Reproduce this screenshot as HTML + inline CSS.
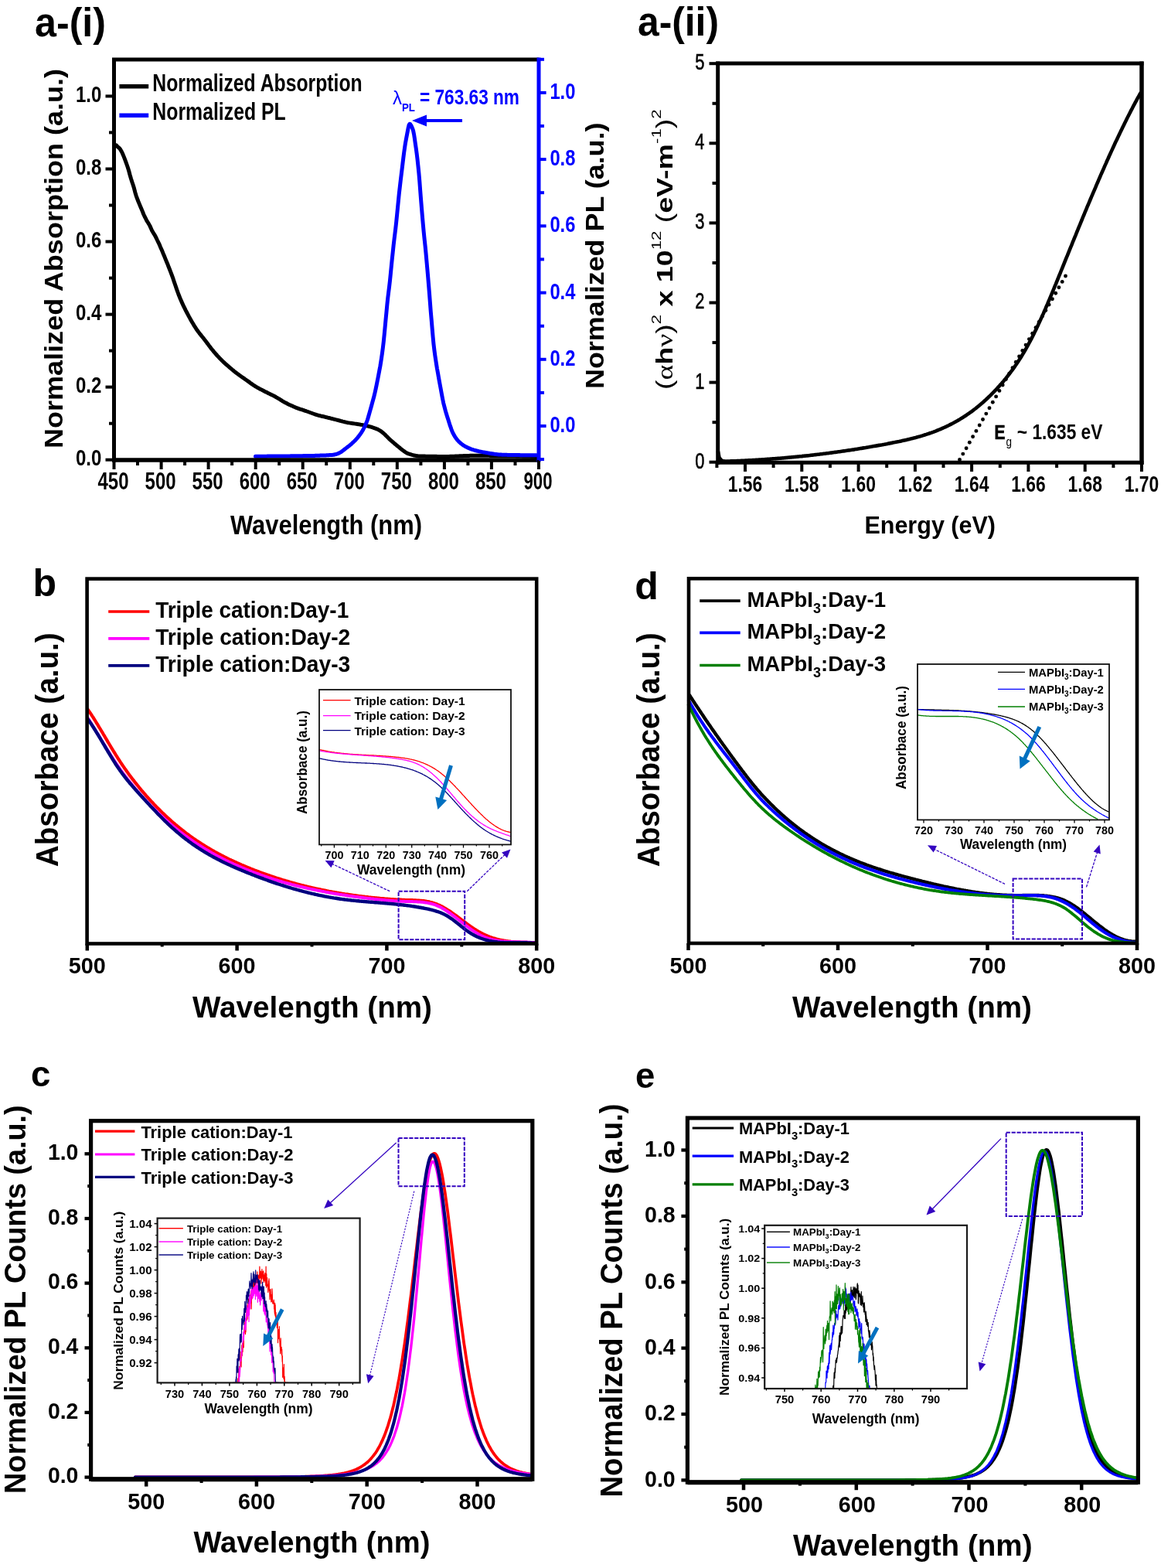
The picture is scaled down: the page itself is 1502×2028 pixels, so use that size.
<!DOCTYPE html>
<html><head><meta charset="utf-8"><title>Figure</title>
<style>
html,body{margin:0;padding:0;background:#fff;}
svg{display:block;}
</style></head><body>
<svg width="1502" height="2028" viewBox="0 0 1502 2028" font-family="'Liberation Sans', Arial, sans-serif" font-weight="bold">
<rect width="1502" height="2028" fill="#fff"/>
<text x="45" y="47.4" font-size="51" textLength="92" lengthAdjust="spacingAndGlyphs">a-(i)</text>
<path d="M150.3,187.8 L151.7,189.3 L153,190.5 L154.4,191.7 L155.8,193.4 L157.1,195.7 L158.5,198.5 L159.8,201.6 L161.2,205.1 L162.6,208.8 L163.9,212.5 L165.3,216.5 L166.7,221 L168,226 L169.4,230.8 L170.7,234.9 L172.1,239 L173.5,243.6 L174.8,248.7 L176.2,253.3 L177.6,257.1 L178.9,260.5 L180.3,263.9 L181.6,267 L183,270.2 L184.4,273.6 L185.7,277 L187.1,280 L188.5,282.7 L189.8,285.3 L191.2,287.5 L192.5,289.6 L193.9,292.1 L195.3,295.2 L196.6,298.2 L198,300.6 L199.4,302.8 L200.7,305.1 L202.1,307.7 L203.4,310.5 L204.8,313.3 L206.2,316.2 L207.5,319.4 L208.9,322.6 L210.3,325.8 L211.6,329.1 L213,332.3 L214.3,335.6 L215.7,339 L217.1,342.3 L218.4,345.8 L219.8,349.2 L221.2,352.8 L222.5,356.4 L223.9,360.2 L225.2,364.2 L226.6,368.3 L228,372.3 L229.3,376.2 L230.7,380 L232.1,383.5 L233.4,386.8 L234.8,389.9 L236.1,392.9 L237.5,395.8 L238.9,398.6 L240.2,401.3 L241.6,404 L243,406.6 L244.3,409.1 L245.7,411.6 L247,414.1 L248.4,416.5 L249.8,418.8 L251.1,421.1 L252.5,423.2 L253.9,425.3 L255.2,427.3 L256.6,429.1 L257.9,430.9 L259.3,432.7 L260.7,434.4 L262,436 L263.4,437.7 L264.8,439.5 L266.1,441.2 L267.5,443.1 L268.9,444.9 L270.2,446.7 L271.6,448.5 L272.9,450.3 L274.3,452 L275.7,453.7 L277,455.3 L278.4,456.9 L279.8,458.5 L281.1,460 L282.5,461.4 L283.8,462.9 L285.2,464.3 L286.6,465.7 L287.9,467 L289.3,468.3 L290.7,469.6 L292,470.8 L293.4,472 L294.7,473.2 L296.1,474.4 L297.5,475.6 L298.8,476.7 L300.2,477.9 L301.6,479 L302.9,480.1 L304.3,481.2 L305.6,482.2 L307,483.3 L308.4,484.3 L309.7,485.3 L311.1,486.3 L312.5,487.3 L313.8,488.2 L315.2,489.1 L316.5,490.1 L317.9,491 L319.3,492 L320.6,492.9 L322,493.9 L323.4,494.9 L324.7,495.9 L326.1,496.9 L327.4,497.8 L328.8,498.7 L330.2,499.6 L331.5,500.4 L332.9,501.2 L334.3,501.9 L335.6,502.7 L337,503.4 L338.3,504.1 L339.7,504.8 L341.1,505.5 L342.4,506.2 L343.8,506.9 L345.2,507.5 L346.5,508.2 L347.9,508.9 L349.2,509.6 L350.6,510.2 L352,510.9 L353.3,511.6 L354.7,512.3 L356.1,513 L357.4,513.8 L358.8,514.6 L360.1,515.4 L361.5,516.2 L362.9,517.1 L364.2,517.9 L365.6,518.8 L367,519.6 L368.3,520.4 L369.7,521.1 L371.1,521.8 L372.4,522.5 L373.8,523.2 L375.1,523.8 L376.5,524.4 L377.9,525 L379.2,525.6 L380.6,526.2 L382,526.8 L383.3,527.3 L384.7,527.8 L386,528.3 L387.4,528.8 L388.8,529.3 L390.1,529.7 L391.5,530.2 L392.9,530.6 L394.2,531.1 L395.6,531.5 L396.9,532 L398.3,532.5 L399.7,533 L401,533.5 L402.4,534 L403.8,534.5 L405.1,535 L406.5,535.5 L407.8,536 L409.2,536.4 L410.6,536.8 L411.9,537.2 L413.3,537.5 L414.7,537.9 L416,538.2 L417.4,538.5 L418.7,538.8 L420.1,539.1 L421.5,539.5 L422.8,539.8 L424.2,540.2 L425.6,540.5 L426.9,540.8 L428.3,541.2 L429.6,541.5 L431,541.9 L432.4,542.2 L433.7,542.6 L435.1,542.9 L436.5,543.3 L437.8,543.6 L439.2,544 L440.5,544.4 L441.9,544.7 L443.3,545.1 L444.6,545.4 L446,545.8 L447.4,546.1 L448.7,546.4 L450.1,546.7 L451.4,546.9 L452.8,547.1 L454.2,547.3 L455.5,547.5 L456.9,547.7 L458.3,547.9 L459.6,548.1 L461,548.3 L462.3,548.5 L463.7,548.7 L465.1,548.9 L466.4,549.2 L467.8,549.4 L469.2,549.6 L470.5,549.9 L471.9,550.2 L473.2,550.5 L474.6,550.8 L476,551.1 L477.3,551.5 L478.7,551.8 L480.1,552.2 L481.4,552.7 L482.8,553.1 L484.2,553.6 L485.5,554 L486.9,554.6 L488.2,555.1 L489.6,555.8 L491,556.6 L492.3,557.4 L493.7,558.4 L495.1,559.5 L496.4,560.6 L497.8,561.8 L499.1,563.2 L500.5,564.6 L501.9,566 L503.2,567.3 L504.6,568.6 L506,569.8 L507.3,571 L508.7,572.2 L510,573.3 L511.4,574.5 L512.8,575.6 L514.1,576.8 L515.5,577.9 L516.9,579 L518.2,580.1 L519.6,581.2 L520.9,582.2 L522.3,583.2 L523.7,584.3 L525,585.2 L526.4,586 L527.8,586.6 L529.1,587 L530.5,587.5 L531.8,587.9 L533.2,588.3 L534.6,588.7 L535.9,589 L537.3,589.3 L538.7,589.5 L540,589.7 L541.4,589.9 L542.7,590 L544.1,590 L545.5,590 L546.8,590.1 L548.2,590.1 L549.6,590.1 L550.9,590.2 L552.3,590.2 L553.6,590.2 L555,590.2 L556.4,590.3 L557.7,590.3 L559.1,590.3 L560.5,590.3 L561.8,590.3 L563.2,590.3 L564.5,590.3 L565.9,590.4 L567.3,590.4 L568.6,590.4 L570,590.4 L571.4,590.4 L572.7,590.4 L574.1,590.4 L575.4,590.4 L576.8,590.4 L578.2,590.4 L579.5,590.4 L580.9,590.4 L582.3,590.3 L583.6,590.3 L585,590.3 L586.4,590.2 L587.7,590.2 L589.1,590.1 L590.4,590 L591.8,590 L593.2,589.9 L594.5,589.8 L595.9,589.8 L597.3,589.7 L598.6,589.7 L600,589.6 L601.3,589.5 L602.7,589.5 L604.1,589.4 L605.4,589.4 L606.8,589.4 L608.2,589.3 L609.5,589.3 L610.9,589.3 L612.2,589.3 L613.6,589.3 L615,589.3 L616.3,589.3 L617.7,589.3 L619.1,589.3 L620.4,589.3 L621.8,589.3 L623.1,589.3 L624.5,589.3 L625.9,589.3 L627.2,589.3 L628.6,589.3 L630,589.3 L631.3,589.3 L632.7,589.3 L634,589.4 L635.4,589.4 L636.8,589.4 L638.1,589.4 L639.5,589.4 L640.9,589.4 L642.2,589.4 L643.6,589.4 L644.9,589.4 L646.3,589.4 L647.7,589.4 L649,589.4 L650.4,589.5 L651.8,589.5 L653.1,589.5 L654.5,589.5 L655.8,589.5 L657.2,589.5 L658.6,589.5 L659.9,589.5 L661.3,589.5 L662.7,589.6 L664,589.6 L665.4,589.6 L666.7,589.6 L668.1,589.7 L669.5,589.7 L670.8,589.7 L672.2,589.8 L673.6,589.8 L674.9,589.8 L676.3,589.9 L677.6,589.9 L679,589.9 L680.4,590 L681.7,590 L683.1,590 L684.5,590.1 L685.8,590.1 L687.2,590.2 L688.5,590.2 L689.9,590.3 L691.3,590.3 L692.6,590.4 L694,590.4" fill="none" stroke="#000" stroke-width="5" stroke-linejoin="round" stroke-linecap="round" />
<path d="M330.5,590.2 L331.4,590.2 L332.3,590.2 L333.2,590.2 L334.1,590.2 L335.1,590.2 L336,590.2 L336.9,590.2 L337.8,590.2 L338.7,590.2 L339.6,590.2 L340.5,590.2 L341.4,590.2 L342.3,590.2 L343.3,590.2 L344.2,590.2 L345.1,590.2 L346,590.1 L346.9,590.1 L347.8,590.1 L348.7,590.1 L349.6,590.1 L350.5,590.1 L351.5,590.1 L352.4,590.1 L353.3,590.1 L354.2,590.1 L355.1,590.1 L356,590.1 L356.9,590.1 L357.8,590.1 L358.7,590 L359.7,590 L360.6,590 L361.5,590 L362.4,590 L363.3,590 L364.2,590 L365.1,590 L366,590 L366.9,590 L367.9,589.9 L368.8,589.9 L369.7,589.9 L370.6,589.9 L371.5,589.9 L372.4,589.9 L373.3,589.9 L374.2,589.9 L375.1,589.9 L376.1,589.8 L377,589.8 L377.9,589.8 L378.8,589.8 L379.7,589.8 L380.6,589.8 L381.5,589.8 L382.4,589.8 L383.3,589.8 L384.3,589.7 L385.2,589.7 L386.1,589.7 L387,589.7 L387.9,589.7 L388.8,589.7 L389.7,589.7 L390.6,589.7 L391.5,589.7 L392.4,589.6 L393.4,589.6 L394.3,589.6 L395.2,589.6 L396.1,589.6 L397,589.6 L397.9,589.6 L398.8,589.5 L399.7,589.5 L400.6,589.5 L401.6,589.5 L402.5,589.5 L403.4,589.5 L404.3,589.4 L405.2,589.4 L406.1,589.4 L407,589.4 L407.9,589.3 L408.8,589.3 L409.8,589.3 L410.7,589.3 L411.6,589.2 L412.5,589.2 L413.4,589.2 L414.3,589.1 L415.2,589.1 L416.1,589.1 L417,589 L418,589 L418.9,589 L419.8,588.9 L420.7,588.9 L421.6,588.9 L422.5,588.8 L423.4,588.8 L424.3,588.7 L425.2,588.7 L426.2,588.6 L427.1,588.6 L428,588.5 L428.9,588.5 L429.8,588.4 L430.7,588.3 L431.6,588.2 L432.5,588 L433.4,587.8 L434.4,587.6 L435.3,587.3 L436.2,587 L437.1,586.6 L438,586.3 L438.9,585.9 L439.8,585.4 L440.7,584.9 L441.6,584.3 L442.6,583.6 L443.5,582.9 L444.4,582.2 L445.3,581.5 L446.2,580.8 L447.1,580.1 L448,579.4 L448.9,578.7 L449.8,578 L450.8,577.3 L451.7,576.6 L452.6,575.8 L453.5,575.1 L454.4,574.3 L455.3,573.5 L456.2,572.7 L457.1,571.8 L458,571 L459,570.1 L459.9,569.1 L460.8,568.1 L461.7,567.1 L462.6,566.1 L463.5,564.9 L464.4,563.8 L465.3,562.6 L466.2,561.3 L467.2,559.9 L468.1,558.5 L469,557 L469.9,555.4 L470.8,553.7 L471.7,551.9 L472.6,550 L473.5,547.9 L474.4,545.7 L475.4,543 L476.3,540 L477.2,536.8 L478.1,533.6 L479,530.4 L479.9,527.2 L480.8,524 L481.7,520.7 L482.6,517.3 L483.6,513.8 L484.5,510.2 L485.4,506.2 L486.3,502.1 L487.2,497.7 L488.1,493.2 L489,488.7 L489.9,484.1 L490.8,479.2 L491.8,474 L492.7,468.5 L493.6,462.7 L494.5,456.4 L495.4,449.5 L496.3,441.7 L497.2,432.7 L498.1,423.2 L499,413.6 L500,403.3 L500.9,393.4 L501.8,385 L502.7,377.8 L503.6,370.6 L504.5,362.7 L505.4,353.8 L506.3,344.6 L507.2,335.5 L508.2,326.3 L509.1,317.6 L510,309.7 L510.9,302.5 L511.8,295.1 L512.7,286.9 L513.6,277.9 L514.5,268.7 L515.4,259.6 L516.3,250.5 L517.3,241.9 L518.2,234 L519.1,226.6 L520,219.4 L520.9,211.9 L521.8,204.4 L522.7,197.2 L523.6,190.8 L524.5,184.9 L525.5,179.5 L526.4,174.7 L527.3,170 L528.2,165.3 L529.1,161.7 L530,160.3 L530.9,160.8 L531.8,162.1 L532.7,164 L533.7,166.4 L534.6,169 L535.5,173.4 L536.4,179.2 L537.3,185.6 L538.2,191.7 L539.1,198.3 L540,205.7 L540.9,214.3 L541.9,223.9 L542.8,234.5 L543.7,246.6 L544.6,258.3 L545.5,269.3 L546.4,280 L547.3,290.3 L548.2,299.9 L549.1,309.1 L550.1,318.1 L551,327.5 L551.9,337.4 L552.8,347.6 L553.7,358 L554.6,368.8 L555.5,379.7 L556.4,391.5 L557.3,403.4 L558.3,414.7 L559.2,425.5 L560.1,435.9 L561,445.2 L561.9,452.9 L562.8,459.6 L563.7,465.7 L564.6,471.5 L565.5,477.1 L566.5,482.5 L567.4,487.7 L568.3,492.7 L569.2,497.6 L570.1,502.4 L571,507.4 L571.9,512.2 L572.8,516.9 L573.7,521.3 L574.7,525.2 L575.6,528.7 L576.5,532 L577.4,535 L578.3,537.9 L579.2,540.8 L580.1,543.6 L581,546.4 L581.9,549.3 L582.9,552.1 L583.8,554.8 L584.7,557.2 L585.6,559.3 L586.5,561.1 L587.4,562.7 L588.3,564.3 L589.2,565.7 L590.1,567 L591.1,568.3 L592,569.4 L592.9,570.4 L593.8,571.3 L594.7,572.1 L595.6,573 L596.5,573.7 L597.4,574.4 L598.3,575.1 L599.3,575.8 L600.2,576.4 L601.1,576.9 L602,577.5 L602.9,577.9 L603.8,578.4 L604.7,578.8 L605.6,579.3 L606.5,579.7 L607.5,580 L608.4,580.4 L609.3,580.8 L610.2,581.1 L611.1,581.4 L612,581.7 L612.9,582 L613.8,582.3 L614.7,582.5 L615.7,582.8 L616.6,583 L617.5,583.2 L618.4,583.4 L619.3,583.7 L620.2,583.9 L621.1,584.1 L622,584.2 L622.9,584.4 L623.9,584.6 L624.8,584.8 L625.7,584.9 L626.6,585.1 L627.5,585.2 L628.4,585.4 L629.3,585.6 L630.2,585.7 L631.1,585.9 L632.1,586.1 L633,586.2 L633.9,586.4 L634.8,586.5 L635.7,586.7 L636.6,586.8 L637.5,587 L638.4,587.1 L639.3,587.2 L640.2,587.4 L641.2,587.5 L642.1,587.6 L643,587.7 L643.9,587.8 L644.8,587.9 L645.7,588 L646.6,588 L647.5,588.1 L648.4,588.1 L649.4,588.2 L650.3,588.2 L651.2,588.2 L652.1,588.3 L653,588.3 L653.9,588.3 L654.8,588.3 L655.7,588.3 L656.6,588.4 L657.6,588.4 L658.5,588.4 L659.4,588.4 L660.3,588.4 L661.2,588.5 L662.1,588.5 L663,588.5 L663.9,588.5 L664.8,588.5 L665.8,588.5 L666.7,588.6 L667.6,588.6 L668.5,588.6 L669.4,588.6 L670.3,588.6 L671.2,588.6 L672.1,588.6 L673,588.7 L674,588.7 L674.9,588.7 L675.8,588.7 L676.7,588.7 L677.6,588.7 L678.5,588.7 L679.4,588.7 L680.3,588.7 L681.2,588.7 L682.2,588.8 L683.1,588.8 L684,588.8 L684.9,588.8 L685.8,588.8 L686.7,588.8 L687.6,588.8 L688.5,588.8 L689.4,588.8 L690.4,588.8 L691.3,588.8 L692.2,588.8 L693.1,588.8 L694,588.8" fill="none" stroke="#0000ff" stroke-width="5" stroke-linejoin="round" stroke-linecap="round" />
<line x1="147.5" y1="77" x2="147.5" y2="597.5" stroke="#000" stroke-width="5" />
<line x1="145" y1="595" x2="697" y2="595" stroke="#000" stroke-width="5.5" />
<line x1="145" y1="77" x2="697" y2="77" stroke="#000" stroke-width="5" />
<line x1="697" y1="74.5" x2="697" y2="597.5" stroke="#0000ff" stroke-width="5" />
<line x1="136.5" y1="594.7" x2="147.5" y2="594.7" stroke="#000" stroke-width="4" />
<text x="131.4" y="602.3" font-size="30" text-anchor="end" textLength="33.4" lengthAdjust="spacingAndGlyphs">0.0</text>
<line x1="141" y1="547.7" x2="147.5" y2="547.7" stroke="#000" stroke-width="4" />
<line x1="136.5" y1="500.6" x2="147.5" y2="500.6" stroke="#000" stroke-width="4" />
<text x="131.4" y="508.2" font-size="30" text-anchor="end" textLength="33.4" lengthAdjust="spacingAndGlyphs">0.2</text>
<line x1="141" y1="453.6" x2="147.5" y2="453.6" stroke="#000" stroke-width="4" />
<line x1="136.5" y1="406.6" x2="147.5" y2="406.6" stroke="#000" stroke-width="4" />
<text x="131.4" y="414.2" font-size="30" text-anchor="end" textLength="33.4" lengthAdjust="spacingAndGlyphs">0.4</text>
<line x1="141" y1="359.6" x2="147.5" y2="359.6" stroke="#000" stroke-width="4" />
<line x1="136.5" y1="312.5" x2="147.5" y2="312.5" stroke="#000" stroke-width="4" />
<text x="131.4" y="320.1" font-size="30" text-anchor="end" textLength="33.4" lengthAdjust="spacingAndGlyphs">0.6</text>
<line x1="141" y1="265.5" x2="147.5" y2="265.5" stroke="#000" stroke-width="4" />
<line x1="136.5" y1="218.5" x2="147.5" y2="218.5" stroke="#000" stroke-width="4" />
<text x="131.4" y="226.1" font-size="30" text-anchor="end" textLength="33.4" lengthAdjust="spacingAndGlyphs">0.8</text>
<line x1="141" y1="171.4" x2="147.5" y2="171.4" stroke="#000" stroke-width="4" />
<line x1="136.5" y1="124.4" x2="147.5" y2="124.4" stroke="#000" stroke-width="4" />
<text x="131.4" y="132" font-size="30" text-anchor="end" textLength="33.4" lengthAdjust="spacingAndGlyphs">1.0</text>
<line x1="147.5" y1="595" x2="147.5" y2="607" stroke="#000" stroke-width="4" />
<text x="146.5" y="633" font-size="31" text-anchor="middle" textLength="40" lengthAdjust="spacingAndGlyphs">450</text>
<line x1="178" y1="595" x2="178" y2="602" stroke="#000" stroke-width="4" />
<line x1="208.6" y1="595" x2="208.6" y2="607" stroke="#000" stroke-width="4" />
<text x="207.6" y="633" font-size="31" text-anchor="middle" textLength="40" lengthAdjust="spacingAndGlyphs">500</text>
<line x1="239.1" y1="595" x2="239.1" y2="602" stroke="#000" stroke-width="4" />
<line x1="269.6" y1="595" x2="269.6" y2="607" stroke="#000" stroke-width="4" />
<text x="268.6" y="633" font-size="31" text-anchor="middle" textLength="40" lengthAdjust="spacingAndGlyphs">550</text>
<line x1="300.1" y1="595" x2="300.1" y2="602" stroke="#000" stroke-width="4" />
<line x1="330.7" y1="595" x2="330.7" y2="607" stroke="#000" stroke-width="4" />
<text x="329.7" y="633" font-size="31" text-anchor="middle" textLength="40" lengthAdjust="spacingAndGlyphs">600</text>
<line x1="361.2" y1="595" x2="361.2" y2="602" stroke="#000" stroke-width="4" />
<line x1="391.7" y1="595" x2="391.7" y2="607" stroke="#000" stroke-width="4" />
<text x="390.7" y="633" font-size="31" text-anchor="middle" textLength="40" lengthAdjust="spacingAndGlyphs">650</text>
<line x1="422.2" y1="595" x2="422.2" y2="602" stroke="#000" stroke-width="4" />
<line x1="452.8" y1="595" x2="452.8" y2="607" stroke="#000" stroke-width="4" />
<text x="451.8" y="633" font-size="31" text-anchor="middle" textLength="40" lengthAdjust="spacingAndGlyphs">700</text>
<line x1="483.3" y1="595" x2="483.3" y2="602" stroke="#000" stroke-width="4" />
<line x1="513.8" y1="595" x2="513.8" y2="607" stroke="#000" stroke-width="4" />
<text x="512.8" y="633" font-size="31" text-anchor="middle" textLength="40" lengthAdjust="spacingAndGlyphs">750</text>
<line x1="544.4" y1="595" x2="544.4" y2="602" stroke="#000" stroke-width="4" />
<line x1="574.9" y1="595" x2="574.9" y2="607" stroke="#000" stroke-width="4" />
<text x="573.9" y="633" font-size="31" text-anchor="middle" textLength="40" lengthAdjust="spacingAndGlyphs">800</text>
<line x1="605.4" y1="595" x2="605.4" y2="602" stroke="#000" stroke-width="4" />
<line x1="635.9" y1="595" x2="635.9" y2="607" stroke="#000" stroke-width="4" />
<text x="634.9" y="633" font-size="31" text-anchor="middle" textLength="40" lengthAdjust="spacingAndGlyphs">850</text>
<line x1="666.5" y1="595" x2="666.5" y2="602" stroke="#000" stroke-width="4" />
<line x1="697" y1="595" x2="697" y2="607" stroke="#000" stroke-width="4" />
<text x="696" y="633" font-size="31" text-anchor="middle" textLength="37" lengthAdjust="spacingAndGlyphs">900</text>
<line x1="697" y1="594.1" x2="704" y2="594.1" stroke="#0000ff" stroke-width="4" />
<line x1="697" y1="551" x2="706.6" y2="551" stroke="#0000ff" stroke-width="4" />
<text x="711.4" y="559" font-size="30" fill="#0000ff" textLength="33" lengthAdjust="spacingAndGlyphs">0.0</text>
<line x1="697" y1="507.9" x2="704" y2="507.9" stroke="#0000ff" stroke-width="4" />
<line x1="697" y1="464.8" x2="706.6" y2="464.8" stroke="#0000ff" stroke-width="4" />
<text x="711.4" y="472.8" font-size="30" fill="#0000ff" textLength="33" lengthAdjust="spacingAndGlyphs">0.2</text>
<line x1="697" y1="421.7" x2="704" y2="421.7" stroke="#0000ff" stroke-width="4" />
<line x1="697" y1="378.6" x2="706.6" y2="378.6" stroke="#0000ff" stroke-width="4" />
<text x="711.4" y="386.6" font-size="30" fill="#0000ff" textLength="33" lengthAdjust="spacingAndGlyphs">0.4</text>
<line x1="697" y1="335.4" x2="704" y2="335.4" stroke="#0000ff" stroke-width="4" />
<line x1="697" y1="292.3" x2="706.6" y2="292.3" stroke="#0000ff" stroke-width="4" />
<text x="711.4" y="300.3" font-size="30" fill="#0000ff" textLength="33" lengthAdjust="spacingAndGlyphs">0.6</text>
<line x1="697" y1="249.2" x2="704" y2="249.2" stroke="#0000ff" stroke-width="4" />
<line x1="697" y1="206.1" x2="706.6" y2="206.1" stroke="#0000ff" stroke-width="4" />
<text x="711.4" y="214.1" font-size="30" fill="#0000ff" textLength="33" lengthAdjust="spacingAndGlyphs">0.8</text>
<line x1="697" y1="163" x2="704" y2="163" stroke="#0000ff" stroke-width="4" />
<line x1="697" y1="119.9" x2="706.6" y2="119.9" stroke="#0000ff" stroke-width="4" />
<text x="711.4" y="127.9" font-size="30" fill="#0000ff" textLength="33" lengthAdjust="spacingAndGlyphs">1.0</text>
<line x1="697" y1="76.8" x2="704" y2="76.8" stroke="#0000ff" stroke-width="4" />
<text x="0" y="0" transform="translate(81.4,580) rotate(-90)" font-size="34" textLength="491" lengthAdjust="spacingAndGlyphs">Normalized Absorption (a.u.)</text>
<text x="0" y="0" transform="translate(780.6,503) rotate(-90)" font-size="34" textLength="344.5" lengthAdjust="spacingAndGlyphs">Normalized PL (a.u.)</text>
<text x="298" y="691.4" font-size="34.5" textLength="248" lengthAdjust="spacingAndGlyphs">Wavelength (nm)</text>
<line x1="154.4" y1="111.8" x2="192.2" y2="111.8" stroke="#000" stroke-width="5.5" />
<line x1="154.4" y1="149.2" x2="192.2" y2="149.2" stroke="#0000ff" stroke-width="5.5" />
<text x="197.3" y="118" font-size="31.5" textLength="271.4" lengthAdjust="spacingAndGlyphs">Normalized Absorption</text>
<text x="197.3" y="154.9" font-size="31.5" textLength="172.5" lengthAdjust="spacingAndGlyphs">Normalized PL</text>
<text x="508" y="135" font-size="24" fill="#0000ff" font-weight="normal" textLength="12" lengthAdjust="spacingAndGlyphs">λ</text>
<text x="520" y="144" font-size="15" fill="#0000ff" textLength="17" lengthAdjust="spacingAndGlyphs">PL</text>
<text x="543" y="135" font-size="27" fill="#0000ff" textLength="129" lengthAdjust="spacingAndGlyphs">= 763.63 nm</text>
<line x1="598" y1="156" x2="545" y2="156" stroke="#0000ff" stroke-width="4" />
<path d="M533,156 L552,148.5 L552,163.5Z" fill="#0000ff"/>
<text x="825" y="45.5" font-size="51" textLength="105" lengthAdjust="spacingAndGlyphs">a-(ii)</text>
<path d="M929,584 L930.5,592 L934,596 L938,596.8" fill="none" stroke="#000" stroke-width="4.6" stroke-linejoin="round" stroke-linecap="round" />
<path d="M936,596.8 L937.4,596.7 L938.7,596.7 L940.1,596.6 L941.4,596.6 L942.8,596.5 L944.1,596.5 L945.5,596.4 L946.8,596.4 L948.2,596.3 L949.5,596.3 L950.9,596.2 L952.2,596.2 L953.6,596.1 L954.9,596.1 L956.3,596 L957.6,596 L959,595.9 L960.3,595.8 L961.7,595.8 L963,595.7 L964.4,595.6 L965.7,595.6 L967.1,595.5 L968.5,595.4 L969.8,595.4 L971.2,595.3 L972.5,595.2 L973.9,595.1 L975.2,595.1 L976.6,595 L977.9,594.9 L979.3,594.8 L980.6,594.7 L982,594.6 L983.3,594.6 L984.7,594.5 L986,594.4 L987.4,594.3 L988.7,594.2 L990.1,594.1 L991.4,594 L992.8,593.9 L994.1,593.8 L995.5,593.7 L996.8,593.6 L998.2,593.5 L999.6,593.4 L1000.9,593.3 L1002.3,593.2 L1003.6,593.1 L1005,593 L1006.3,592.9 L1007.7,592.8 L1009,592.7 L1010.4,592.6 L1011.7,592.5 L1013.1,592.4 L1014.4,592.2 L1015.8,592.1 L1017.1,592 L1018.5,591.9 L1019.8,591.8 L1021.2,591.6 L1022.5,591.5 L1023.9,591.4 L1025.2,591.3 L1026.6,591.1 L1027.9,591 L1029.3,590.9 L1030.6,590.8 L1032,590.6 L1033.4,590.5 L1034.7,590.3 L1036.1,590.2 L1037.4,590.1 L1038.8,589.9 L1040.1,589.8 L1041.5,589.6 L1042.8,589.5 L1044.2,589.4 L1045.5,589.2 L1046.9,589.1 L1048.2,588.9 L1049.6,588.8 L1050.9,588.6 L1052.3,588.5 L1053.6,588.3 L1055,588.1 L1056.3,588 L1057.7,587.8 L1059,587.7 L1060.4,587.5 L1061.7,587.3 L1063.1,587.2 L1064.5,587 L1065.8,586.8 L1067.2,586.7 L1068.5,586.5 L1069.9,586.3 L1071.2,586.2 L1072.6,586 L1073.9,585.8 L1075.3,585.6 L1076.6,585.4 L1078,585.3 L1079.3,585.1 L1080.7,584.9 L1082,584.7 L1083.4,584.5 L1084.7,584.3 L1086.1,584.2 L1087.4,584 L1088.8,583.8 L1090.1,583.6 L1091.5,583.4 L1092.8,583.2 L1094.2,583 L1095.6,582.8 L1096.9,582.6 L1098.3,582.4 L1099.6,582.2 L1101,582 L1102.3,581.8 L1103.7,581.6 L1105,581.4 L1106.4,581.1 L1107.7,580.9 L1109.1,580.7 L1110.4,580.5 L1111.8,580.3 L1113.1,580.1 L1114.5,579.9 L1115.8,579.6 L1117.2,579.4 L1118.5,579.2 L1119.9,579 L1121.2,578.7 L1122.6,578.5 L1123.9,578.3 L1125.3,578 L1126.7,577.8 L1128,577.6 L1129.4,577.3 L1130.7,577.1 L1132.1,576.9 L1133.4,576.6 L1134.8,576.4 L1136.1,576.1 L1137.5,575.9 L1138.8,575.7 L1140.2,575.4 L1141.5,575.2 L1142.9,574.9 L1144.2,574.7 L1145.6,574.4 L1146.9,574.2 L1148.3,573.9 L1149.6,573.6 L1151,573.4 L1152.3,573.1 L1153.7,572.9 L1155,572.6 L1156.4,572.3 L1157.7,572.1 L1159.1,571.8 L1160.5,571.5 L1161.8,571.2 L1163.2,571 L1164.5,570.7 L1165.9,570.4 L1167.2,570.1 L1168.6,569.8 L1169.9,569.5 L1171.3,569.2 L1172.6,568.9 L1174,568.6 L1175.3,568.2 L1176.7,567.9 L1178,567.6 L1179.4,567.3 L1180.7,566.9 L1182.1,566.6 L1183.4,566.2 L1184.8,565.9 L1186.1,565.5 L1187.5,565.1 L1188.8,564.7 L1190.2,564.4 L1191.6,564 L1192.9,563.6 L1194.3,563.1 L1195.6,562.7 L1197,562.3 L1198.3,561.9 L1199.7,561.4 L1201,561 L1202.4,560.5 L1203.7,560 L1205.1,559.6 L1206.4,559.1 L1207.8,558.6 L1209.1,558.1 L1210.5,557.6 L1211.8,557 L1213.2,556.5 L1214.5,555.9 L1215.9,555.4 L1217.2,554.8 L1218.6,554.2 L1219.9,553.6 L1221.3,553 L1222.7,552.4 L1224,551.8 L1225.4,551.1 L1226.7,550.5 L1228.1,549.8 L1229.4,549.1 L1230.8,548.4 L1232.1,547.7 L1233.5,547 L1234.8,546.3 L1236.2,545.5 L1237.5,544.8 L1238.9,544 L1240.2,543.2 L1241.6,542.4 L1242.9,541.6 L1244.3,540.8 L1245.6,539.9 L1247,539.1 L1248.3,538.2 L1249.7,537.3 L1251,536.4 L1252.4,535.4 L1253.8,534.5 L1255.1,533.5 L1256.5,532.6 L1257.8,531.6 L1259.2,530.6 L1260.5,529.5 L1261.9,528.5 L1263.2,527.4 L1264.6,526.3 L1265.9,525.2 L1267.3,524.1 L1268.6,523 L1270,521.8 L1271.3,520.7 L1272.7,519.5 L1274,518.2 L1275.4,517 L1276.7,515.8 L1278.1,514.5 L1279.4,513.2 L1280.8,511.9 L1282.1,510.6 L1283.5,509.2 L1284.8,507.8 L1286.2,506.4 L1287.6,505 L1288.9,503.6 L1290.3,502.1 L1291.6,500.6 L1293,499.1 L1294.3,497.6 L1295.7,496.1 L1297,494.5 L1298.4,492.9 L1299.7,491.3 L1301.1,489.6 L1302.4,487.9 L1303.8,486.2 L1305.1,484.5 L1306.5,482.7 L1307.8,480.9 L1309.2,479.1 L1310.5,477.3 L1311.9,475.4 L1313.2,473.4 L1314.6,471.5 L1315.9,469.5 L1317.3,467.4 L1318.7,465.3 L1320,463.2 L1321.4,461.1 L1322.7,458.9 L1324.1,456.6 L1325.4,454.3 L1326.8,452 L1328.1,449.6 L1329.5,447.2 L1330.8,444.7 L1332.2,442.2 L1333.5,439.7 L1334.9,437.1 L1336.2,434.4 L1337.6,431.7 L1338.9,428.9 L1340.3,426.2 L1341.6,423.3 L1343,420.4 L1344.3,417.5 L1345.7,414.6 L1347,411.6 L1348.4,408.6 L1349.8,405.6 L1351.1,402.5 L1352.5,399.4 L1353.8,396.2 L1355.2,393.1 L1356.5,389.9 L1357.9,386.7 L1359.2,383.5 L1360.6,380.2 L1361.9,377 L1363.3,373.7 L1364.6,370.4 L1366,367.1 L1367.3,363.8 L1368.7,360.5 L1370,357.2 L1371.4,353.8 L1372.7,350.5 L1374.1,347.1 L1375.4,343.8 L1376.8,340.4 L1378.1,337.1 L1379.5,333.7 L1380.9,330.4 L1382.2,327.1 L1383.6,323.7 L1384.9,320.4 L1386.3,317.1 L1387.6,313.7 L1389,310.4 L1390.3,307.1 L1391.7,303.8 L1393,300.5 L1394.4,297.2 L1395.7,293.9 L1397.1,290.6 L1398.4,287.3 L1399.8,284 L1401.1,280.7 L1402.5,277.5 L1403.8,274.2 L1405.2,271 L1406.5,267.7 L1407.9,264.5 L1409.2,261.3 L1410.6,258 L1411.9,254.8 L1413.3,251.6 L1414.7,248.4 L1416,245.3 L1417.4,242.1 L1418.7,238.9 L1420.1,235.8 L1421.4,232.7 L1422.8,229.5 L1424.1,226.4 L1425.5,223.3 L1426.8,220.3 L1428.2,217.2 L1429.5,214.1 L1430.9,211.1 L1432.2,208 L1433.6,205 L1434.9,202 L1436.3,199 L1437.6,196.1 L1439,193.1 L1440.3,190.2 L1441.7,187.2 L1443,184.3 L1444.4,181.4 L1445.8,178.6 L1447.1,175.7 L1448.5,172.9 L1449.8,170.1 L1451.2,167.3 L1452.5,164.5 L1453.9,161.7 L1455.2,159 L1456.6,156.2 L1457.9,153.5 L1459.3,150.8 L1460.6,148.2 L1462,145.5 L1463.3,142.9 L1464.7,140.3 L1466,137.7 L1467.4,135.2 L1468.7,132.6 L1470.1,130.1 L1471.4,127.6 L1472.8,125.2 L1474.1,122.7 L1475.5,120.3" fill="none" stroke="#000" stroke-width="4.6" stroke-linejoin="round" stroke-linecap="round" />
<circle cx="1241.5" cy="594.5" r="2.45" fill="#000"/>
<circle cx="1245.8" cy="587.1" r="2.45" fill="#000"/>
<circle cx="1250.1" cy="579.7" r="2.45" fill="#000"/>
<circle cx="1254.3" cy="572.2" r="2.45" fill="#000"/>
<circle cx="1258.6" cy="564.8" r="2.45" fill="#000"/>
<circle cx="1262.9" cy="557.4" r="2.45" fill="#000"/>
<circle cx="1267.2" cy="550" r="2.45" fill="#000"/>
<circle cx="1271.5" cy="542.5" r="2.45" fill="#000"/>
<circle cx="1275.8" cy="535.1" r="2.45" fill="#000"/>
<circle cx="1280" cy="527.7" r="2.45" fill="#000"/>
<circle cx="1284.3" cy="520.3" r="2.45" fill="#000"/>
<circle cx="1288.6" cy="512.9" r="2.45" fill="#000"/>
<circle cx="1292.9" cy="505.4" r="2.45" fill="#000"/>
<circle cx="1297.2" cy="498" r="2.45" fill="#000"/>
<circle cx="1301.4" cy="490.6" r="2.45" fill="#000"/>
<circle cx="1305.7" cy="483.2" r="2.45" fill="#000"/>
<circle cx="1310" cy="475.8" r="2.45" fill="#000"/>
<circle cx="1314.3" cy="468.3" r="2.45" fill="#000"/>
<circle cx="1318.6" cy="460.9" r="2.45" fill="#000"/>
<circle cx="1322.8" cy="453.5" r="2.45" fill="#000"/>
<circle cx="1327.1" cy="446.1" r="2.45" fill="#000"/>
<circle cx="1331.4" cy="438.6" r="2.45" fill="#000"/>
<circle cx="1335.7" cy="431.2" r="2.45" fill="#000"/>
<circle cx="1340" cy="423.8" r="2.45" fill="#000"/>
<circle cx="1344.2" cy="416.4" r="2.45" fill="#000"/>
<circle cx="1348.5" cy="409" r="2.45" fill="#000"/>
<circle cx="1352.8" cy="401.5" r="2.45" fill="#000"/>
<circle cx="1357.1" cy="394.1" r="2.45" fill="#000"/>
<circle cx="1361.4" cy="386.7" r="2.45" fill="#000"/>
<circle cx="1365.7" cy="379.3" r="2.45" fill="#000"/>
<circle cx="1369.9" cy="371.8" r="2.45" fill="#000"/>
<circle cx="1374.2" cy="364.4" r="2.45" fill="#000"/>
<circle cx="1378.5" cy="357" r="2.45" fill="#000"/>
<line x1="928.7" y1="79.5" x2="928.7" y2="600.8" stroke="#000" stroke-width="5" />
<line x1="926.2" y1="598.3" x2="1479.5" y2="598.3" stroke="#000" stroke-width="5" />
<line x1="926.2" y1="82" x2="1479.5" y2="82" stroke="#000" stroke-width="5" />
<line x1="1477" y1="79.5" x2="1477" y2="600.8" stroke="#000" stroke-width="5.5" />
<line x1="917.5" y1="597.7" x2="928.7" y2="597.7" stroke="#000" stroke-width="4" />
<text x="911.4" y="605.6" font-size="30" text-anchor="end" font-weight="normal" textLength="12.2" lengthAdjust="spacingAndGlyphs" stroke="#000" stroke-width="0.6">0</text>
<line x1="921.5" y1="546.2" x2="928.7" y2="546.2" stroke="#000" stroke-width="4" />
<line x1="917.5" y1="494.6" x2="928.7" y2="494.6" stroke="#000" stroke-width="4" />
<text x="911.4" y="502.5" font-size="30" text-anchor="end" font-weight="normal" textLength="12.2" lengthAdjust="spacingAndGlyphs" stroke="#000" stroke-width="0.6">1</text>
<line x1="921.5" y1="443.1" x2="928.7" y2="443.1" stroke="#000" stroke-width="4" />
<line x1="917.5" y1="391.5" x2="928.7" y2="391.5" stroke="#000" stroke-width="4" />
<text x="911.4" y="399.4" font-size="30" text-anchor="end" font-weight="normal" textLength="12.2" lengthAdjust="spacingAndGlyphs" stroke="#000" stroke-width="0.6">2</text>
<line x1="921.5" y1="340" x2="928.7" y2="340" stroke="#000" stroke-width="4" />
<line x1="917.5" y1="288.4" x2="928.7" y2="288.4" stroke="#000" stroke-width="4" />
<text x="911.4" y="296.3" font-size="30" text-anchor="end" font-weight="normal" textLength="12.2" lengthAdjust="spacingAndGlyphs" stroke="#000" stroke-width="0.6">3</text>
<line x1="921.5" y1="236.9" x2="928.7" y2="236.9" stroke="#000" stroke-width="4" />
<line x1="917.5" y1="185.3" x2="928.7" y2="185.3" stroke="#000" stroke-width="4" />
<text x="911.4" y="193.2" font-size="30" text-anchor="end" font-weight="normal" textLength="12.2" lengthAdjust="spacingAndGlyphs" stroke="#000" stroke-width="0.6">4</text>
<line x1="921.5" y1="133.8" x2="928.7" y2="133.8" stroke="#000" stroke-width="4" />
<line x1="917.5" y1="82.2" x2="928.7" y2="82.2" stroke="#000" stroke-width="4" />
<text x="911.4" y="90.1" font-size="30" text-anchor="end" font-weight="normal" textLength="12.2" lengthAdjust="spacingAndGlyphs" stroke="#000" stroke-width="0.6">5</text>
<line x1="927.4" y1="598.3" x2="927.4" y2="605" stroke="#000" stroke-width="4" />
<line x1="964" y1="598.3" x2="964" y2="610" stroke="#000" stroke-width="4" />
<text x="964" y="635.5" font-size="30" text-anchor="middle" textLength="44.5" lengthAdjust="spacingAndGlyphs">1.56</text>
<line x1="1000.6" y1="598.3" x2="1000.6" y2="605" stroke="#000" stroke-width="4" />
<line x1="1037.3" y1="598.3" x2="1037.3" y2="610" stroke="#000" stroke-width="4" />
<text x="1037.3" y="635.5" font-size="30" text-anchor="middle" textLength="44.5" lengthAdjust="spacingAndGlyphs">1.58</text>
<line x1="1073.9" y1="598.3" x2="1073.9" y2="605" stroke="#000" stroke-width="4" />
<line x1="1110.6" y1="598.3" x2="1110.6" y2="610" stroke="#000" stroke-width="4" />
<text x="1110.6" y="635.5" font-size="30" text-anchor="middle" textLength="44.5" lengthAdjust="spacingAndGlyphs">1.60</text>
<line x1="1147.2" y1="598.3" x2="1147.2" y2="605" stroke="#000" stroke-width="4" />
<line x1="1183.9" y1="598.3" x2="1183.9" y2="610" stroke="#000" stroke-width="4" />
<text x="1183.9" y="635.5" font-size="30" text-anchor="middle" textLength="44.5" lengthAdjust="spacingAndGlyphs">1.62</text>
<line x1="1220.5" y1="598.3" x2="1220.5" y2="605" stroke="#000" stroke-width="4" />
<line x1="1257.1" y1="598.3" x2="1257.1" y2="610" stroke="#000" stroke-width="4" />
<text x="1257.1" y="635.5" font-size="30" text-anchor="middle" textLength="44.5" lengthAdjust="spacingAndGlyphs">1.64</text>
<line x1="1293.8" y1="598.3" x2="1293.8" y2="605" stroke="#000" stroke-width="4" />
<line x1="1330.4" y1="598.3" x2="1330.4" y2="610" stroke="#000" stroke-width="4" />
<text x="1330.4" y="635.5" font-size="30" text-anchor="middle" textLength="44.5" lengthAdjust="spacingAndGlyphs">1.66</text>
<line x1="1367.1" y1="598.3" x2="1367.1" y2="605" stroke="#000" stroke-width="4" />
<line x1="1403.7" y1="598.3" x2="1403.7" y2="610" stroke="#000" stroke-width="4" />
<text x="1403.7" y="635.5" font-size="30" text-anchor="middle" textLength="44.5" lengthAdjust="spacingAndGlyphs">1.68</text>
<line x1="1440.4" y1="598.3" x2="1440.4" y2="605" stroke="#000" stroke-width="4" />
<line x1="1477" y1="598.3" x2="1477" y2="610" stroke="#000" stroke-width="4" />
<text x="1477" y="635.5" font-size="30" text-anchor="middle" textLength="44.5" lengthAdjust="spacingAndGlyphs">1.70</text>
<text x="1118.4" y="690.4" font-size="31.5" textLength="169.6" lengthAdjust="spacingAndGlyphs">Energy (eV)</text>
<text transform="translate(869.8,504) rotate(-90)" font-size="29" textLength="362.5" lengthAdjust="spacingAndGlyphs"><tspan font-weight="normal">(</tspan><tspan font-family="'Liberation Serif', 'DejaVu Serif', serif" font-weight="normal">α</tspan>h<tspan font-family="'Liberation Serif', 'DejaVu Serif', serif" font-weight="normal">ν</tspan><tspan font-weight="normal">)</tspan><tspan font-size="17" font-weight="normal" dy="-15">2</tspan><tspan dy="15"> x 10</tspan><tspan font-size="17" font-weight="normal" dy="-15">12</tspan><tspan dy="15"> </tspan><tspan font-weight="normal">(</tspan>eV-m<tspan font-size="17" font-weight="normal" dy="-15">-1</tspan><tspan dy="15" font-weight="normal">)</tspan><tspan font-size="17" font-weight="normal" dy="-15">2</tspan></text>
<text x="1286.6" y="567.9" font-size="26.5" textLength="14" lengthAdjust="spacingAndGlyphs" stroke="#000" stroke-width="0.7">E</text>
<text x="1301.6" y="576.9" font-size="16.8" font-weight="normal" textLength="7.5" lengthAdjust="spacingAndGlyphs">g</text>
<text x="1315.8" y="567.9" font-size="27.5" textLength="110.6" lengthAdjust="spacingAndGlyphs">~ 1.635 eV</text>
<text x="42.6" y="771" font-size="50">b</text>
<path d="M113.5,917.5 L115,919.6 L116.4,921.7 L117.9,923.9 L119.3,926.1 L120.8,928.3 L122.2,930.6 L123.7,933 L125.1,935.3 L126.6,937.7 L128,940.1 L129.5,942.5 L130.9,944.9 L132.4,947.3 L133.8,949.8 L135.3,952.2 L136.7,954.7 L138.2,957.1 L139.6,959.6 L141.1,962 L142.6,964.5 L144,966.9 L145.5,969.3 L146.9,971.7 L148.4,974 L149.8,976.4 L151.3,978.7 L152.7,981 L154.2,983.2 L155.6,985.4 L157.1,987.6 L158.5,989.8 L160,991.9 L161.4,994 L162.9,996 L164.3,998.1 L165.8,1000.1 L167.2,1002.1 L168.7,1004 L170.2,1006 L171.6,1007.9 L173.1,1009.7 L174.5,1011.6 L176,1013.4 L177.4,1015.2 L178.9,1017 L180.3,1018.8 L181.8,1020.6 L183.2,1022.3 L184.7,1024 L186.1,1025.7 L187.6,1027.4 L189,1029.1 L190.5,1030.7 L191.9,1032.3 L193.4,1033.9 L194.8,1035.5 L196.3,1037.1 L197.8,1038.6 L199.2,1040.2 L200.7,1041.7 L202.1,1043.2 L203.6,1044.7 L205,1046.1 L206.5,1047.6 L207.9,1049 L209.4,1050.5 L210.8,1051.9 L212.3,1053.2 L213.7,1054.6 L215.2,1056 L216.6,1057.3 L218.1,1058.6 L219.5,1059.9 L221,1061.2 L222.4,1062.5 L223.9,1063.8 L225.4,1065 L226.8,1066.3 L228.3,1067.5 L229.7,1068.7 L231.2,1069.9 L232.6,1071.1 L234.1,1072.2 L235.5,1073.4 L237,1074.5 L238.4,1075.6 L239.9,1076.8 L241.3,1077.9 L242.8,1078.9 L244.2,1080 L245.7,1081.1 L247.1,1082.1 L248.6,1083.2 L250,1084.2 L251.5,1085.2 L253,1086.2 L254.4,1087.2 L255.9,1088.1 L257.3,1089.1 L258.8,1090.1 L260.2,1091 L261.7,1091.9 L263.1,1092.8 L264.6,1093.8 L266,1094.7 L267.5,1095.5 L268.9,1096.4 L270.4,1097.3 L271.8,1098.1 L273.3,1099 L274.7,1099.8 L276.2,1100.6 L277.6,1101.5 L279.1,1102.3 L280.6,1103.1 L282,1103.9 L283.5,1104.6 L284.9,1105.4 L286.4,1106.2 L287.8,1106.9 L289.3,1107.7 L290.7,1108.4 L292.2,1109.1 L293.6,1109.8 L295.1,1110.6 L296.5,1111.3 L298,1112 L299.4,1112.7 L300.9,1113.3 L302.3,1114 L303.8,1114.7 L305.2,1115.3 L306.7,1116 L308.2,1116.6 L309.6,1117.3 L311.1,1117.9 L312.5,1118.6 L314,1119.2 L315.4,1119.8 L316.9,1120.4 L318.3,1121 L319.8,1121.6 L321.2,1122.2 L322.7,1122.8 L324.1,1123.4 L325.6,1124 L327,1124.5 L328.5,1125.1 L329.9,1125.7 L331.4,1126.2 L332.8,1126.8 L334.3,1127.3 L335.8,1127.9 L337.2,1128.4 L338.7,1129 L340.1,1129.5 L341.6,1130 L343,1130.5 L344.5,1131 L345.9,1131.6 L347.4,1132.1 L348.8,1132.6 L350.3,1133.1 L351.7,1133.5 L353.2,1134 L354.6,1134.5 L356.1,1135 L357.5,1135.5 L359,1135.9 L360.4,1136.4 L361.9,1136.8 L363.4,1137.3 L364.8,1137.7 L366.3,1138.2 L367.7,1138.6 L369.2,1139.1 L370.6,1139.5 L372.1,1139.9 L373.5,1140.3 L375,1140.8 L376.4,1141.2 L377.9,1141.6 L379.3,1142 L380.8,1142.4 L382.2,1142.8 L383.7,1143.2 L385.1,1143.6 L386.6,1143.9 L388,1144.3 L389.5,1144.7 L391,1145.1 L392.4,1145.4 L393.9,1145.8 L395.3,1146.1 L396.8,1146.5 L398.2,1146.9 L399.7,1147.2 L401.1,1147.5 L402.6,1147.9 L404,1148.2 L405.5,1148.5 L406.9,1148.9 L408.4,1149.2 L409.8,1149.5 L411.3,1149.8 L412.7,1150.1 L414.2,1150.4 L415.6,1150.7 L417.1,1151 L418.6,1151.3 L420,1151.6 L421.5,1151.9 L422.9,1152.2 L424.4,1152.5 L425.8,1152.8 L427.3,1153 L428.7,1153.3 L430.2,1153.6 L431.6,1153.8 L433.1,1154.1 L434.5,1154.3 L436,1154.6 L437.4,1154.8 L438.9,1155.1 L440.3,1155.3 L441.8,1155.6 L443.2,1155.8 L444.7,1156 L446.2,1156.3 L447.6,1156.5 L449.1,1156.7 L450.5,1156.9 L452,1157.2 L453.4,1157.4 L454.9,1157.6 L456.3,1157.8 L457.8,1158 L459.2,1158.2 L460.7,1158.4 L462.1,1158.6 L463.6,1158.8 L465,1159 L466.5,1159.1 L467.9,1159.3 L469.4,1159.5 L470.8,1159.7 L472.3,1159.9 L473.8,1160 L475.2,1160.2 L476.7,1160.4 L478.1,1160.5 L479.6,1160.7 L481,1160.8 L482.5,1161 L483.9,1161.1 L485.4,1161.3 L486.8,1161.4 L488.3,1161.6 L489.7,1161.7 L491.2,1161.8 L492.6,1162 L494.1,1162.1 L495.5,1162.2 L497,1162.3 L498.4,1162.5 L499.9,1162.6 L501.4,1162.7 L502.8,1162.8 L504.3,1162.9 L505.7,1163 L507.2,1163.1 L508.6,1163.2 L510.1,1163.3 L511.5,1163.4 L513,1163.5 L514.4,1163.5 L515.9,1163.6 L517.3,1163.7 L518.8,1163.7 L520.2,1163.8 L521.7,1163.9 L523.1,1163.9 L524.6,1164 L526,1164 L527.5,1164.1 L529,1164.1 L530.4,1164.2 L531.9,1164.2 L533.3,1164.2 L534.8,1164.3 L536.2,1164.3 L537.7,1164.4 L539.1,1164.5 L540.6,1164.6 L542,1164.7 L543.5,1164.8 L544.9,1164.9 L546.4,1165 L547.8,1165.2 L549.3,1165.4 L550.7,1165.6 L552.2,1165.9 L553.6,1166.1 L555.1,1166.4 L556.6,1166.8 L558,1167.1 L559.5,1167.5 L560.9,1167.9 L562.4,1168.4 L563.8,1168.9 L565.3,1169.5 L566.7,1170.1 L568.2,1170.7 L569.6,1171.4 L571.1,1172.1 L572.5,1172.9 L574,1173.7 L575.4,1174.5 L576.9,1175.4 L578.3,1176.3 L579.8,1177.2 L581.2,1178.1 L582.7,1179.1 L584.2,1180.1 L585.6,1181.1 L587.1,1182.2 L588.5,1183.2 L590,1184.3 L591.4,1185.3 L592.9,1186.4 L594.3,1187.5 L595.8,1188.6 L597.2,1189.7 L598.7,1190.8 L600.1,1191.8 L601.6,1192.9 L603,1194 L604.5,1195.1 L605.9,1196.1 L607.4,1197.2 L608.8,1198.2 L610.3,1199.2 L611.8,1200.2 L613.2,1201.2 L614.7,1202.1 L616.1,1203 L617.6,1203.9 L619,1204.8 L620.5,1205.6 L621.9,1206.4 L623.4,1207.2 L624.8,1207.9 L626.3,1208.6 L627.7,1209.3 L629.2,1209.9 L630.6,1210.5 L632.1,1211.1 L633.5,1211.7 L635,1212.2 L636.4,1212.7 L637.9,1213.2 L639.4,1213.6 L640.8,1214.1 L642.3,1214.5 L643.7,1214.9 L645.2,1215.2 L646.6,1215.6 L648.1,1215.9 L649.5,1216.2 L651,1216.4 L652.4,1216.7 L653.9,1216.9 L655.3,1217.2 L656.8,1217.4 L658.2,1217.6 L659.7,1217.7 L661.1,1217.9 L662.6,1218 L664,1218.2 L665.5,1218.3 L667,1218.4 L668.4,1218.5 L669.9,1218.6 L671.3,1218.6 L672.8,1218.7 L674.2,1218.8 L675.7,1218.8 L677.1,1218.9 L678.6,1218.9 L680,1218.9 L681.5,1218.9 L682.9,1219 L684.4,1219 L685.8,1219 L687.3,1219 L688.7,1219 L690.2,1219 L691.6,1219 L693.1,1219" fill="none" stroke="#ff0000" stroke-width="4.2" stroke-linejoin="round" stroke-linecap="round" />
<path d="M113.5,928.6 L115,930.9 L116.4,933.1 L117.9,935.5 L119.3,937.8 L120.8,940.1 L122.2,942.5 L123.7,944.8 L125.1,947.2 L126.6,949.6 L128,951.9 L129.5,954.3 L130.9,956.7 L132.4,959.1 L133.8,961.4 L135.3,963.8 L136.7,966.2 L138.2,968.5 L139.6,970.9 L141.1,973.2 L142.6,975.5 L144,977.8 L145.5,980 L146.9,982.3 L148.4,984.5 L149.8,986.7 L151.3,988.8 L152.7,990.9 L154.2,993 L155.6,995.1 L157.1,997.1 L158.5,999.1 L160,1001.1 L161.4,1003 L162.9,1005 L164.3,1006.9 L165.8,1008.7 L167.2,1010.5 L168.7,1012.4 L170.2,1014.1 L171.6,1015.9 L173.1,1017.7 L174.5,1019.4 L176,1021.1 L177.4,1022.8 L178.9,1024.4 L180.3,1026.1 L181.8,1027.7 L183.2,1029.3 L184.7,1030.9 L186.1,1032.5 L187.6,1034.1 L189,1035.6 L190.5,1037.2 L191.9,1038.7 L193.4,1040.2 L194.8,1041.7 L196.3,1043.1 L197.8,1044.6 L199.2,1046 L200.7,1047.5 L202.1,1048.9 L203.6,1050.3 L205,1051.7 L206.5,1053.1 L207.9,1054.4 L209.4,1055.8 L210.8,1057.1 L212.3,1058.4 L213.7,1059.7 L215.2,1061 L216.6,1062.3 L218.1,1063.5 L219.5,1064.8 L221,1066 L222.4,1067.3 L223.9,1068.5 L225.4,1069.7 L226.8,1070.8 L228.3,1072 L229.7,1073.2 L231.2,1074.3 L232.6,1075.5 L234.1,1076.6 L235.5,1077.7 L237,1078.8 L238.4,1079.9 L239.9,1081 L241.3,1082 L242.8,1083.1 L244.2,1084.1 L245.7,1085.1 L247.1,1086.2 L248.6,1087.2 L250,1088.2 L251.5,1089.1 L253,1090.1 L254.4,1091.1 L255.9,1092 L257.3,1093 L258.8,1093.9 L260.2,1094.8 L261.7,1095.7 L263.1,1096.6 L264.6,1097.5 L266,1098.4 L267.5,1099.3 L268.9,1100.1 L270.4,1101 L271.8,1101.8 L273.3,1102.7 L274.7,1103.5 L276.2,1104.3 L277.6,1105.1 L279.1,1105.9 L280.6,1106.7 L282,1107.5 L283.5,1108.2 L284.9,1109 L286.4,1109.7 L287.8,1110.5 L289.3,1111.2 L290.7,1111.9 L292.2,1112.7 L293.6,1113.4 L295.1,1114.1 L296.5,1114.8 L298,1115.5 L299.4,1116.2 L300.9,1116.8 L302.3,1117.5 L303.8,1118.2 L305.2,1118.8 L306.7,1119.4 L308.2,1120.1 L309.6,1120.7 L311.1,1121.3 L312.5,1122 L314,1122.6 L315.4,1123.2 L316.9,1123.8 L318.3,1124.4 L319.8,1125 L321.2,1125.5 L322.7,1126.1 L324.1,1126.7 L325.6,1127.3 L327,1127.8 L328.5,1128.4 L329.9,1128.9 L331.4,1129.5 L332.8,1130 L334.3,1130.5 L335.8,1131 L337.2,1131.6 L338.7,1132.1 L340.1,1132.6 L341.6,1133.1 L343,1133.6 L344.5,1134.1 L345.9,1134.6 L347.4,1135.1 L348.8,1135.5 L350.3,1136 L351.7,1136.5 L353.2,1136.9 L354.6,1137.4 L356.1,1137.8 L357.5,1138.3 L359,1138.7 L360.4,1139.2 L361.9,1139.6 L363.4,1140 L364.8,1140.5 L366.3,1140.9 L367.7,1141.3 L369.2,1141.7 L370.6,1142.1 L372.1,1142.5 L373.5,1142.9 L375,1143.3 L376.4,1143.7 L377.9,1144.1 L379.3,1144.4 L380.8,1144.8 L382.2,1145.2 L383.7,1145.5 L385.1,1145.9 L386.6,1146.3 L388,1146.6 L389.5,1147 L391,1147.3 L392.4,1147.6 L393.9,1148 L395.3,1148.3 L396.8,1148.6 L398.2,1149 L399.7,1149.3 L401.1,1149.6 L402.6,1149.9 L404,1150.2 L405.5,1150.5 L406.9,1150.8 L408.4,1151.1 L409.8,1151.4 L411.3,1151.7 L412.7,1152 L414.2,1152.3 L415.6,1152.6 L417.1,1152.9 L418.6,1153.1 L420,1153.4 L421.5,1153.7 L422.9,1153.9 L424.4,1154.2 L425.8,1154.5 L427.3,1154.7 L428.7,1155 L430.2,1155.2 L431.6,1155.5 L433.1,1155.7 L434.5,1156 L436,1156.2 L437.4,1156.4 L438.9,1156.7 L440.3,1156.9 L441.8,1157.1 L443.2,1157.4 L444.7,1157.6 L446.2,1157.8 L447.6,1158 L449.1,1158.2 L450.5,1158.5 L452,1158.7 L453.4,1158.9 L454.9,1159.1 L456.3,1159.3 L457.8,1159.5 L459.2,1159.7 L460.7,1159.9 L462.1,1160.1 L463.6,1160.3 L465,1160.5 L466.5,1160.6 L467.9,1160.8 L469.4,1161 L470.8,1161.2 L472.3,1161.4 L473.8,1161.6 L475.2,1161.7 L476.7,1161.9 L478.1,1162.1 L479.6,1162.3 L481,1162.4 L482.5,1162.6 L483.9,1162.8 L485.4,1162.9 L486.8,1163.1 L488.3,1163.2 L489.7,1163.4 L491.2,1163.5 L492.6,1163.7 L494.1,1163.8 L495.5,1164 L497,1164.1 L498.4,1164.2 L499.9,1164.4 L501.4,1164.5 L502.8,1164.6 L504.3,1164.7 L505.7,1164.8 L507.2,1165 L508.6,1165.1 L510.1,1165.2 L511.5,1165.3 L513,1165.3 L514.4,1165.4 L515.9,1165.5 L517.3,1165.6 L518.8,1165.7 L520.2,1165.7 L521.7,1165.8 L523.1,1165.8 L524.6,1165.9 L526,1165.9 L527.5,1166 L529,1166 L530.4,1166 L531.9,1166.1 L533.3,1166.1 L534.8,1166.2 L536.2,1166.2 L537.7,1166.2 L539.1,1166.3 L540.6,1166.4 L542,1166.5 L543.5,1166.6 L544.9,1166.7 L546.4,1166.8 L547.8,1167 L549.3,1167.2 L550.7,1167.4 L552.2,1167.6 L553.6,1167.9 L555.1,1168.2 L556.6,1168.5 L558,1168.9 L559.5,1169.3 L560.9,1169.7 L562.4,1170.2 L563.8,1170.7 L565.3,1171.3 L566.7,1171.9 L568.2,1172.6 L569.6,1173.3 L571.1,1174.1 L572.5,1174.9 L574,1175.8 L575.4,1176.6 L576.9,1177.6 L578.3,1178.5 L579.8,1179.5 L581.2,1180.5 L582.7,1181.5 L584.2,1182.6 L585.6,1183.7 L587.1,1184.8 L588.5,1185.9 L590,1187 L591.4,1188.1 L592.9,1189.3 L594.3,1190.4 L595.8,1191.5 L597.2,1192.7 L598.7,1193.8 L600.1,1195 L601.6,1196.1 L603,1197.2 L604.5,1198.3 L605.9,1199.4 L607.4,1200.5 L608.8,1201.6 L610.3,1202.6 L611.8,1203.6 L613.2,1204.6 L614.7,1205.5 L616.1,1206.4 L617.6,1207.3 L619,1208.1 L620.5,1208.9 L621.9,1209.7 L623.4,1210.4 L624.8,1211 L626.3,1211.7 L627.7,1212.3 L629.2,1212.8 L630.6,1213.3 L632.1,1213.8 L633.5,1214.2 L635,1214.7 L636.4,1215 L637.9,1215.4 L639.4,1215.7 L640.8,1216 L642.3,1216.3 L643.7,1216.5 L645.2,1216.8 L646.6,1217 L648.1,1217.2 L649.5,1217.3 L651,1217.5 L652.4,1217.6 L653.9,1217.7 L655.3,1217.8 L656.8,1217.9 L658.2,1218 L659.7,1218 L661.1,1218.1 L662.6,1218.1 L664,1218.2 L665.5,1218.2 L667,1218.3 L668.4,1218.3 L669.9,1218.3 L671.3,1218.3 L672.8,1218.4 L674.2,1218.4 L675.7,1218.4 L677.1,1218.5 L678.6,1218.5 L680,1218.5 L681.5,1218.6 L682.9,1218.7 L684.4,1218.7 L685.8,1218.8 L687.3,1218.9 L688.7,1219.1 L690.2,1219.2 L691.6,1219.3 L693.1,1219.5" fill="none" stroke="#ff00ff" stroke-width="4" stroke-linejoin="round" stroke-linecap="round" />
<path d="M113.5,930 L115,932 L116.4,934.1 L117.9,936.3 L119.3,938.4 L120.8,940.7 L122.2,943 L123.7,945.3 L125.1,947.6 L126.6,950 L128,952.4 L129.5,954.8 L130.9,957.3 L132.4,959.7 L133.8,962.2 L135.3,964.6 L136.7,967.1 L138.2,969.5 L139.6,972 L141.1,974.4 L142.6,976.8 L144,979.2 L145.5,981.6 L146.9,983.9 L148.4,986.2 L149.8,988.5 L151.3,990.7 L152.7,992.8 L154.2,994.9 L155.6,997 L157.1,999 L158.5,1001 L160,1002.9 L161.4,1004.8 L162.9,1006.6 L164.3,1008.5 L165.8,1010.2 L167.2,1012 L168.7,1013.7 L170.2,1015.4 L171.6,1017.1 L173.1,1018.8 L174.5,1020.4 L176,1022 L177.4,1023.7 L178.9,1025.3 L180.3,1026.9 L181.8,1028.5 L183.2,1030.1 L184.7,1031.6 L186.1,1033.2 L187.6,1034.8 L189,1036.4 L190.5,1038 L191.9,1039.5 L193.4,1041.1 L194.8,1042.7 L196.3,1044.2 L197.8,1045.8 L199.2,1047.3 L200.7,1048.8 L202.1,1050.3 L203.6,1051.9 L205,1053.4 L206.5,1054.8 L207.9,1056.3 L209.4,1057.8 L210.8,1059.2 L212.3,1060.7 L213.7,1062.1 L215.2,1063.5 L216.6,1064.9 L218.1,1066.3 L219.5,1067.7 L221,1069 L222.4,1070.3 L223.9,1071.6 L225.4,1072.9 L226.8,1074.2 L228.3,1075.5 L229.7,1076.7 L231.2,1077.9 L232.6,1079.1 L234.1,1080.3 L235.5,1081.5 L237,1082.7 L238.4,1083.8 L239.9,1084.9 L241.3,1086 L242.8,1087.1 L244.2,1088.2 L245.7,1089.3 L247.1,1090.3 L248.6,1091.4 L250,1092.4 L251.5,1093.4 L253,1094.4 L254.4,1095.3 L255.9,1096.3 L257.3,1097.3 L258.8,1098.2 L260.2,1099.1 L261.7,1100 L263.1,1100.9 L264.6,1101.8 L266,1102.7 L267.5,1103.5 L268.9,1104.4 L270.4,1105.2 L271.8,1106.1 L273.3,1106.9 L274.7,1107.7 L276.2,1108.5 L277.6,1109.3 L279.1,1110 L280.6,1110.8 L282,1111.6 L283.5,1112.3 L284.9,1113 L286.4,1113.8 L287.8,1114.5 L289.3,1115.2 L290.7,1115.9 L292.2,1116.6 L293.6,1117.3 L295.1,1118 L296.5,1118.6 L298,1119.3 L299.4,1120 L300.9,1120.6 L302.3,1121.3 L303.8,1121.9 L305.2,1122.5 L306.7,1123.2 L308.2,1123.8 L309.6,1124.4 L311.1,1125 L312.5,1125.6 L314,1126.2 L315.4,1126.8 L316.9,1127.4 L318.3,1128 L319.8,1128.6 L321.2,1129.2 L322.7,1129.8 L324.1,1130.3 L325.6,1130.9 L327,1131.5 L328.5,1132 L329.9,1132.6 L331.4,1133.2 L332.8,1133.7 L334.3,1134.3 L335.8,1134.8 L337.2,1135.4 L338.7,1135.9 L340.1,1136.4 L341.6,1137 L343,1137.5 L344.5,1138 L345.9,1138.5 L347.4,1139.1 L348.8,1139.6 L350.3,1140.1 L351.7,1140.6 L353.2,1141.1 L354.6,1141.6 L356.1,1142.1 L357.5,1142.6 L359,1143.1 L360.4,1143.5 L361.9,1144 L363.4,1144.5 L364.8,1144.9 L366.3,1145.4 L367.7,1145.9 L369.2,1146.3 L370.6,1146.8 L372.1,1147.2 L373.5,1147.7 L375,1148.1 L376.4,1148.5 L377.9,1149 L379.3,1149.4 L380.8,1149.8 L382.2,1150.2 L383.7,1150.6 L385.1,1151 L386.6,1151.4 L388,1151.8 L389.5,1152.2 L391,1152.6 L392.4,1153 L393.9,1153.4 L395.3,1153.7 L396.8,1154.1 L398.2,1154.5 L399.7,1154.8 L401.1,1155.2 L402.6,1155.5 L404,1155.9 L405.5,1156.2 L406.9,1156.5 L408.4,1156.9 L409.8,1157.2 L411.3,1157.5 L412.7,1157.8 L414.2,1158.1 L415.6,1158.4 L417.1,1158.7 L418.6,1159 L420,1159.3 L421.5,1159.6 L422.9,1159.8 L424.4,1160.1 L425.8,1160.4 L427.3,1160.6 L428.7,1160.9 L430.2,1161.1 L431.6,1161.4 L433.1,1161.6 L434.5,1161.8 L436,1162 L437.4,1162.3 L438.9,1162.5 L440.3,1162.7 L441.8,1162.9 L443.2,1163.1 L444.7,1163.3 L446.2,1163.5 L447.6,1163.6 L449.1,1163.8 L450.5,1164 L452,1164.1 L453.4,1164.3 L454.9,1164.5 L456.3,1164.6 L457.8,1164.8 L459.2,1164.9 L460.7,1165.1 L462.1,1165.2 L463.6,1165.3 L465,1165.5 L466.5,1165.6 L467.9,1165.7 L469.4,1165.9 L470.8,1166 L472.3,1166.1 L473.8,1166.2 L475.2,1166.4 L476.7,1166.5 L478.1,1166.6 L479.6,1166.7 L481,1166.8 L482.5,1166.9 L483.9,1167.1 L485.4,1167.2 L486.8,1167.3 L488.3,1167.4 L489.7,1167.5 L491.2,1167.6 L492.6,1167.8 L494.1,1167.9 L495.5,1168 L497,1168.1 L498.4,1168.2 L499.9,1168.4 L501.4,1168.5 L502.8,1168.6 L504.3,1168.7 L505.7,1168.9 L507.2,1169 L508.6,1169.1 L510.1,1169.3 L511.5,1169.4 L513,1169.6 L514.4,1169.7 L515.9,1169.9 L517.3,1170 L518.8,1170.2 L520.2,1170.4 L521.7,1170.5 L523.1,1170.7 L524.6,1170.9 L526,1171.1 L527.5,1171.3 L529,1171.4 L530.4,1171.6 L531.9,1171.8 L533.3,1172.1 L534.8,1172.3 L536.2,1172.5 L537.7,1172.7 L539.1,1173 L540.6,1173.2 L542,1173.5 L543.5,1173.7 L544.9,1174 L546.4,1174.3 L547.8,1174.5 L549.3,1174.8 L550.7,1175.1 L552.2,1175.4 L553.6,1175.7 L555.1,1176 L556.6,1176.4 L558,1176.7 L559.5,1177.1 L560.9,1177.5 L562.4,1177.9 L563.8,1178.3 L565.3,1178.8 L566.7,1179.2 L568.2,1179.8 L569.6,1180.3 L571.1,1180.9 L572.5,1181.5 L574,1182.2 L575.4,1182.9 L576.9,1183.7 L578.3,1184.5 L579.8,1185.4 L581.2,1186.3 L582.7,1187.3 L584.2,1188.3 L585.6,1189.3 L587.1,1190.4 L588.5,1191.5 L590,1192.7 L591.4,1193.8 L592.9,1195 L594.3,1196.1 L595.8,1197.3 L597.2,1198.5 L598.7,1199.6 L600.1,1200.8 L601.6,1201.9 L603,1203 L604.5,1204 L605.9,1205.1 L607.4,1206 L608.8,1207 L610.3,1207.9 L611.8,1208.7 L613.2,1209.5 L614.7,1210.3 L616.1,1211 L617.6,1211.7 L619,1212.3 L620.5,1212.9 L621.9,1213.5 L623.4,1214 L624.8,1214.5 L626.3,1215 L627.7,1215.4 L629.2,1215.8 L630.6,1216.2 L632.1,1216.6 L633.5,1216.9 L635,1217.2 L636.4,1217.5 L637.9,1217.7 L639.4,1217.9 L640.8,1218.1 L642.3,1218.3 L643.7,1218.5 L645.2,1218.6 L646.6,1218.8 L648.1,1218.9 L649.5,1219 L651,1219 L652.4,1219.1 L653.9,1219.2 L655.3,1219.2 L656.8,1219.2 L658.2,1219.3 L659.7,1219.3 L661.1,1219.3 L662.6,1219.3 L664,1219.3 L665.5,1219.3 L667,1219.3 L668.4,1219.3 L669.9,1219.3 L671.3,1219.3 L672.8,1219.3 L674.2,1219.3 L675.7,1219.3 L677.1,1219.3 L678.6,1219.3 L680,1219.3 L681.5,1219.3 L682.9,1219.4 L684.4,1219.4 L685.8,1219.5 L687.3,1219.5 L688.7,1219.6 L690.2,1219.7 L691.6,1219.8 L693.1,1220" fill="none" stroke="#00007f" stroke-width="4.4" stroke-linejoin="round" stroke-linecap="round" />
<rect x="112.6" y="748.6" width="581.6" height="471.9" fill="none" stroke="#000" stroke-width="4.6" />
<line x1="112.8" y1="1220.5" x2="112.8" y2="1229.5" stroke="#000" stroke-width="4.5" />
<text x="112.8" y="1258.8" font-size="30" text-anchor="middle" textLength="48" lengthAdjust="spacingAndGlyphs">500</text>
<line x1="209.7" y1="1220.5" x2="209.7" y2="1224.5" stroke="#000" stroke-width="4" />
<line x1="306.6" y1="1220.5" x2="306.6" y2="1229.5" stroke="#000" stroke-width="4.5" />
<text x="306.6" y="1258.8" font-size="30" text-anchor="middle" textLength="48" lengthAdjust="spacingAndGlyphs">600</text>
<line x1="403.5" y1="1220.5" x2="403.5" y2="1224.5" stroke="#000" stroke-width="4" />
<line x1="500.4" y1="1220.5" x2="500.4" y2="1229.5" stroke="#000" stroke-width="4.5" />
<text x="500.4" y="1258.8" font-size="30" text-anchor="middle" textLength="48" lengthAdjust="spacingAndGlyphs">700</text>
<line x1="597.3" y1="1220.5" x2="597.3" y2="1224.5" stroke="#000" stroke-width="4" />
<line x1="694.2" y1="1220.5" x2="694.2" y2="1229.5" stroke="#000" stroke-width="4.5" />
<text x="694.2" y="1258.8" font-size="30" text-anchor="middle" textLength="48" lengthAdjust="spacingAndGlyphs">800</text>
<text x="249" y="1316.3" font-size="39.5" textLength="310" lengthAdjust="spacingAndGlyphs">Wavelength (nm)</text>
<text x="0" y="0" transform="translate(74.5,1121.3) rotate(-90)" font-size="40" textLength="303" lengthAdjust="spacingAndGlyphs">Absorbace (a.u.)</text>
<line x1="140.2" y1="791" x2="193.3" y2="791" stroke="#ff0000" stroke-width="3.7" />
<line x1="140.2" y1="825.8" x2="193.3" y2="825.8" stroke="#ff00ff" stroke-width="3.7" />
<line x1="140.2" y1="860.8" x2="193.3" y2="860.8" stroke="#00007f" stroke-width="3.7" />
<text x="201.2" y="799" font-size="28.6" textLength="250" lengthAdjust="spacingAndGlyphs">Triple cation:Day-1</text>
<text x="201.2" y="834.1" font-size="28.6" textLength="252" lengthAdjust="spacingAndGlyphs">Triple cation:Day-2</text>
<text x="201.2" y="869" font-size="28.6" textLength="252" lengthAdjust="spacingAndGlyphs">Triple cation:Day-3</text>
<path d="M413,969.4 L413.8,969.6 L414.7,969.8 L415.5,970 L416.3,970.2 L417.1,970.3 L418,970.5 L418.8,970.7 L419.6,970.9 L420.4,971 L421.3,971.2 L422.1,971.4 L422.9,971.5 L423.8,971.7 L424.6,971.8 L425.4,972 L426.2,972.1 L427.1,972.3 L427.9,972.4 L428.7,972.5 L429.6,972.7 L430.4,972.8 L431.2,972.9 L432,973 L432.9,973.2 L433.7,973.3 L434.5,973.4 L435.3,973.5 L436.2,973.6 L437,973.7 L437.8,973.8 L438.7,973.9 L439.5,974 L440.3,974.1 L441.1,974.2 L442,974.3 L442.8,974.4 L443.6,974.5 L444.5,974.5 L445.3,974.6 L446.1,974.7 L446.9,974.8 L447.8,974.9 L448.6,974.9 L449.4,975 L450.2,975.1 L451.1,975.2 L451.9,975.2 L452.7,975.3 L453.6,975.3 L454.4,975.4 L455.2,975.5 L456,975.5 L456.9,975.6 L457.7,975.6 L458.5,975.7 L459.4,975.8 L460.2,975.8 L461,975.9 L461.8,975.9 L462.7,976 L463.5,976 L464.3,976.1 L465.1,976.1 L466,976.2 L466.8,976.2 L467.6,976.2 L468.5,976.3 L469.3,976.3 L470.1,976.4 L470.9,976.4 L471.8,976.5 L472.6,976.5 L473.4,976.5 L474.3,976.6 L475.1,976.6 L475.9,976.7 L476.7,976.7 L477.6,976.8 L478.4,976.8 L479.2,976.8 L480,976.9 L480.9,976.9 L481.7,977 L482.5,977 L483.4,977 L484.2,977.1 L485,977.1 L485.8,977.2 L486.7,977.2 L487.5,977.3 L488.3,977.3 L489.2,977.4 L490,977.4 L490.8,977.5 L491.6,977.5 L492.5,977.6 L493.3,977.6 L494.1,977.7 L494.9,977.7 L495.8,977.8 L496.6,977.8 L497.4,977.9 L498.3,977.9 L499.1,978 L499.9,978.1 L500.7,978.1 L501.6,978.2 L502.4,978.2 L503.2,978.3 L504.1,978.4 L504.9,978.4 L505.7,978.5 L506.5,978.6 L507.4,978.7 L508.2,978.7 L509,978.8 L509.8,978.9 L510.7,979 L511.5,979.1 L512.3,979.2 L513.2,979.3 L514,979.3 L514.8,979.4 L515.6,979.5 L516.5,979.6 L517.3,979.7 L518.1,979.8 L519,980 L519.8,980.1 L520.6,980.2 L521.4,980.3 L522.3,980.4 L523.1,980.5 L523.9,980.7 L524.7,980.8 L525.6,980.9 L526.4,981.1 L527.2,981.2 L528.1,981.4 L528.9,981.6 L529.7,981.7 L530.5,981.9 L531.4,982.1 L532.2,982.2 L533,982.4 L533.9,982.6 L534.7,982.8 L535.5,983 L536.3,983.2 L537.2,983.5 L538,983.7 L538.8,983.9 L539.6,984.2 L540.5,984.4 L541.3,984.7 L542.1,984.9 L543,985.2 L543.8,985.5 L544.6,985.8 L545.4,986.1 L546.3,986.4 L547.1,986.7 L547.9,987 L548.8,987.4 L549.6,987.7 L550.4,988.1 L551.2,988.4 L552.1,988.8 L552.9,989.2 L553.7,989.6 L554.5,990 L555.4,990.4 L556.2,990.8 L557,991.3 L557.9,991.7 L558.7,992.2 L559.5,992.6 L560.3,993.1 L561.2,993.6 L562,994.1 L562.8,994.6 L563.7,995.2 L564.5,995.7 L565.3,996.3 L566.1,996.8 L567,997.4 L567.8,998 L568.6,998.6 L569.4,999.3 L570.3,999.9 L571.1,1000.6 L571.9,1001.2 L572.8,1001.9 L573.6,1002.6 L574.4,1003.3 L575.2,1004 L576.1,1004.7 L576.9,1005.5 L577.7,1006.2 L578.6,1007 L579.4,1007.8 L580.2,1008.5 L581,1009.3 L581.9,1010.1 L582.7,1011 L583.5,1011.8 L584.3,1012.6 L585.2,1013.4 L586,1014.3 L586.8,1015.1 L587.7,1016 L588.5,1016.8 L589.3,1017.7 L590.1,1018.6 L591,1019.5 L591.8,1020.4 L592.6,1021.2 L593.5,1022.1 L594.3,1023 L595.1,1023.9 L595.9,1024.8 L596.8,1025.8 L597.6,1026.7 L598.4,1027.6 L599.2,1028.5 L600.1,1029.4 L600.9,1030.3 L601.7,1031.2 L602.6,1032.2 L603.4,1033.1 L604.2,1034 L605,1034.9 L605.9,1035.8 L606.7,1036.7 L607.5,1037.6 L608.4,1038.5 L609.2,1039.4 L610,1040.3 L610.8,1041.2 L611.7,1042.1 L612.5,1043 L613.3,1043.9 L614.1,1044.8 L615,1045.7 L615.8,1046.5 L616.6,1047.4 L617.5,1048.3 L618.3,1049.1 L619.1,1050 L619.9,1050.8 L620.8,1051.6 L621.6,1052.4 L622.4,1053.3 L623.3,1054.1 L624.1,1054.8 L624.9,1055.6 L625.7,1056.4 L626.6,1057.2 L627.4,1057.9 L628.2,1058.7 L629,1059.4 L629.9,1060.1 L630.7,1060.8 L631.5,1061.5 L632.4,1062.2 L633.2,1062.9 L634,1063.5 L634.8,1064.2 L635.7,1064.8 L636.5,1065.4 L637.3,1066 L638.2,1066.6 L639,1067.2 L639.8,1067.8 L640.6,1068.3 L641.5,1068.9 L642.3,1069.4 L643.1,1069.9 L643.9,1070.4 L644.8,1070.8 L645.6,1071.3 L646.4,1071.7 L647.3,1072.2 L648.1,1072.6 L648.9,1073 L649.7,1073.3 L650.6,1073.7 L651.4,1074 L652.2,1074.3 L653.1,1074.6 L653.9,1074.9 L654.7,1075.2 L655.5,1075.4 L656.4,1075.6 L657.2,1075.8 L658,1076 L658.8,1076.2 L659.7,1076.3 L660.5,1076.4" fill="none" stroke="#ff0000" stroke-width="1.3" stroke-linejoin="round" stroke-linecap="round" />
<path d="M413,970.9 L413.8,971.1 L414.7,971.2 L415.5,971.4 L416.3,971.5 L417.1,971.7 L418,971.8 L418.8,971.9 L419.6,972.1 L420.4,972.2 L421.3,972.3 L422.1,972.5 L422.9,972.6 L423.8,972.7 L424.6,972.8 L425.4,972.9 L426.2,973 L427.1,973.2 L427.9,973.3 L428.7,973.4 L429.6,973.5 L430.4,973.6 L431.2,973.7 L432,973.8 L432.9,973.9 L433.7,974 L434.5,974.1 L435.3,974.2 L436.2,974.3 L437,974.3 L437.8,974.4 L438.7,974.5 L439.5,974.6 L440.3,974.7 L441.1,974.8 L442,974.8 L442.8,974.9 L443.6,975 L444.5,975.1 L445.3,975.1 L446.1,975.2 L446.9,975.3 L447.8,975.4 L448.6,975.4 L449.4,975.5 L450.2,975.6 L451.1,975.6 L451.9,975.7 L452.7,975.8 L453.6,975.8 L454.4,975.9 L455.2,976 L456,976 L456.9,976.1 L457.7,976.1 L458.5,976.2 L459.4,976.3 L460.2,976.3 L461,976.4 L461.8,976.4 L462.7,976.5 L463.5,976.5 L464.3,976.6 L465.1,976.7 L466,976.7 L466.8,976.8 L467.6,976.8 L468.5,976.9 L469.3,976.9 L470.1,977 L470.9,977.1 L471.8,977.1 L472.6,977.2 L473.4,977.2 L474.3,977.3 L475.1,977.4 L475.9,977.4 L476.7,977.5 L477.6,977.5 L478.4,977.6 L479.2,977.7 L480,977.7 L480.9,977.8 L481.7,977.8 L482.5,977.9 L483.4,978 L484.2,978 L485,978.1 L485.8,978.2 L486.7,978.2 L487.5,978.3 L488.3,978.4 L489.2,978.4 L490,978.5 L490.8,978.6 L491.6,978.7 L492.5,978.7 L493.3,978.8 L494.1,978.9 L494.9,979 L495.8,979 L496.6,979.1 L497.4,979.2 L498.3,979.3 L499.1,979.4 L499.9,979.5 L500.7,979.6 L501.6,979.7 L502.4,979.7 L503.2,979.8 L504.1,979.9 L504.9,980 L505.7,980.1 L506.5,980.2 L507.4,980.3 L508.2,980.5 L509,980.6 L509.8,980.7 L510.7,980.8 L511.5,980.9 L512.3,981 L513.2,981.1 L514,981.3 L514.8,981.4 L515.6,981.5 L516.5,981.6 L517.3,981.8 L518.1,981.9 L519,982.1 L519.8,982.2 L520.6,982.3 L521.4,982.5 L522.3,982.7 L523.1,982.8 L523.9,983 L524.7,983.2 L525.6,983.4 L526.4,983.6 L527.2,983.8 L528.1,984 L528.9,984.2 L529.7,984.4 L530.5,984.6 L531.4,984.9 L532.2,985.1 L533,985.4 L533.9,985.7 L534.7,986 L535.5,986.3 L536.3,986.6 L537.2,986.9 L538,987.2 L538.8,987.6 L539.6,987.9 L540.5,988.3 L541.3,988.7 L542.1,989.1 L543,989.5 L543.8,990 L544.6,990.4 L545.4,990.9 L546.3,991.3 L547.1,991.8 L547.9,992.4 L548.8,992.9 L549.6,993.4 L550.4,994 L551.2,994.5 L552.1,995.1 L552.9,995.7 L553.7,996.3 L554.5,996.9 L555.4,997.6 L556.2,998.2 L557,998.9 L557.9,999.6 L558.7,1000.3 L559.5,1001 L560.3,1001.7 L561.2,1002.4 L562,1003.2 L562.8,1003.9 L563.7,1004.7 L564.5,1005.5 L565.3,1006.3 L566.1,1007.1 L567,1007.9 L567.8,1008.7 L568.6,1009.6 L569.4,1010.4 L570.3,1011.3 L571.1,1012.2 L571.9,1013.1 L572.8,1014 L573.6,1014.9 L574.4,1015.8 L575.2,1016.7 L576.1,1017.7 L576.9,1018.6 L577.7,1019.6 L578.6,1020.5 L579.4,1021.5 L580.2,1022.5 L581,1023.4 L581.9,1024.4 L582.7,1025.4 L583.5,1026.4 L584.3,1027.3 L585.2,1028.3 L586,1029.3 L586.8,1030.3 L587.7,1031.2 L588.5,1032.2 L589.3,1033.2 L590.1,1034.2 L591,1035.1 L591.8,1036.1 L592.6,1037 L593.5,1038 L594.3,1038.9 L595.1,1039.8 L595.9,1040.8 L596.8,1041.7 L597.6,1042.6 L598.4,1043.5 L599.2,1044.4 L600.1,1045.3 L600.9,1046.1 L601.7,1047 L602.6,1047.8 L603.4,1048.7 L604.2,1049.5 L605,1050.3 L605.9,1051.1 L606.7,1051.9 L607.5,1052.7 L608.4,1053.4 L609.2,1054.2 L610,1054.9 L610.8,1055.7 L611.7,1056.4 L612.5,1057.1 L613.3,1057.8 L614.1,1058.5 L615,1059.2 L615.8,1059.8 L616.6,1060.5 L617.5,1061.1 L618.3,1061.8 L619.1,1062.4 L619.9,1063 L620.8,1063.6 L621.6,1064.2 L622.4,1064.7 L623.3,1065.3 L624.1,1065.8 L624.9,1066.3 L625.7,1066.9 L626.6,1067.4 L627.4,1067.9 L628.2,1068.3 L629,1068.8 L629.9,1069.3 L630.7,1069.7 L631.5,1070.1 L632.4,1070.6 L633.2,1071 L634,1071.4 L634.8,1071.8 L635.7,1072.2 L636.5,1072.6 L637.3,1072.9 L638.2,1073.3 L639,1073.7 L639.8,1074 L640.6,1074.4 L641.5,1074.7 L642.3,1075 L643.1,1075.4 L643.9,1075.7 L644.8,1076 L645.6,1076.3 L646.4,1076.6 L647.3,1076.9 L648.1,1077.2 L648.9,1077.5 L649.7,1077.8 L650.6,1078.1 L651.4,1078.4 L652.2,1078.7 L653.1,1079 L653.9,1079.3 L654.7,1079.6 L655.5,1079.9 L656.4,1080.1 L657.2,1080.4 L658,1080.7 L658.8,1081 L659.7,1081.3 L660.5,1081.6" fill="none" stroke="#ff00ff" stroke-width="1.3" stroke-linejoin="round" stroke-linecap="round" />
<path d="M413,980.8 L413.8,981 L414.7,981.2 L415.5,981.4 L416.3,981.5 L417.1,981.7 L418,981.9 L418.8,982.1 L419.6,982.2 L420.4,982.4 L421.3,982.5 L422.1,982.7 L422.9,982.8 L423.8,983 L424.6,983.1 L425.4,983.3 L426.2,983.4 L427.1,983.5 L427.9,983.6 L428.7,983.8 L429.6,983.9 L430.4,984 L431.2,984.1 L432,984.2 L432.9,984.3 L433.7,984.4 L434.5,984.5 L435.3,984.6 L436.2,984.7 L437,984.8 L437.8,984.9 L438.7,985 L439.5,985 L440.3,985.1 L441.1,985.2 L442,985.3 L442.8,985.3 L443.6,985.4 L444.5,985.5 L445.3,985.5 L446.1,985.6 L446.9,985.7 L447.8,985.7 L448.6,985.8 L449.4,985.8 L450.2,985.9 L451.1,985.9 L451.9,986 L452.7,986 L453.6,986.1 L454.4,986.1 L455.2,986.2 L456,986.2 L456.9,986.3 L457.7,986.3 L458.5,986.3 L459.4,986.4 L460.2,986.4 L461,986.5 L461.8,986.5 L462.7,986.5 L463.5,986.6 L464.3,986.6 L465.1,986.6 L466,986.7 L466.8,986.7 L467.6,986.8 L468.5,986.8 L469.3,986.8 L470.1,986.9 L470.9,986.9 L471.8,986.9 L472.6,987 L473.4,987 L474.3,987 L475.1,987.1 L475.9,987.1 L476.7,987.2 L477.6,987.2 L478.4,987.2 L479.2,987.3 L480,987.3 L480.9,987.4 L481.7,987.4 L482.5,987.5 L483.4,987.5 L484.2,987.6 L485,987.6 L485.8,987.7 L486.7,987.7 L487.5,987.8 L488.3,987.8 L489.2,987.9 L490,987.9 L490.8,988 L491.6,988.1 L492.5,988.1 L493.3,988.2 L494.1,988.3 L494.9,988.4 L495.8,988.4 L496.6,988.5 L497.4,988.6 L498.3,988.7 L499.1,988.8 L499.9,988.8 L500.7,988.9 L501.6,989 L502.4,989.1 L503.2,989.2 L504.1,989.3 L504.9,989.4 L505.7,989.5 L506.5,989.7 L507.4,989.8 L508.2,989.9 L509,990 L509.8,990.2 L510.7,990.3 L511.5,990.4 L512.3,990.6 L513.2,990.7 L514,990.8 L514.8,991 L515.6,991.2 L516.5,991.3 L517.3,991.5 L518.1,991.6 L519,991.8 L519.8,992 L520.6,992.2 L521.4,992.4 L522.3,992.6 L523.1,992.8 L523.9,993 L524.7,993.2 L525.6,993.4 L526.4,993.6 L527.2,993.8 L528.1,994.1 L528.9,994.3 L529.7,994.6 L530.5,994.8 L531.4,995.1 L532.2,995.4 L533,995.6 L533.9,995.9 L534.7,996.2 L535.5,996.5 L536.3,996.8 L537.2,997.1 L538,997.4 L538.8,997.8 L539.6,998.1 L540.5,998.5 L541.3,998.8 L542.1,999.2 L543,999.6 L543.8,999.9 L544.6,1000.3 L545.4,1000.7 L546.3,1001.1 L547.1,1001.6 L547.9,1002 L548.8,1002.4 L549.6,1002.9 L550.4,1003.4 L551.2,1003.8 L552.1,1004.3 L552.9,1004.8 L553.7,1005.3 L554.5,1005.8 L555.4,1006.4 L556.2,1006.9 L557,1007.4 L557.9,1008 L558.7,1008.6 L559.5,1009.2 L560.3,1009.8 L561.2,1010.4 L562,1011 L562.8,1011.6 L563.7,1012.3 L564.5,1012.9 L565.3,1013.6 L566.1,1014.3 L567,1015 L567.8,1015.7 L568.6,1016.4 L569.4,1017.2 L570.3,1017.9 L571.1,1018.7 L571.9,1019.5 L572.8,1020.3 L573.6,1021.1 L574.4,1021.9 L575.2,1022.7 L576.1,1023.5 L576.9,1024.4 L577.7,1025.2 L578.6,1026.1 L579.4,1027 L580.2,1027.9 L581,1028.8 L581.9,1029.7 L582.7,1030.6 L583.5,1031.5 L584.3,1032.4 L585.2,1033.3 L586,1034.2 L586.8,1035.1 L587.7,1036 L588.5,1037 L589.3,1037.9 L590.1,1038.8 L591,1039.7 L591.8,1040.6 L592.6,1041.6 L593.5,1042.5 L594.3,1043.4 L595.1,1044.3 L595.9,1045.2 L596.8,1046.1 L597.6,1047 L598.4,1047.9 L599.2,1048.8 L600.1,1049.6 L600.9,1050.5 L601.7,1051.4 L602.6,1052.2 L603.4,1053.1 L604.2,1053.9 L605,1054.8 L605.9,1055.6 L606.7,1056.4 L607.5,1057.2 L608.4,1058 L609.2,1058.8 L610,1059.6 L610.8,1060.4 L611.7,1061.1 L612.5,1061.9 L613.3,1062.6 L614.1,1063.4 L615,1064.1 L615.8,1064.8 L616.6,1065.5 L617.5,1066.2 L618.3,1066.9 L619.1,1067.6 L619.9,1068.2 L620.8,1068.9 L621.6,1069.5 L622.4,1070.2 L623.3,1070.8 L624.1,1071.4 L624.9,1072 L625.7,1072.6 L626.6,1073.1 L627.4,1073.7 L628.2,1074.2 L629,1074.8 L629.9,1075.3 L630.7,1075.8 L631.5,1076.3 L632.4,1076.8 L633.2,1077.3 L634,1077.7 L634.8,1078.2 L635.7,1078.6 L636.5,1079.1 L637.3,1079.5 L638.2,1079.9 L639,1080.3 L639.8,1080.7 L640.6,1081.1 L641.5,1081.5 L642.3,1081.8 L643.1,1082.2 L643.9,1082.6 L644.8,1082.9 L645.6,1083.2 L646.4,1083.6 L647.3,1083.9 L648.1,1084.2 L648.9,1084.5 L649.7,1084.8 L650.6,1085.1 L651.4,1085.3 L652.2,1085.6 L653.1,1085.9 L653.9,1086.1 L654.7,1086.4 L655.5,1086.6 L656.4,1086.9 L657.2,1087.1 L658,1087.3 L658.8,1087.5 L659.7,1087.8 L660.5,1088" fill="none" stroke="#00007f" stroke-width="1.3" stroke-linejoin="round" stroke-linecap="round" />
<rect x="413" y="892" width="248" height="200.4" fill="none" stroke="#111" stroke-width="1.8" />
<line x1="415.7" y1="1092.4" x2="415.7" y2="1094.5" stroke="#000" stroke-width="1.2" />
<line x1="432.4" y1="1092.4" x2="432.4" y2="1096.5" stroke="#000" stroke-width="1.3" />
<text x="432.4" y="1111" font-size="14.3" text-anchor="middle" textLength="24" lengthAdjust="spacingAndGlyphs">700</text>
<line x1="449.1" y1="1092.4" x2="449.1" y2="1094.5" stroke="#000" stroke-width="1.2" />
<line x1="465.8" y1="1092.4" x2="465.8" y2="1096.5" stroke="#000" stroke-width="1.3" />
<text x="465.8" y="1111" font-size="14.3" text-anchor="middle" textLength="24" lengthAdjust="spacingAndGlyphs">710</text>
<line x1="482.5" y1="1092.4" x2="482.5" y2="1094.5" stroke="#000" stroke-width="1.2" />
<line x1="499.3" y1="1092.4" x2="499.3" y2="1096.5" stroke="#000" stroke-width="1.3" />
<text x="499.3" y="1111" font-size="14.3" text-anchor="middle" textLength="24" lengthAdjust="spacingAndGlyphs">720</text>
<line x1="516" y1="1092.4" x2="516" y2="1094.5" stroke="#000" stroke-width="1.2" />
<line x1="532.7" y1="1092.4" x2="532.7" y2="1096.5" stroke="#000" stroke-width="1.3" />
<text x="532.7" y="1111" font-size="14.3" text-anchor="middle" textLength="24" lengthAdjust="spacingAndGlyphs">730</text>
<line x1="549.4" y1="1092.4" x2="549.4" y2="1094.5" stroke="#000" stroke-width="1.2" />
<line x1="566.1" y1="1092.4" x2="566.1" y2="1096.5" stroke="#000" stroke-width="1.3" />
<text x="566.1" y="1111" font-size="14.3" text-anchor="middle" textLength="24" lengthAdjust="spacingAndGlyphs">740</text>
<line x1="582.8" y1="1092.4" x2="582.8" y2="1094.5" stroke="#000" stroke-width="1.2" />
<line x1="599.5" y1="1092.4" x2="599.5" y2="1096.5" stroke="#000" stroke-width="1.3" />
<text x="599.5" y="1111" font-size="14.3" text-anchor="middle" textLength="24" lengthAdjust="spacingAndGlyphs">750</text>
<line x1="616.3" y1="1092.4" x2="616.3" y2="1094.5" stroke="#000" stroke-width="1.2" />
<line x1="633" y1="1092.4" x2="633" y2="1096.5" stroke="#000" stroke-width="1.3" />
<text x="633" y="1111" font-size="14.3" text-anchor="middle" textLength="24" lengthAdjust="spacingAndGlyphs">760</text>
<line x1="649.7" y1="1092.4" x2="649.7" y2="1094.5" stroke="#000" stroke-width="1.2" />
<text x="462" y="1131" font-size="17.5" textLength="140" lengthAdjust="spacingAndGlyphs">Wavelength (nm)</text>
<text x="0" y="0" transform="translate(397.3,1053) rotate(-90)" font-size="17.5" textLength="134" lengthAdjust="spacingAndGlyphs">Absorbace (a.u.)</text>
<line x1="418" y1="905.6" x2="453.6" y2="905.6" stroke="#ff0000" stroke-width="1.3" />
<line x1="418" y1="925.6" x2="453.6" y2="925.6" stroke="#ff00ff" stroke-width="1.3" />
<line x1="418" y1="944.6" x2="453.6" y2="944.6" stroke="#00007f" stroke-width="1.3" />
<text x="458.4" y="911.6" font-size="15.5" textLength="143.2" lengthAdjust="spacingAndGlyphs">Triple cation: Day-1</text>
<text x="458.4" y="931.4" font-size="15.5" textLength="143.2" lengthAdjust="spacingAndGlyphs">Triple cation: Day-2</text>
<text x="458.4" y="950.6" font-size="15.5" textLength="143.2" lengthAdjust="spacingAndGlyphs">Triple cation: Day-3</text>
<path d="M581.1,989.3 L568.3,1031.9 L563.3,1030.4 L566.4,1047 L578.1,1034.9 L573.1,1033.4 L585.9,990.7Z" fill="#0070c0"/>
<rect x="515.6" y="1152.7" width="85.6" height="62.5" fill="none" stroke="#3404c0" stroke-width="2" stroke-dasharray="5.2 1.7"/>
<line x1="504.2" y1="1152.7" x2="428" y2="1116.5" stroke="#3404c0" stroke-width="1.3" stroke-dasharray="3.5 1.5"/>
<path d="M420.6,1113 L432.7,1113.2 L428.4,1122.2Z" fill="#3404c0"/>
<line x1="604.3" y1="1152.7" x2="655" y2="1103.5" stroke="#3404c0" stroke-width="1.3" stroke-dasharray="3.5 1.5"/>
<path d="M660.5,1098.6 L656,1109.8 L649.1,1102.6Z" fill="#3404c0"/>
<text x="821.3" y="775.3" font-size="50">d</text>
<path d="M892.1,899.3 L893.5,901.5 L895,903.7 L896.4,906 L897.9,908.2 L899.3,910.4 L900.8,912.6 L902.2,914.8 L903.7,916.9 L905.1,919.1 L906.6,921.3 L908,923.4 L909.5,925.6 L910.9,927.7 L912.4,929.9 L913.8,932 L915.3,934.1 L916.7,936.2 L918.2,938.3 L919.6,940.4 L921,942.5 L922.5,944.6 L923.9,946.6 L925.4,948.7 L926.8,950.8 L928.3,952.8 L929.7,954.9 L931.2,956.9 L932.6,958.9 L934.1,961 L935.5,963 L937,965 L938.4,967 L939.9,969 L941.3,971 L942.8,973 L944.2,975 L945.7,977 L947.1,979 L948.5,980.9 L950,982.9 L951.4,984.9 L952.9,986.8 L954.3,988.8 L955.8,990.7 L957.2,992.7 L958.7,994.6 L960.1,996.5 L961.6,998.4 L963,1000.3 L964.5,1002.2 L965.9,1004.1 L967.4,1006 L968.8,1007.8 L970.3,1009.6 L971.7,1011.5 L973.2,1013.3 L974.6,1015 L976,1016.8 L977.5,1018.5 L978.9,1020.2 L980.4,1021.9 L981.8,1023.6 L983.3,1025.2 L984.7,1026.9 L986.2,1028.5 L987.6,1030 L989.1,1031.6 L990.5,1033.1 L992,1034.6 L993.4,1036.1 L994.9,1037.6 L996.3,1039.1 L997.8,1040.5 L999.2,1041.9 L1000.7,1043.4 L1002.1,1044.8 L1003.5,1046.1 L1005,1047.5 L1006.4,1048.8 L1007.9,1050.2 L1009.3,1051.5 L1010.8,1052.8 L1012.2,1054.1 L1013.7,1055.4 L1015.1,1056.7 L1016.6,1057.9 L1018,1059.1 L1019.5,1060.4 L1020.9,1061.6 L1022.4,1062.8 L1023.8,1064 L1025.3,1065.1 L1026.7,1066.3 L1028.2,1067.4 L1029.6,1068.6 L1031,1069.7 L1032.5,1070.8 L1033.9,1071.9 L1035.4,1073 L1036.8,1074 L1038.3,1075.1 L1039.7,1076.1 L1041.2,1077.2 L1042.6,1078.2 L1044.1,1079.2 L1045.5,1080.2 L1047,1081.2 L1048.4,1082.1 L1049.9,1083.1 L1051.3,1084.1 L1052.8,1085 L1054.2,1085.9 L1055.7,1086.8 L1057.1,1087.7 L1058.5,1088.6 L1060,1089.5 L1061.4,1090.4 L1062.9,1091.3 L1064.3,1092.1 L1065.8,1093 L1067.2,1093.8 L1068.7,1094.6 L1070.1,1095.4 L1071.6,1096.2 L1073,1097 L1074.5,1097.8 L1075.9,1098.6 L1077.4,1099.3 L1078.8,1100.1 L1080.3,1100.8 L1081.7,1101.6 L1083.2,1102.3 L1084.6,1103 L1086,1103.7 L1087.5,1104.4 L1088.9,1105.1 L1090.4,1105.8 L1091.8,1106.5 L1093.3,1107.2 L1094.7,1107.8 L1096.2,1108.5 L1097.6,1109.1 L1099.1,1109.8 L1100.5,1110.4 L1102,1111 L1103.4,1111.6 L1104.9,1112.2 L1106.3,1112.8 L1107.8,1113.4 L1109.2,1114 L1110.7,1114.6 L1112.1,1115.2 L1113.5,1115.7 L1115,1116.3 L1116.4,1116.8 L1117.9,1117.4 L1119.3,1117.9 L1120.8,1118.5 L1122.2,1119 L1123.7,1119.5 L1125.1,1120 L1126.6,1120.5 L1128,1121.1 L1129.5,1121.6 L1130.9,1122 L1132.4,1122.5 L1133.8,1123 L1135.3,1123.5 L1136.7,1124 L1138.2,1124.4 L1139.6,1124.9 L1141,1125.4 L1142.5,1125.8 L1143.9,1126.3 L1145.4,1126.7 L1146.8,1127.2 L1148.3,1127.6 L1149.7,1128 L1151.2,1128.5 L1152.6,1128.9 L1154.1,1129.3 L1155.5,1129.7 L1157,1130.2 L1158.4,1130.6 L1159.9,1131 L1161.3,1131.4 L1162.8,1131.8 L1164.2,1132.2 L1165.7,1132.6 L1167.1,1133 L1168.5,1133.4 L1170,1133.8 L1171.4,1134.2 L1172.9,1134.5 L1174.3,1134.9 L1175.8,1135.3 L1177.2,1135.7 L1178.7,1136.1 L1180.1,1136.4 L1181.6,1136.8 L1183,1137.2 L1184.5,1137.6 L1185.9,1137.9 L1187.4,1138.3 L1188.8,1138.7 L1190.3,1139 L1191.7,1139.4 L1193.2,1139.8 L1194.6,1140.1 L1196,1140.5 L1197.5,1140.8 L1198.9,1141.2 L1200.4,1141.5 L1201.8,1141.9 L1203.3,1142.2 L1204.7,1142.6 L1206.2,1142.9 L1207.6,1143.3 L1209.1,1143.6 L1210.5,1144 L1212,1144.3 L1213.4,1144.6 L1214.9,1145 L1216.3,1145.3 L1217.8,1145.6 L1219.2,1145.9 L1220.7,1146.3 L1222.1,1146.6 L1223.5,1146.9 L1225,1147.2 L1226.4,1147.5 L1227.9,1147.8 L1229.3,1148.1 L1230.8,1148.4 L1232.2,1148.7 L1233.7,1149 L1235.1,1149.3 L1236.6,1149.6 L1238,1149.9 L1239.5,1150.1 L1240.9,1150.4 L1242.4,1150.7 L1243.8,1151 L1245.3,1151.2 L1246.7,1151.5 L1248.2,1151.7 L1249.6,1152 L1251,1152.2 L1252.5,1152.5 L1253.9,1152.7 L1255.4,1152.9 L1256.8,1153.2 L1258.3,1153.4 L1259.7,1153.6 L1261.2,1153.8 L1262.6,1154.1 L1264.1,1154.3 L1265.5,1154.5 L1267,1154.7 L1268.4,1154.9 L1269.9,1155 L1271.3,1155.2 L1272.8,1155.4 L1274.2,1155.6 L1275.7,1155.7 L1277.1,1155.9 L1278.5,1156.1 L1280,1156.2 L1281.4,1156.4 L1282.9,1156.5 L1284.3,1156.6 L1285.8,1156.8 L1287.2,1156.9 L1288.7,1157 L1290.1,1157.1 L1291.6,1157.2 L1293,1157.3 L1294.5,1157.4 L1295.9,1157.5 L1297.4,1157.6 L1298.8,1157.7 L1300.3,1157.8 L1301.7,1157.8 L1303.2,1157.9 L1304.6,1157.9 L1306,1158 L1307.5,1158 L1308.9,1158 L1310.4,1158.1 L1311.8,1158.1 L1313.3,1158.1 L1314.7,1158.1 L1316.2,1158.1 L1317.6,1158.1 L1319.1,1158.1 L1320.5,1158.1 L1322,1158.1 L1323.4,1158 L1324.9,1158 L1326.3,1158 L1327.8,1158 L1329.2,1157.9 L1330.7,1157.9 L1332.1,1157.9 L1333.5,1157.9 L1335,1157.9 L1336.4,1157.9 L1337.9,1157.9 L1339.3,1157.9 L1340.8,1157.9 L1342.2,1158 L1343.7,1158 L1345.1,1158.1 L1346.6,1158.1 L1348,1158.2 L1349.5,1158.3 L1350.9,1158.5 L1352.4,1158.6 L1353.8,1158.7 L1355.3,1158.9 L1356.7,1159.1 L1358.2,1159.3 L1359.6,1159.6 L1361,1159.8 L1362.5,1160.1 L1363.9,1160.4 L1365.4,1160.7 L1366.8,1161.1 L1368.3,1161.5 L1369.7,1161.9 L1371.2,1162.4 L1372.6,1162.9 L1374.1,1163.4 L1375.5,1163.9 L1377,1164.5 L1378.4,1165.2 L1379.9,1165.9 L1381.3,1166.6 L1382.8,1167.4 L1384.2,1168.2 L1385.7,1169.1 L1387.1,1170 L1388.5,1170.9 L1390,1171.9 L1391.4,1172.9 L1392.9,1173.9 L1394.3,1174.9 L1395.8,1176 L1397.2,1177.1 L1398.7,1178.2 L1400.1,1179.3 L1401.6,1180.5 L1403,1181.6 L1404.5,1182.8 L1405.9,1184 L1407.4,1185.2 L1408.8,1186.3 L1410.3,1187.5 L1411.7,1188.7 L1413.2,1189.9 L1414.6,1191.1 L1416,1192.3 L1417.5,1193.5 L1418.9,1194.6 L1420.4,1195.8 L1421.8,1196.9 L1423.3,1198 L1424.7,1199.2 L1426.2,1200.2 L1427.6,1201.3 L1429.1,1202.4 L1430.5,1203.4 L1432,1204.4 L1433.4,1205.3 L1434.9,1206.3 L1436.3,1207.2 L1437.8,1208 L1439.2,1208.9 L1440.7,1209.7 L1442.1,1210.5 L1443.5,1211.2 L1445,1211.9 L1446.4,1212.6 L1447.9,1213.2 L1449.3,1213.8 L1450.8,1214.4 L1452.2,1214.9 L1453.7,1215.4 L1455.1,1215.8 L1456.6,1216.2 L1458,1216.5 L1459.5,1216.8 L1460.9,1217.1 L1462.4,1217.3 L1463.8,1217.5 L1465.3,1217.6 L1466.7,1217.7 L1468.2,1217.7 L1469.6,1217.6" fill="none" stroke="#000000" stroke-width="4.4" stroke-linejoin="round" stroke-linecap="round" />
<path d="M891,906.2 L892.5,908.8 L893.9,911.3 L895.4,913.8 L896.8,916.3 L898.3,918.7 L899.7,921.1 L901.2,923.5 L902.6,925.8 L904.1,928.1 L905.5,930.3 L907,932.6 L908.4,934.7 L909.9,936.9 L911.3,939.1 L912.8,941.2 L914.2,943.3 L915.7,945.3 L917.1,947.4 L918.6,949.4 L920,951.4 L921.5,953.4 L922.9,955.3 L924.4,957.3 L925.8,959.2 L927.3,961.2 L928.7,963.1 L930.2,965 L931.6,966.9 L933.1,968.7 L934.5,970.6 L936,972.5 L937.4,974.4 L938.9,976.2 L940.3,978.1 L941.8,979.9 L943.2,981.8 L944.7,983.7 L946.1,985.5 L947.6,987.4 L949,989.3 L950.5,991.2 L951.9,993.1 L953.4,995 L954.8,996.9 L956.3,998.8 L957.7,1000.7 L959.2,1002.6 L960.6,1004.5 L962.1,1006.4 L963.5,1008.3 L965,1010.2 L966.4,1012 L967.9,1013.9 L969.3,1015.7 L970.8,1017.6 L972.2,1019.4 L973.7,1021.2 L975.1,1022.9 L976.6,1024.7 L978,1026.4 L979.5,1028.1 L980.9,1029.7 L982.4,1031.3 L983.8,1032.9 L985.3,1034.5 L986.7,1036 L988.2,1037.5 L989.6,1039 L991.1,1040.4 L992.5,1041.8 L994,1043.2 L995.4,1044.6 L996.9,1046 L998.3,1047.3 L999.8,1048.7 L1001.2,1050 L1002.7,1051.3 L1004.1,1052.6 L1005.6,1053.9 L1007,1055.1 L1008.5,1056.4 L1009.9,1057.6 L1011.4,1058.9 L1012.8,1060.1 L1014.3,1061.3 L1015.7,1062.5 L1017.2,1063.7 L1018.6,1064.9 L1020.1,1066 L1021.5,1067.2 L1023,1068.3 L1024.4,1069.4 L1025.9,1070.5 L1027.3,1071.6 L1028.8,1072.7 L1030.2,1073.8 L1031.7,1074.9 L1033.1,1075.9 L1034.6,1077 L1036,1078 L1037.5,1079.1 L1038.9,1080.1 L1040.4,1081.1 L1041.8,1082.1 L1043.3,1083.1 L1044.7,1084 L1046.2,1085 L1047.6,1086 L1049.1,1086.9 L1050.5,1087.8 L1052,1088.8 L1053.4,1089.7 L1054.9,1090.6 L1056.3,1091.5 L1057.8,1092.4 L1059.2,1093.2 L1060.7,1094.1 L1062.1,1095 L1063.6,1095.8 L1065,1096.6 L1066.5,1097.5 L1067.9,1098.3 L1069.4,1099.1 L1070.8,1099.9 L1072.3,1100.7 L1073.7,1101.5 L1075.2,1102.3 L1076.6,1103 L1078.1,1103.8 L1079.5,1104.5 L1081,1105.3 L1082.4,1106 L1083.9,1106.7 L1085.3,1107.5 L1086.8,1108.2 L1088.2,1108.9 L1089.7,1109.6 L1091.1,1110.3 L1092.6,1110.9 L1094,1111.6 L1095.5,1112.3 L1096.9,1112.9 L1098.4,1113.6 L1099.8,1114.2 L1101.3,1114.8 L1102.7,1115.5 L1104.2,1116.1 L1105.6,1116.7 L1107.1,1117.3 L1108.5,1117.9 L1110,1118.5 L1111.4,1119.1 L1112.9,1119.7 L1114.3,1120.2 L1115.8,1120.8 L1117.2,1121.4 L1118.7,1121.9 L1120.1,1122.5 L1121.6,1123 L1123,1123.5 L1124.5,1124.1 L1125.9,1124.6 L1127.4,1125.1 L1128.8,1125.6 L1130.3,1126.1 L1131.7,1126.6 L1133.2,1127.1 L1134.6,1127.6 L1136.1,1128.1 L1137.5,1128.6 L1139,1129 L1140.4,1129.5 L1141.9,1130 L1143.3,1130.4 L1144.8,1130.9 L1146.2,1131.3 L1147.7,1131.8 L1149.1,1132.2 L1150.6,1132.6 L1152,1133.1 L1153.5,1133.5 L1154.9,1133.9 L1156.4,1134.3 L1157.8,1134.7 L1159.3,1135.2 L1160.7,1135.6 L1162.2,1136 L1163.6,1136.4 L1165.1,1136.7 L1166.5,1137.1 L1168,1137.5 L1169.4,1137.9 L1170.9,1138.3 L1172.3,1138.7 L1173.8,1139 L1175.2,1139.4 L1176.7,1139.8 L1178.1,1140.1 L1179.6,1140.5 L1181,1140.8 L1182.5,1141.2 L1183.9,1141.6 L1185.4,1141.9 L1186.8,1142.2 L1188.3,1142.6 L1189.7,1142.9 L1191.2,1143.3 L1192.6,1143.6 L1194.1,1143.9 L1195.5,1144.3 L1197,1144.6 L1198.4,1144.9 L1199.9,1145.2 L1201.3,1145.6 L1202.8,1145.9 L1204.2,1146.2 L1205.7,1146.5 L1207.1,1146.8 L1208.6,1147.1 L1210,1147.4 L1211.5,1147.7 L1212.9,1148 L1214.4,1148.3 L1215.8,1148.5 L1217.3,1148.8 L1218.7,1149.1 L1220.2,1149.4 L1221.6,1149.7 L1223.1,1149.9 L1224.5,1150.2 L1226,1150.4 L1227.4,1150.7 L1228.9,1151 L1230.3,1151.2 L1231.8,1151.5 L1233.2,1151.7 L1234.7,1151.9 L1236.1,1152.2 L1237.6,1152.4 L1239,1152.6 L1240.5,1152.9 L1241.9,1153.1 L1243.4,1153.3 L1244.8,1153.5 L1246.3,1153.7 L1247.7,1153.9 L1249.2,1154.1 L1250.6,1154.3 L1252.1,1154.5 L1253.5,1154.7 L1255,1154.9 L1256.4,1155.1 L1257.9,1155.2 L1259.3,1155.4 L1260.8,1155.6 L1262.2,1155.7 L1263.7,1155.9 L1265.1,1156 L1266.6,1156.2 L1268,1156.3 L1269.5,1156.5 L1270.9,1156.6 L1272.4,1156.7 L1273.8,1156.9 L1275.3,1157 L1276.7,1157.1 L1278.2,1157.2 L1279.6,1157.3 L1281.1,1157.4 L1282.5,1157.5 L1284,1157.6 L1285.4,1157.7 L1286.9,1157.8 L1288.3,1157.9 L1289.8,1157.9 L1291.2,1158 L1292.7,1158.1 L1294.1,1158.1 L1295.6,1158.2 L1297,1158.2 L1298.5,1158.3 L1299.9,1158.3 L1301.4,1158.3 L1302.8,1158.4 L1304.3,1158.4 L1305.7,1158.4 L1307.2,1158.4 L1308.6,1158.4 L1310.1,1158.4 L1311.5,1158.4 L1313,1158.4 L1314.4,1158.4 L1315.9,1158.4 L1317.3,1158.4 L1318.8,1158.3 L1320.2,1158.3 L1321.7,1158.3 L1323.1,1158.2 L1324.6,1158.2 L1326,1158.2 L1327.5,1158.1 L1328.9,1158.1 L1330.4,1158.1 L1331.8,1158.1 L1333.3,1158.1 L1334.7,1158.1 L1336.2,1158.1 L1337.6,1158.1 L1339.1,1158.1 L1340.5,1158.2 L1342,1158.3 L1343.4,1158.3 L1344.9,1158.4 L1346.3,1158.5 L1347.8,1158.7 L1349.2,1158.8 L1350.7,1159 L1352.1,1159.2 L1353.6,1159.4 L1355,1159.6 L1356.5,1159.9 L1357.9,1160.2 L1359.4,1160.5 L1360.8,1160.8 L1362.3,1161.2 L1363.7,1161.6 L1365.2,1162.1 L1366.6,1162.5 L1368.1,1163.1 L1369.5,1163.6 L1371,1164.2 L1372.4,1164.8 L1373.9,1165.5 L1375.3,1166.1 L1376.8,1166.9 L1378.2,1167.6 L1379.7,1168.4 L1381.1,1169.3 L1382.6,1170.2 L1384,1171.1 L1385.5,1172 L1386.9,1172.9 L1388.4,1173.9 L1389.8,1174.9 L1391.3,1176 L1392.7,1177.1 L1394.2,1178.2 L1395.6,1179.3 L1397.1,1180.4 L1398.5,1181.6 L1400,1182.8 L1401.4,1184 L1402.9,1185.2 L1404.3,1186.4 L1405.8,1187.6 L1407.2,1188.9 L1408.7,1190.1 L1410.1,1191.3 L1411.6,1192.6 L1413,1193.8 L1414.5,1195 L1415.9,1196.2 L1417.4,1197.4 L1418.8,1198.5 L1420.3,1199.6 L1421.7,1200.7 L1423.2,1201.8 L1424.6,1202.8 L1426.1,1203.8 L1427.5,1204.8 L1429,1205.7 L1430.4,1206.6 L1431.9,1207.5 L1433.3,1208.3 L1434.8,1209.1 L1436.2,1209.9 L1437.7,1210.6 L1439.1,1211.3 L1440.6,1212 L1442,1212.6 L1443.5,1213.2 L1444.9,1213.8 L1446.4,1214.3 L1447.8,1214.8 L1449.3,1215.3 L1450.7,1215.8 L1452.2,1216.2 L1453.6,1216.6 L1455.1,1217 L1456.5,1217.3 L1458,1217.6 L1459.4,1217.9 L1460.9,1218.1 L1462.3,1218.3 L1463.8,1218.5 L1465.2,1218.7 L1466.7,1218.8 L1468.1,1218.9 L1469.6,1219" fill="none" stroke="#0000ff" stroke-width="4.2" stroke-linejoin="round" stroke-linecap="round" />
<path d="M890.7,911.6 L892.2,914.6 L893.6,917.7 L895.1,920.6 L896.5,923.5 L898,926.4 L899.4,929.2 L900.9,932 L902.3,934.7 L903.8,937.3 L905.2,939.9 L906.7,942.5 L908.1,945 L909.6,947.5 L911,950 L912.5,952.4 L913.9,954.7 L915.4,957 L916.8,959.3 L918.3,961.6 L919.7,963.8 L921.2,966 L922.6,968.1 L924.1,970.3 L925.5,972.4 L927,974.4 L928.4,976.5 L929.9,978.5 L931.4,980.5 L932.8,982.5 L934.3,984.4 L935.7,986.4 L937.2,988.3 L938.6,990.2 L940.1,992.1 L941.5,993.9 L943,995.8 L944.4,997.7 L945.9,999.5 L947.3,1001.3 L948.8,1003.1 L950.2,1005 L951.7,1006.8 L953.1,1008.6 L954.6,1010.4 L956,1012.1 L957.5,1013.9 L958.9,1015.7 L960.4,1017.4 L961.8,1019.2 L963.3,1020.9 L964.7,1022.6 L966.2,1024.3 L967.6,1026 L969.1,1027.7 L970.6,1029.4 L972,1031 L973.5,1032.6 L974.9,1034.2 L976.4,1035.7 L977.8,1037.3 L979.3,1038.8 L980.7,1040.3 L982.2,1041.8 L983.6,1043.2 L985.1,1044.6 L986.5,1046 L988,1047.4 L989.4,1048.7 L990.9,1050 L992.3,1051.3 L993.8,1052.6 L995.2,1053.9 L996.7,1055.1 L998.1,1056.3 L999.6,1057.6 L1001,1058.7 L1002.5,1059.9 L1003.9,1061.1 L1005.4,1062.2 L1006.9,1063.3 L1008.3,1064.5 L1009.8,1065.6 L1011.2,1066.6 L1012.7,1067.7 L1014.1,1068.8 L1015.6,1069.8 L1017,1070.9 L1018.5,1071.9 L1019.9,1073 L1021.4,1074 L1022.8,1075 L1024.3,1076 L1025.7,1077 L1027.2,1078 L1028.6,1079 L1030.1,1080 L1031.5,1081 L1033,1081.9 L1034.4,1082.9 L1035.9,1083.9 L1037.3,1084.8 L1038.8,1085.7 L1040.2,1086.7 L1041.7,1087.6 L1043.1,1088.5 L1044.6,1089.4 L1046.1,1090.3 L1047.5,1091.2 L1049,1092.1 L1050.4,1093 L1051.9,1093.9 L1053.3,1094.8 L1054.8,1095.6 L1056.2,1096.5 L1057.7,1097.4 L1059.1,1098.2 L1060.6,1099 L1062,1099.9 L1063.5,1100.7 L1064.9,1101.5 L1066.4,1102.3 L1067.8,1103.1 L1069.3,1103.9 L1070.7,1104.7 L1072.2,1105.5 L1073.6,1106.3 L1075.1,1107.1 L1076.5,1107.8 L1078,1108.6 L1079.4,1109.3 L1080.9,1110.1 L1082.3,1110.8 L1083.8,1111.6 L1085.3,1112.3 L1086.7,1113 L1088.2,1113.7 L1089.6,1114.4 L1091.1,1115.1 L1092.5,1115.8 L1094,1116.5 L1095.4,1117.2 L1096.9,1117.9 L1098.3,1118.6 L1099.8,1119.2 L1101.2,1119.9 L1102.7,1120.5 L1104.1,1121.2 L1105.6,1121.8 L1107,1122.4 L1108.5,1123.1 L1109.9,1123.7 L1111.4,1124.3 L1112.8,1124.9 L1114.3,1125.5 L1115.7,1126.1 L1117.2,1126.7 L1118.6,1127.3 L1120.1,1127.9 L1121.5,1128.4 L1123,1129 L1124.5,1129.5 L1125.9,1130.1 L1127.4,1130.6 L1128.8,1131.2 L1130.3,1131.7 L1131.7,1132.2 L1133.2,1132.8 L1134.6,1133.3 L1136.1,1133.8 L1137.5,1134.3 L1139,1134.8 L1140.4,1135.3 L1141.9,1135.8 L1143.3,1136.3 L1144.8,1136.7 L1146.2,1137.2 L1147.7,1137.7 L1149.1,1138.1 L1150.6,1138.6 L1152,1139 L1153.5,1139.5 L1154.9,1139.9 L1156.4,1140.3 L1157.8,1140.7 L1159.3,1141.2 L1160.7,1141.6 L1162.2,1142 L1163.7,1142.4 L1165.1,1142.8 L1166.6,1143.2 L1168,1143.5 L1169.5,1143.9 L1170.9,1144.3 L1172.4,1144.7 L1173.8,1145 L1175.3,1145.4 L1176.7,1145.7 L1178.2,1146.1 L1179.6,1146.4 L1181.1,1146.7 L1182.5,1147.1 L1184,1147.4 L1185.4,1147.7 L1186.9,1148 L1188.3,1148.3 L1189.8,1148.6 L1191.2,1148.9 L1192.7,1149.2 L1194.1,1149.5 L1195.6,1149.8 L1197,1150 L1198.5,1150.3 L1200,1150.6 L1201.4,1150.8 L1202.9,1151.1 L1204.3,1151.3 L1205.8,1151.5 L1207.2,1151.8 L1208.7,1152 L1210.1,1152.2 L1211.6,1152.5 L1213,1152.7 L1214.5,1152.9 L1215.9,1153.1 L1217.4,1153.3 L1218.8,1153.5 L1220.3,1153.7 L1221.7,1153.8 L1223.2,1154 L1224.6,1154.2 L1226.1,1154.4 L1227.5,1154.5 L1229,1154.7 L1230.4,1154.8 L1231.9,1155 L1233.3,1155.2 L1234.8,1155.3 L1236.2,1155.4 L1237.7,1155.6 L1239.2,1155.7 L1240.6,1155.8 L1242.1,1156 L1243.5,1156.1 L1245,1156.2 L1246.4,1156.3 L1247.9,1156.4 L1249.3,1156.6 L1250.8,1156.7 L1252.2,1156.8 L1253.7,1156.9 L1255.1,1157 L1256.6,1157.1 L1258,1157.2 L1259.5,1157.3 L1260.9,1157.4 L1262.4,1157.5 L1263.8,1157.6 L1265.3,1157.7 L1266.7,1157.8 L1268.2,1157.8 L1269.6,1157.9 L1271.1,1158 L1272.5,1158.1 L1274,1158.2 L1275.4,1158.3 L1276.9,1158.4 L1278.4,1158.5 L1279.8,1158.5 L1281.3,1158.6 L1282.7,1158.7 L1284.2,1158.8 L1285.6,1158.9 L1287.1,1159 L1288.5,1159 L1290,1159.1 L1291.4,1159.2 L1292.9,1159.3 L1294.3,1159.4 L1295.8,1159.5 L1297.2,1159.6 L1298.7,1159.7 L1300.1,1159.8 L1301.6,1159.9 L1303,1160 L1304.5,1160.1 L1305.9,1160.2 L1307.4,1160.3 L1308.8,1160.4 L1310.3,1160.5 L1311.7,1160.6 L1313.2,1160.7 L1314.6,1160.8 L1316.1,1160.9 L1317.6,1161 L1319,1161.2 L1320.5,1161.3 L1321.9,1161.4 L1323.4,1161.5 L1324.8,1161.7 L1326.3,1161.8 L1327.7,1162 L1329.2,1162.1 L1330.6,1162.3 L1332.1,1162.4 L1333.5,1162.6 L1335,1162.7 L1336.4,1162.9 L1337.9,1163.1 L1339.3,1163.2 L1340.8,1163.4 L1342.2,1163.6 L1343.7,1163.8 L1345.1,1164 L1346.6,1164.2 L1348,1164.4 L1349.5,1164.7 L1350.9,1164.9 L1352.4,1165.2 L1353.8,1165.5 L1355.3,1165.8 L1356.8,1166.1 L1358.2,1166.5 L1359.7,1166.9 L1361.1,1167.3 L1362.6,1167.7 L1364,1168.2 L1365.5,1168.7 L1366.9,1169.3 L1368.4,1169.9 L1369.8,1170.5 L1371.3,1171.2 L1372.7,1171.9 L1374.2,1172.7 L1375.6,1173.5 L1377.1,1174.3 L1378.5,1175.2 L1380,1176.2 L1381.4,1177.2 L1382.9,1178.3 L1384.3,1179.4 L1385.8,1180.5 L1387.2,1181.7 L1388.7,1182.9 L1390.1,1184.1 L1391.6,1185.3 L1393.1,1186.5 L1394.5,1187.8 L1396,1189.1 L1397.4,1190.3 L1398.9,1191.6 L1400.3,1192.9 L1401.8,1194.1 L1403.2,1195.3 L1404.7,1196.5 L1406.1,1197.7 L1407.6,1198.9 L1409,1200 L1410.5,1201.1 L1411.9,1202.2 L1413.4,1203.3 L1414.8,1204.3 L1416.3,1205.3 L1417.7,1206.2 L1419.2,1207.2 L1420.6,1208.1 L1422.1,1208.9 L1423.5,1209.7 L1425,1210.5 L1426.4,1211.3 L1427.9,1212 L1429.3,1212.6 L1430.8,1213.2 L1432.3,1213.8 L1433.7,1214.4 L1435.2,1214.9 L1436.6,1215.3 L1438.1,1215.8 L1439.5,1216.2 L1441,1216.5 L1442.4,1216.9 L1443.9,1217.2 L1445.3,1217.5 L1446.8,1217.7 L1448.2,1218 L1449.7,1218.2 L1451.1,1218.4 L1452.6,1218.5 L1454,1218.7 L1455.5,1218.8 L1456.9,1219 L1458.4,1219.1 L1459.8,1219.2 L1461.3,1219.3 L1462.7,1219.4 L1464.2,1219.5 L1465.6,1219.5 L1467.1,1219.6 L1468.5,1219.7 L1470,1219.8" fill="none" stroke="#007f00" stroke-width="3.8" stroke-linejoin="round" stroke-linecap="round" />
<rect x="891" y="748.3" width="580" height="471.7" fill="none" stroke="#000" stroke-width="4.6" />
<line x1="890.5" y1="1220" x2="890.5" y2="1229" stroke="#000" stroke-width="4.5" />
<text x="890.5" y="1258.8" font-size="30" text-anchor="middle" textLength="48" lengthAdjust="spacingAndGlyphs">500</text>
<line x1="987.2" y1="1220" x2="987.2" y2="1224" stroke="#000" stroke-width="4" />
<line x1="1084" y1="1220" x2="1084" y2="1229" stroke="#000" stroke-width="4.5" />
<text x="1084" y="1258.8" font-size="30" text-anchor="middle" textLength="48" lengthAdjust="spacingAndGlyphs">600</text>
<line x1="1180.8" y1="1220" x2="1180.8" y2="1224" stroke="#000" stroke-width="4" />
<line x1="1277.5" y1="1220" x2="1277.5" y2="1229" stroke="#000" stroke-width="4.5" />
<text x="1277.5" y="1258.8" font-size="30" text-anchor="middle" textLength="48" lengthAdjust="spacingAndGlyphs">700</text>
<line x1="1374.2" y1="1220" x2="1374.2" y2="1224" stroke="#000" stroke-width="4" />
<line x1="1471" y1="1220" x2="1471" y2="1229" stroke="#000" stroke-width="4.5" />
<text x="1471" y="1258.8" font-size="30" text-anchor="middle" textLength="48" lengthAdjust="spacingAndGlyphs">800</text>
<text x="1025" y="1316.3" font-size="39.5" textLength="310" lengthAdjust="spacingAndGlyphs">Wavelength (nm)</text>
<text x="0" y="0" transform="translate(852.5,1121.3) rotate(-90)" font-size="40" textLength="303" lengthAdjust="spacingAndGlyphs">Absorbace (a.u.)</text>
<line x1="905.2" y1="777.1" x2="957.7" y2="777.1" stroke="#000000" stroke-width="3.7" />
<line x1="905.2" y1="818.4" x2="957.7" y2="818.4" stroke="#0000ff" stroke-width="3.7" />
<line x1="905.2" y1="860.5" x2="957.7" y2="860.5" stroke="#007f00" stroke-width="3.7" />
<text x="966.4" y="784.6" font-size="27.5">MAPbI<tspan font-size="18" dy="8">3</tspan><tspan dy="-8">:Day-1</tspan></text>
<text x="966.4" y="825.9" font-size="27.5">MAPbI<tspan font-size="18" dy="8">3</tspan><tspan dy="-8">:Day-2</tspan></text>
<text x="966.4" y="868" font-size="27.5">MAPbI<tspan font-size="18" dy="8">3</tspan><tspan dy="-8">:Day-3</tspan></text>
<path d="M1187,917.6 L1187.8,917.6 L1188.7,917.6 L1189.5,917.6 L1190.3,917.7 L1191.1,917.7 L1192,917.7 L1192.8,917.7 L1193.6,917.7 L1194.4,917.7 L1195.3,917.8 L1196.1,917.8 L1196.9,917.8 L1197.8,917.8 L1198.6,917.8 L1199.4,917.9 L1200.2,917.9 L1201.1,917.9 L1201.9,917.9 L1202.7,917.9 L1203.6,917.9 L1204.4,918 L1205.2,918 L1206,918 L1206.9,918 L1207.7,918 L1208.5,918 L1209.3,918.1 L1210.2,918.1 L1211,918.1 L1211.8,918.1 L1212.7,918.1 L1213.5,918.1 L1214.3,918.2 L1215.1,918.2 L1216,918.2 L1216.8,918.2 L1217.6,918.2 L1218.5,918.3 L1219.3,918.3 L1220.1,918.3 L1220.9,918.3 L1221.8,918.4 L1222.6,918.4 L1223.4,918.4 L1224.2,918.4 L1225.1,918.5 L1225.9,918.5 L1226.7,918.5 L1227.6,918.5 L1228.4,918.6 L1229.2,918.6 L1230,918.6 L1230.9,918.6 L1231.7,918.7 L1232.5,918.7 L1233.4,918.7 L1234.2,918.8 L1235,918.8 L1235.8,918.9 L1236.7,918.9 L1237.5,918.9 L1238.3,919 L1239.1,919 L1240,919 L1240.8,919.1 L1241.6,919.1 L1242.5,919.2 L1243.3,919.2 L1244.1,919.3 L1244.9,919.3 L1245.8,919.4 L1246.6,919.4 L1247.4,919.5 L1248.3,919.5 L1249.1,919.6 L1249.9,919.6 L1250.7,919.7 L1251.6,919.8 L1252.4,919.8 L1253.2,919.9 L1254,920 L1254.9,920 L1255.7,920.1 L1256.5,920.2 L1257.4,920.2 L1258.2,920.3 L1259,920.4 L1259.8,920.5 L1260.7,920.5 L1261.5,920.6 L1262.3,920.7 L1263.2,920.8 L1264,920.9 L1264.8,921 L1265.6,921.1 L1266.5,921.1 L1267.3,921.2 L1268.1,921.3 L1268.9,921.4 L1269.8,921.5 L1270.6,921.6 L1271.4,921.7 L1272.3,921.9 L1273.1,922 L1273.9,922.1 L1274.7,922.2 L1275.6,922.3 L1276.4,922.4 L1277.2,922.5 L1278.1,922.7 L1278.9,922.8 L1279.7,922.9 L1280.5,923.1 L1281.4,923.2 L1282.2,923.3 L1283,923.5 L1283.8,923.6 L1284.7,923.7 L1285.5,923.9 L1286.3,924 L1287.2,924.2 L1288,924.4 L1288.8,924.5 L1289.6,924.7 L1290.5,924.8 L1291.3,925 L1292.1,925.2 L1293,925.3 L1293.8,925.5 L1294.6,925.7 L1295.4,925.9 L1296.3,926.1 L1297.1,926.3 L1297.9,926.5 L1298.7,926.7 L1299.6,926.9 L1300.4,927.1 L1301.2,927.3 L1302.1,927.5 L1302.9,927.8 L1303.7,928 L1304.5,928.2 L1305.4,928.5 L1306.2,928.8 L1307,929 L1307.9,929.3 L1308.7,929.6 L1309.5,929.9 L1310.3,930.2 L1311.2,930.5 L1312,930.8 L1312.8,931.1 L1313.6,931.5 L1314.5,931.8 L1315.3,932.2 L1316.1,932.5 L1317,932.9 L1317.8,933.3 L1318.6,933.7 L1319.4,934.1 L1320.3,934.5 L1321.1,935 L1321.9,935.4 L1322.8,935.9 L1323.6,936.4 L1324.4,936.8 L1325.2,937.3 L1326.1,937.9 L1326.9,938.4 L1327.7,938.9 L1328.5,939.5 L1329.4,940 L1330.2,940.6 L1331,941.2 L1331.9,941.8 L1332.7,942.4 L1333.5,943.1 L1334.3,943.7 L1335.2,944.4 L1336,945.1 L1336.8,945.8 L1337.7,946.5 L1338.5,947.3 L1339.3,948 L1340.1,948.8 L1341,949.6 L1341.8,950.3 L1342.6,951.1 L1343.4,952 L1344.3,952.8 L1345.1,953.6 L1345.9,954.5 L1346.8,955.4 L1347.6,956.2 L1348.4,957.1 L1349.2,958 L1350.1,958.9 L1350.9,959.9 L1351.7,960.8 L1352.6,961.7 L1353.4,962.7 L1354.2,963.7 L1355,964.6 L1355.9,965.6 L1356.7,966.6 L1357.5,967.6 L1358.3,968.6 L1359.2,969.6 L1360,970.6 L1360.8,971.6 L1361.7,972.7 L1362.5,973.7 L1363.3,974.7 L1364.1,975.8 L1365,976.8 L1365.8,977.9 L1366.6,978.9 L1367.5,980 L1368.3,981.1 L1369.1,982.1 L1369.9,983.2 L1370.8,984.3 L1371.6,985.4 L1372.4,986.4 L1373.2,987.5 L1374.1,988.6 L1374.9,989.7 L1375.7,990.8 L1376.6,991.8 L1377.4,992.9 L1378.2,994 L1379,995.1 L1379.9,996.2 L1380.7,997.3 L1381.5,998.3 L1382.4,999.4 L1383.2,1000.5 L1384,1001.6 L1384.8,1002.6 L1385.7,1003.7 L1386.5,1004.8 L1387.3,1005.8 L1388.1,1006.9 L1389,1007.9 L1389.8,1009 L1390.6,1010 L1391.5,1011.1 L1392.3,1012.1 L1393.1,1013.1 L1393.9,1014.2 L1394.8,1015.2 L1395.6,1016.2 L1396.4,1017.2 L1397.3,1018.2 L1398.1,1019.2 L1398.9,1020.1 L1399.7,1021.1 L1400.6,1022.1 L1401.4,1023 L1402.2,1024 L1403,1024.9 L1403.9,1025.8 L1404.7,1026.7 L1405.5,1027.6 L1406.4,1028.5 L1407.2,1029.4 L1408,1030.2 L1408.8,1031.1 L1409.7,1031.9 L1410.5,1032.8 L1411.3,1033.6 L1412.2,1034.4 L1413,1035.2 L1413.8,1036 L1414.6,1036.7 L1415.5,1037.5 L1416.3,1038.2 L1417.1,1038.9 L1417.9,1039.6 L1418.8,1040.3 L1419.6,1041 L1420.4,1041.6 L1421.3,1042.3 L1422.1,1042.9 L1422.9,1043.5 L1423.7,1044.1 L1424.6,1044.7 L1425.4,1045.2 L1426.2,1045.7 L1427.1,1046.2 L1427.9,1046.7 L1428.7,1047.2 L1429.5,1047.7 L1430.4,1048.1 L1431.2,1048.5 L1432,1048.9 L1432.8,1049.3 L1433.7,1049.6 L1434.5,1050" fill="none" stroke="#000000" stroke-width="1.3" stroke-linejoin="round" stroke-linecap="round" />
<path d="M1187,917.5 L1187.8,917.6 L1188.7,917.7 L1189.5,917.8 L1190.3,917.9 L1191.1,917.9 L1192,918 L1192.8,918.1 L1193.6,918.2 L1194.4,918.2 L1195.3,918.3 L1196.1,918.4 L1196.9,918.4 L1197.8,918.5 L1198.6,918.5 L1199.4,918.6 L1200.2,918.6 L1201.1,918.7 L1201.9,918.7 L1202.7,918.8 L1203.6,918.8 L1204.4,918.8 L1205.2,918.9 L1206,918.9 L1206.9,918.9 L1207.7,919 L1208.5,919 L1209.3,919 L1210.2,919.1 L1211,919.1 L1211.8,919.1 L1212.7,919.1 L1213.5,919.1 L1214.3,919.2 L1215.1,919.2 L1216,919.2 L1216.8,919.2 L1217.6,919.2 L1218.5,919.2 L1219.3,919.3 L1220.1,919.3 L1220.9,919.3 L1221.8,919.3 L1222.6,919.3 L1223.4,919.3 L1224.2,919.3 L1225.1,919.3 L1225.9,919.4 L1226.7,919.4 L1227.6,919.4 L1228.4,919.4 L1229.2,919.4 L1230,919.4 L1230.9,919.4 L1231.7,919.4 L1232.5,919.5 L1233.4,919.5 L1234.2,919.5 L1235,919.5 L1235.8,919.5 L1236.7,919.6 L1237.5,919.6 L1238.3,919.6 L1239.1,919.6 L1240,919.6 L1240.8,919.7 L1241.6,919.7 L1242.5,919.7 L1243.3,919.8 L1244.1,919.8 L1244.9,919.8 L1245.8,919.9 L1246.6,919.9 L1247.4,920 L1248.3,920 L1249.1,920 L1249.9,920.1 L1250.7,920.1 L1251.6,920.2 L1252.4,920.3 L1253.2,920.3 L1254,920.4 L1254.9,920.4 L1255.7,920.5 L1256.5,920.6 L1257.4,920.7 L1258.2,920.7 L1259,920.8 L1259.8,920.9 L1260.7,921 L1261.5,921.1 L1262.3,921.2 L1263.2,921.3 L1264,921.4 L1264.8,921.5 L1265.6,921.6 L1266.5,921.7 L1267.3,921.8 L1268.1,922 L1268.9,922.1 L1269.8,922.2 L1270.6,922.4 L1271.4,922.5 L1272.3,922.7 L1273.1,922.8 L1273.9,923 L1274.7,923.1 L1275.6,923.3 L1276.4,923.5 L1277.2,923.6 L1278.1,923.8 L1278.9,924 L1279.7,924.2 L1280.5,924.4 L1281.4,924.6 L1282.2,924.8 L1283,925 L1283.8,925.3 L1284.7,925.5 L1285.5,925.7 L1286.3,926 L1287.2,926.2 L1288,926.5 L1288.8,926.7 L1289.6,927 L1290.5,927.3 L1291.3,927.5 L1292.1,927.8 L1293,928.1 L1293.8,928.4 L1294.6,928.7 L1295.4,929 L1296.3,929.4 L1297.1,929.7 L1297.9,930 L1298.7,930.4 L1299.6,930.7 L1300.4,931.1 L1301.2,931.5 L1302.1,931.8 L1302.9,932.2 L1303.7,932.6 L1304.5,933 L1305.4,933.4 L1306.2,933.9 L1307,934.3 L1307.9,934.7 L1308.7,935.2 L1309.5,935.6 L1310.3,936.1 L1311.2,936.6 L1312,937.1 L1312.8,937.6 L1313.6,938.1 L1314.5,938.6 L1315.3,939.2 L1316.1,939.7 L1317,940.3 L1317.8,940.8 L1318.6,941.4 L1319.4,942 L1320.3,942.6 L1321.1,943.2 L1321.9,943.9 L1322.8,944.5 L1323.6,945.2 L1324.4,945.8 L1325.2,946.5 L1326.1,947.2 L1326.9,947.9 L1327.7,948.6 L1328.5,949.3 L1329.4,950.1 L1330.2,950.8 L1331,951.6 L1331.9,952.4 L1332.7,953.2 L1333.5,954 L1334.3,954.8 L1335.2,955.7 L1336,956.5 L1336.8,957.4 L1337.7,958.3 L1338.5,959.2 L1339.3,960.1 L1340.1,961 L1341,961.9 L1341.8,962.9 L1342.6,963.8 L1343.4,964.8 L1344.3,965.8 L1345.1,966.7 L1345.9,967.7 L1346.8,968.7 L1347.6,969.8 L1348.4,970.8 L1349.2,971.8 L1350.1,972.8 L1350.9,973.9 L1351.7,974.9 L1352.6,976 L1353.4,977.1 L1354.2,978.1 L1355,979.2 L1355.9,980.3 L1356.7,981.4 L1357.5,982.5 L1358.3,983.6 L1359.2,984.7 L1360,985.7 L1360.8,986.9 L1361.7,988 L1362.5,989.1 L1363.3,990.2 L1364.1,991.3 L1365,992.4 L1365.8,993.5 L1366.6,994.6 L1367.5,995.7 L1368.3,996.8 L1369.1,997.9 L1369.9,999 L1370.8,1000.1 L1371.6,1001.2 L1372.4,1002.3 L1373.2,1003.4 L1374.1,1004.5 L1374.9,1005.6 L1375.7,1006.7 L1376.6,1007.7 L1377.4,1008.8 L1378.2,1009.9 L1379,1010.9 L1379.9,1012 L1380.7,1013 L1381.5,1014.1 L1382.4,1015.1 L1383.2,1016.1 L1384,1017.1 L1384.8,1018.1 L1385.7,1019.1 L1386.5,1020.1 L1387.3,1021.1 L1388.1,1022 L1389,1023 L1389.8,1023.9 L1390.6,1024.9 L1391.5,1025.8 L1392.3,1026.7 L1393.1,1027.6 L1393.9,1028.5 L1394.8,1029.3 L1395.6,1030.2 L1396.4,1031 L1397.3,1031.9 L1398.1,1032.7 L1398.9,1033.5 L1399.7,1034.3 L1400.6,1035 L1401.4,1035.8 L1402.2,1036.5 L1403,1037.3 L1403.9,1038 L1404.7,1038.7 L1405.5,1039.4 L1406.4,1040.1 L1407.2,1040.8 L1408,1041.4 L1408.8,1042.1 L1409.7,1042.7 L1410.5,1043.4 L1411.3,1044 L1412.2,1044.6 L1413,1045.2 L1413.8,1045.8 L1414.6,1046.4 L1415.5,1047 L1416.3,1047.5 L1417.1,1048.1 L1417.9,1048.6 L1418.8,1049.2 L1419.6,1049.7 L1420.4,1050.2 L1421.3,1050.7 L1422.1,1051.3 L1422.9,1051.8 L1423.7,1052.2 L1424.6,1052.7 L1425.4,1053.2 L1426.2,1053.7 L1427.1,1054.2 L1427.9,1054.6 L1428.7,1055.1 L1429.5,1055.5 L1430.4,1056 L1431.2,1056.4 L1432,1056.8 L1432.8,1057.2 L1433.7,1057.7 L1434.5,1058.1" fill="none" stroke="#0000ff" stroke-width="1.3" stroke-linejoin="round" stroke-linecap="round" />
<path d="M1187,924.9 L1187.8,925 L1188.6,925.1 L1189.3,925.2 L1190.1,925.3 L1190.9,925.4 L1191.7,925.5 L1192.5,925.6 L1193.2,925.6 L1194,925.7 L1194.8,925.8 L1195.6,925.8 L1196.3,925.9 L1197.1,925.9 L1197.9,926 L1198.7,926.1 L1199.5,926.1 L1200.2,926.1 L1201,926.2 L1201.8,926.2 L1202.6,926.3 L1203.4,926.3 L1204.1,926.3 L1204.9,926.3 L1205.7,926.4 L1206.5,926.4 L1207.2,926.4 L1208,926.4 L1208.8,926.4 L1209.6,926.4 L1210.4,926.5 L1211.1,926.5 L1211.9,926.5 L1212.7,926.5 L1213.5,926.5 L1214.3,926.5 L1215,926.5 L1215.8,926.5 L1216.6,926.5 L1217.4,926.5 L1218.1,926.5 L1218.9,926.5 L1219.7,926.5 L1220.5,926.5 L1221.3,926.5 L1222,926.5 L1222.8,926.5 L1223.6,926.5 L1224.4,926.5 L1225.2,926.5 L1225.9,926.5 L1226.7,926.5 L1227.5,926.5 L1228.3,926.5 L1229,926.5 L1229.8,926.5 L1230.6,926.5 L1231.4,926.5 L1232.2,926.5 L1232.9,926.5 L1233.7,926.5 L1234.5,926.5 L1235.3,926.5 L1236.1,926.5 L1236.8,926.5 L1237.6,926.5 L1238.4,926.5 L1239.2,926.5 L1239.9,926.5 L1240.7,926.6 L1241.5,926.6 L1242.3,926.6 L1243.1,926.6 L1243.8,926.7 L1244.6,926.7 L1245.4,926.7 L1246.2,926.8 L1247,926.8 L1247.7,926.8 L1248.5,926.9 L1249.3,926.9 L1250.1,927 L1250.8,927 L1251.6,927.1 L1252.4,927.2 L1253.2,927.2 L1254,927.3 L1254.7,927.4 L1255.5,927.4 L1256.3,927.5 L1257.1,927.6 L1257.9,927.7 L1258.6,927.8 L1259.4,927.9 L1260.2,928 L1261,928.1 L1261.7,928.2 L1262.5,928.3 L1263.3,928.4 L1264.1,928.6 L1264.9,928.7 L1265.6,928.8 L1266.4,929 L1267.2,929.1 L1268,929.3 L1268.8,929.4 L1269.5,929.6 L1270.3,929.8 L1271.1,929.9 L1271.9,930.1 L1272.6,930.3 L1273.4,930.5 L1274.2,930.7 L1275,930.9 L1275.8,931.1 L1276.5,931.3 L1277.3,931.6 L1278.1,931.8 L1278.9,932 L1279.7,932.3 L1280.4,932.5 L1281.2,932.8 L1282,933.1 L1282.8,933.3 L1283.5,933.6 L1284.3,933.9 L1285.1,934.2 L1285.9,934.5 L1286.7,934.8 L1287.4,935.2 L1288.2,935.5 L1289,935.8 L1289.8,936.2 L1290.6,936.5 L1291.3,936.9 L1292.1,937.3 L1292.9,937.6 L1293.7,938 L1294.4,938.4 L1295.2,938.8 L1296,939.3 L1296.8,939.7 L1297.6,940.1 L1298.3,940.6 L1299.1,941 L1299.9,941.5 L1300.7,941.9 L1301.5,942.4 L1302.2,942.9 L1303,943.4 L1303.8,943.9 L1304.6,944.5 L1305.3,945 L1306.1,945.5 L1306.9,946.1 L1307.7,946.7 L1308.5,947.2 L1309.2,947.8 L1310,948.4 L1310.8,949 L1311.6,949.7 L1312.4,950.3 L1313.1,950.9 L1313.9,951.6 L1314.7,952.3 L1315.5,952.9 L1316.2,953.6 L1317,954.3 L1317.8,955.1 L1318.6,955.8 L1319.4,956.5 L1320.1,957.3 L1320.9,958.1 L1321.7,958.8 L1322.5,959.6 L1323.3,960.4 L1324,961.2 L1324.8,962.1 L1325.6,962.9 L1326.4,963.7 L1327.1,964.6 L1327.9,965.5 L1328.7,966.3 L1329.5,967.2 L1330.3,968.1 L1331,969 L1331.8,969.9 L1332.6,970.8 L1333.4,971.8 L1334.2,972.7 L1334.9,973.6 L1335.7,974.6 L1336.5,975.5 L1337.3,976.5 L1338,977.4 L1338.8,978.4 L1339.6,979.4 L1340.4,980.4 L1341.2,981.3 L1341.9,982.3 L1342.7,983.3 L1343.5,984.3 L1344.3,985.3 L1345.1,986.3 L1345.8,987.3 L1346.6,988.3 L1347.4,989.3 L1348.2,990.3 L1348.9,991.3 L1349.7,992.3 L1350.5,993.3 L1351.3,994.4 L1352.1,995.4 L1352.8,996.4 L1353.6,997.4 L1354.4,998.4 L1355.2,999.4 L1356,1000.4 L1356.7,1001.4 L1357.5,1002.4 L1358.3,1003.4 L1359.1,1004.4 L1359.8,1005.4 L1360.6,1006.4 L1361.4,1007.4 L1362.2,1008.4 L1363,1009.4 L1363.7,1010.3 L1364.5,1011.3 L1365.3,1012.3 L1366.1,1013.3 L1366.9,1014.2 L1367.6,1015.2 L1368.4,1016.1 L1369.2,1017.1 L1370,1018 L1370.7,1018.9 L1371.5,1019.8 L1372.3,1020.8 L1373.1,1021.7 L1373.9,1022.6 L1374.6,1023.4 L1375.4,1024.3 L1376.2,1025.2 L1377,1026.1 L1377.8,1026.9 L1378.5,1027.8 L1379.3,1028.6 L1380.1,1029.4 L1380.9,1030.2 L1381.6,1031 L1382.4,1031.8 L1383.2,1032.6 L1384,1033.4 L1384.8,1034.1 L1385.5,1034.9 L1386.3,1035.6 L1387.1,1036.4 L1387.9,1037.1 L1388.7,1037.8 L1389.4,1038.5 L1390.2,1039.2 L1391,1039.9 L1391.8,1040.5 L1392.5,1041.2 L1393.3,1041.9 L1394.1,1042.5 L1394.9,1043.1 L1395.7,1043.8 L1396.4,1044.4 L1397.2,1045 L1398,1045.6 L1398.8,1046.2 L1399.6,1046.8 L1400.3,1047.4 L1401.1,1047.9 L1401.9,1048.5 L1402.7,1049 L1403.4,1049.6 L1404.2,1050.1 L1405,1050.6 L1405.8,1051.2 L1406.6,1051.7 L1407.3,1052.2 L1408.1,1052.7 L1408.9,1053.2 L1409.7,1053.7 L1410.5,1054.1 L1411.2,1054.6 L1412,1055.1 L1412.8,1055.5 L1413.6,1056 L1414.3,1056.4 L1415.1,1056.9 L1415.9,1057.3 L1416.7,1057.7 L1417.5,1058.1 L1418.2,1058.5 L1419,1058.9 L1419.8,1059.3" fill="none" stroke="#007f00" stroke-width="1.3" stroke-linejoin="round" stroke-linecap="round" />
<rect x="1187" y="859" width="248" height="201.4" fill="none" stroke="#111" stroke-width="1.8" />
<line x1="1195" y1="1060.4" x2="1195" y2="1064.5" stroke="#000" stroke-width="1.3" />
<text x="1195" y="1079" font-size="14.3" text-anchor="middle" textLength="24" lengthAdjust="spacingAndGlyphs">720</text>
<line x1="1214.5" y1="1060.4" x2="1214.5" y2="1062.5" stroke="#000" stroke-width="1.2" />
<line x1="1234" y1="1060.4" x2="1234" y2="1064.5" stroke="#000" stroke-width="1.3" />
<text x="1234" y="1079" font-size="14.3" text-anchor="middle" textLength="24" lengthAdjust="spacingAndGlyphs">730</text>
<line x1="1253.5" y1="1060.4" x2="1253.5" y2="1062.5" stroke="#000" stroke-width="1.2" />
<line x1="1273" y1="1060.4" x2="1273" y2="1064.5" stroke="#000" stroke-width="1.3" />
<text x="1273" y="1079" font-size="14.3" text-anchor="middle" textLength="24" lengthAdjust="spacingAndGlyphs">740</text>
<line x1="1292.5" y1="1060.4" x2="1292.5" y2="1062.5" stroke="#000" stroke-width="1.2" />
<line x1="1312" y1="1060.4" x2="1312" y2="1064.5" stroke="#000" stroke-width="1.3" />
<text x="1312" y="1079" font-size="14.3" text-anchor="middle" textLength="24" lengthAdjust="spacingAndGlyphs">750</text>
<line x1="1331.5" y1="1060.4" x2="1331.5" y2="1062.5" stroke="#000" stroke-width="1.2" />
<line x1="1351" y1="1060.4" x2="1351" y2="1064.5" stroke="#000" stroke-width="1.3" />
<text x="1351" y="1079" font-size="14.3" text-anchor="middle" textLength="24" lengthAdjust="spacingAndGlyphs">760</text>
<line x1="1370.5" y1="1060.4" x2="1370.5" y2="1062.5" stroke="#000" stroke-width="1.2" />
<line x1="1390" y1="1060.4" x2="1390" y2="1064.5" stroke="#000" stroke-width="1.3" />
<text x="1390" y="1079" font-size="14.3" text-anchor="middle" textLength="24" lengthAdjust="spacingAndGlyphs">770</text>
<line x1="1409.5" y1="1060.4" x2="1409.5" y2="1062.5" stroke="#000" stroke-width="1.2" />
<line x1="1429" y1="1060.4" x2="1429" y2="1064.5" stroke="#000" stroke-width="1.3" />
<text x="1429" y="1079" font-size="14.3" text-anchor="middle" textLength="24" lengthAdjust="spacingAndGlyphs">780</text>
<text x="1242" y="1098" font-size="17.5" textLength="138" lengthAdjust="spacingAndGlyphs">Wavelength (nm)</text>
<text x="0" y="0" transform="translate(1172.3,1021) rotate(-90)" font-size="17.5" textLength="134" lengthAdjust="spacingAndGlyphs">Absorbace (a.u.)</text>
<line x1="1291" y1="869.4" x2="1326" y2="869.4" stroke="#000000" stroke-width="1.3" />
<line x1="1291" y1="891.4" x2="1326" y2="891.4" stroke="#0000ff" stroke-width="1.3" />
<line x1="1291" y1="914" x2="1326" y2="914" stroke="#007f00" stroke-width="1.3" />
<text x="1331" y="874.6" font-size="14.8">MAPbI<tspan font-size="10" dy="4">3</tspan><tspan dy="-4">:Day-1</tspan></text>
<text x="1331" y="896.6" font-size="14.8">MAPbI<tspan font-size="10" dy="4">3</tspan><tspan dy="-4">:Day-2</tspan></text>
<text x="1331" y="919.2" font-size="14.8">MAPbI<tspan font-size="10" dy="4">3</tspan><tspan dy="-4">:Day-3</tspan></text>
<path d="M1342.5,938.9 L1323.5,979.8 L1318.8,977.6 L1319.5,994.5 L1332.8,984.2 L1328.1,981.9 L1347.1,941.1Z" fill="#0070c0"/>
<rect x="1310.6" y="1136.5" width="89.4" height="78.1" fill="none" stroke="#3404c0" stroke-width="2" stroke-dasharray="5.2 1.7"/>
<line x1="1300" y1="1143.3" x2="1207" y2="1097.5" stroke="#3404c0" stroke-width="1.3" stroke-dasharray="3.5 1.5"/>
<path d="M1200,1093.3 L1212,1094 L1207.7,1102.5Z" fill="#3404c0"/>
<line x1="1405.5" y1="1147.4" x2="1419.5" y2="1102.5" stroke="#3404c0" stroke-width="1.3" stroke-dasharray="3.5 1.5"/>
<path d="M1422.5,1092.5 L1423.8,1104.4 L1414.7,1101.6Z" fill="#3404c0"/>
<text x="40" y="1405.2" font-size="45.5">c</text>
<path d="M174.9,1910.5 L176,1910.5 L177,1910.5 L178,1910.5 L179,1910.5 L180.1,1910.5 L181.1,1910.5 L182.1,1910.5 L183.1,1910.5 L184.2,1910.5 L185.2,1910.5 L186.2,1910.5 L187.3,1910.5 L188.3,1910.5 L189.3,1910.5 L190.3,1910.5 L191.4,1910.5 L192.4,1910.5 L193.4,1910.5 L194.5,1910.5 L195.5,1910.5 L196.5,1910.5 L197.5,1910.5 L198.6,1910.5 L199.6,1910.5 L200.6,1910.5 L201.6,1910.5 L202.7,1910.5 L203.7,1910.5 L204.7,1910.5 L205.8,1910.5 L206.8,1910.5 L207.8,1910.5 L208.8,1910.5 L209.9,1910.5 L210.9,1910.5 L211.9,1910.5 L213,1910.5 L214,1910.5 L215,1910.5 L216,1910.5 L217.1,1910.5 L218.1,1910.5 L219.1,1910.5 L220.1,1910.5 L221.2,1910.5 L222.2,1910.5 L223.2,1910.5 L224.3,1910.5 L225.3,1910.5 L226.3,1910.5 L227.3,1910.5 L228.4,1910.5 L229.4,1910.5 L230.4,1910.5 L231.5,1910.5 L232.5,1910.5 L233.5,1910.5 L234.5,1910.5 L235.6,1910.5 L236.6,1910.5 L237.6,1910.5 L238.6,1910.5 L239.7,1910.5 L240.7,1910.5 L241.7,1910.5 L242.8,1910.5 L243.8,1910.5 L244.8,1910.5 L245.8,1910.5 L246.9,1910.5 L247.9,1910.5 L248.9,1910.5 L250,1910.5 L251,1910.5 L252,1910.5 L253,1910.5 L254.1,1910.5 L255.1,1910.5 L256.1,1910.5 L257.1,1910.5 L258.2,1910.5 L259.2,1910.5 L260.2,1910.5 L261.3,1910.5 L262.3,1910.5 L263.3,1910.5 L264.3,1910.5 L265.4,1910.5 L266.4,1910.5 L267.4,1910.5 L268.5,1910.5 L269.5,1910.5 L270.5,1910.5 L271.5,1910.5 L272.6,1910.5 L273.6,1910.5 L274.6,1910.5 L275.6,1910.5 L276.7,1910.5 L277.7,1910.5 L278.7,1910.5 L279.8,1910.5 L280.8,1910.5 L281.8,1910.5 L282.8,1910.5 L283.9,1910.5 L284.9,1910.5 L285.9,1910.5 L287,1910.5 L288,1910.5 L289,1910.5 L290,1910.5 L291.1,1910.5 L292.1,1910.5 L293.1,1910.5 L294.2,1910.5 L295.2,1910.5 L296.2,1910.5 L297.2,1910.5 L298.3,1910.5 L299.3,1910.5 L300.3,1910.5 L301.3,1910.5 L302.4,1910.5 L303.4,1910.5 L304.4,1910.5 L305.5,1910.5 L306.5,1910.5 L307.5,1910.5 L308.5,1910.5 L309.6,1910.5 L310.6,1910.5 L311.6,1910.5 L312.7,1910.5 L313.7,1910.5 L314.7,1910.5 L315.7,1910.5 L316.8,1910.5 L317.8,1910.5 L318.8,1910.5 L319.8,1910.5 L320.9,1910.5 L321.9,1910.5 L322.9,1910.5 L324,1910.5 L325,1910.5 L326,1910.5 L327,1910.5 L328.1,1910.5 L329.1,1910.5 L330.1,1910.5 L331.2,1910.5 L332.2,1910.5 L333.2,1910.5 L334.2,1910.5 L335.3,1910.4 L336.3,1910.4 L337.3,1910.4 L338.3,1910.4 L339.4,1910.4 L340.4,1910.4 L341.4,1910.4 L342.5,1910.4 L343.5,1910.4 L344.5,1910.4 L345.5,1910.4 L346.6,1910.4 L347.6,1910.4 L348.6,1910.4 L349.7,1910.4 L350.7,1910.4 L351.7,1910.4 L352.7,1910.4 L353.8,1910.3 L354.8,1910.3 L355.8,1910.3 L356.8,1910.3 L357.9,1910.3 L358.9,1910.3 L359.9,1910.3 L361,1910.3 L362,1910.3 L363,1910.3 L364,1910.3 L365.1,1910.3 L366.1,1910.2 L367.1,1910.2 L368.2,1910.2 L369.2,1910.2 L370.2,1910.2 L371.2,1910.2 L372.3,1910.2 L373.3,1910.2 L374.3,1910.1 L375.3,1910.1 L376.4,1910.1 L377.4,1910.1 L378.4,1910.1 L379.5,1910.1 L380.5,1910.1 L381.5,1910 L382.5,1910 L383.6,1910 L384.6,1910 L385.6,1910 L386.7,1909.9 L387.7,1909.9 L388.7,1909.9 L389.7,1909.9 L390.8,1909.9 L391.8,1909.8 L392.8,1909.8 L393.8,1909.8 L394.9,1909.7 L395.9,1909.7 L396.9,1909.7 L398,1909.7 L399,1909.6 L400,1909.6 L401,1909.6 L402.1,1909.5 L403.1,1909.5 L404.1,1909.4 L405.2,1909.4 L406.2,1909.4 L407.2,1909.3 L408.2,1909.3 L409.3,1909.2 L410.3,1909.2 L411.3,1909.1 L412.3,1909.1 L413.4,1909 L414.4,1908.9 L415.4,1908.9 L416.5,1908.8 L417.5,1908.8 L418.5,1908.7 L419.5,1908.6 L420.6,1908.5 L421.6,1908.5 L422.6,1908.4 L423.7,1908.3 L424.7,1908.2 L425.7,1908.1 L426.7,1908 L427.8,1907.9 L428.8,1907.8 L429.8,1907.7 L430.8,1907.6 L431.9,1907.4 L432.9,1907.3 L433.9,1907.2 L435,1907.1 L436,1906.9 L437,1906.8 L438,1906.6 L439.1,1906.4 L440.1,1906.3 L441.1,1906.1 L442.2,1905.9 L443.2,1905.7 L444.2,1905.5 L445.2,1905.3 L446.3,1905 L447.3,1904.8 L448.3,1904.6 L449.3,1904.3 L450.4,1904 L451.4,1903.7 L452.4,1903.4 L453.5,1903.1 L454.5,1902.8 L455.5,1902.4 L456.5,1902.1 L457.6,1901.7 L458.6,1901.3 L459.6,1900.9 L460.7,1900.4 L461.7,1900 L462.7,1899.5 L463.7,1899 L464.8,1898.4 L465.8,1897.9 L466.8,1897.3 L467.8,1896.7 L468.9,1896 L469.9,1895.3 L470.9,1894.6 L472,1893.9 L473,1893.1 L474,1892.2 L475,1891.4 L476.1,1890.5 L477.1,1889.5 L478.1,1888.5 L479.2,1887.4 L480.2,1886.3 L481.2,1885.1 L482.2,1883.9 L483.3,1882.6 L484.3,1881.2 L485.3,1879.8 L486.4,1878.3 L487.4,1876.7 L488.4,1875 L489.4,1873.3 L490.5,1871.5 L491.5,1869.5 L492.5,1867.5 L493.5,1865.4 L494.6,1863.2 L495.6,1860.8 L496.6,1858.4 L497.7,1855.8 L498.7,1853.1 L499.7,1850.3 L500.7,1847.4 L501.8,1844.3 L502.8,1841 L503.8,1837.6 L504.9,1834.1 L505.9,1830.4 L506.9,1826.5 L507.9,1822.5 L509,1818.2 L510,1813.8 L511,1809.2 L512,1804.5 L513.1,1799.5 L514.1,1794.3 L515.1,1788.9 L516.2,1783.4 L517.2,1777.6 L518.2,1771.6 L519.2,1765.4 L520.3,1759 L521.3,1752.4 L522.3,1745.6 L523.4,1738.5 L524.4,1731.3 L525.4,1723.9 L526.4,1716.3 L527.5,1708.5 L528.5,1700.6 L529.5,1692.5 L530.5,1684.3 L531.6,1675.9 L532.6,1667.4 L533.6,1658.8 L534.7,1650.2 L535.7,1641.5 L536.7,1632.7 L537.7,1624 L538.8,1615.3 L539.8,1606.6 L540.8,1598 L541.9,1589.5 L542.9,1581.2 L543.9,1573 L544.9,1565.1 L546,1557.4 L547,1549.9 L548,1542.8 L549,1536 L550.1,1529.6 L551.1,1523.6 L552.1,1518 L553.2,1513 L554.2,1508.4 L555.2,1504.3 L556.2,1500.7 L557.3,1497.8 L558.3,1495.4 L559.3,1493.6 L560.4,1492.4 L561.4,1491.8 L562.4,1491.8 L563.4,1492.4 L564.5,1493.7 L565.5,1495.5 L566.5,1497.9 L567.5,1500.9 L568.6,1504.5 L569.6,1508.6 L570.6,1513.2 L571.7,1518.3 L572.7,1523.9 L573.7,1529.9 L574.7,1536.3 L575.8,1543.1 L576.8,1550.2 L577.8,1557.6 L578.9,1565.3 L579.9,1573.3 L580.9,1581.4 L581.9,1589.7 L583,1598.2 L584,1606.8 L585,1615.4 L586,1624.1 L587.1,1632.8 L588.1,1641.6 L589.1,1650.2 L590.2,1658.9 L591.2,1667.4 L592.2,1675.9 L593.2,1684.2 L594.3,1692.5 L595.3,1700.5 L596.3,1708.5 L597.4,1716.2 L598.4,1723.8 L599.4,1731.2 L600.4,1738.4 L601.5,1745.4 L602.5,1752.2 L603.5,1758.8 L604.5,1765.2 L605.6,1771.4 L606.6,1777.4 L607.6,1783.2 L608.7,1788.7 L609.7,1794.1 L610.7,1799.3 L611.7,1804.2 L612.8,1809 L613.8,1813.6 L614.8,1818 L615.9,1822.2 L616.9,1826.3 L617.9,1830.1 L618.9,1833.9 L620,1837.4 L621,1840.8 L622,1844 L623,1847.1 L624.1,1850.1 L625.1,1852.9 L626.1,1855.6 L627.2,1858.2 L628.2,1860.6 L629.2,1863 L630.2,1865.2 L631.3,1867.3 L632.3,1869.4 L633.3,1871.3 L634.4,1873.1 L635.4,1874.9 L636.4,1876.5 L637.4,1878.1 L638.5,1879.6 L639.5,1881.1 L640.5,1882.4 L641.5,1883.7 L642.6,1885 L643.6,1886.2 L644.6,1887.3 L645.7,1888.4 L646.7,1889.4 L647.7,1890.3 L648.7,1891.3 L649.8,1892.1 L650.8,1893 L651.8,1893.8 L652.9,1894.5 L653.9,1895.2 L654.9,1895.9 L655.9,1896.6 L657,1897.2 L658,1897.8 L659,1898.4 L660,1898.9 L661.1,1899.4 L662.1,1899.9 L663.1,1900.4 L664.2,1900.8 L665.2,1901.2 L666.2,1901.6 L667.2,1902 L668.3,1902.4 L669.3,1902.7 L670.3,1903.1 L671.4,1903.4 L672.4,1903.7 L673.4,1904 L674.4,1904.2 L675.5,1904.5 L676.5,1904.8 L677.5,1905 L678.5,1905.2 L679.6,1905.4 L680.6,1905.6 L681.6,1905.8 L682.7,1906 L683.7,1906.2 L684.7,1906.4 L685.7,1906.6 L686.8,1906.7 L687.8,1906.9" fill="none" stroke="#ff0000" stroke-width="3.8" stroke-linejoin="round" stroke-linecap="round" />
<path d="M174.9,1910.5 L176,1910.5 L177,1910.5 L178,1910.5 L179,1910.5 L180.1,1910.5 L181.1,1910.5 L182.1,1910.5 L183.1,1910.5 L184.2,1910.5 L185.2,1910.5 L186.2,1910.5 L187.3,1910.5 L188.3,1910.5 L189.3,1910.5 L190.3,1910.5 L191.4,1910.5 L192.4,1910.5 L193.4,1910.5 L194.5,1910.5 L195.5,1910.5 L196.5,1910.5 L197.5,1910.5 L198.6,1910.5 L199.6,1910.5 L200.6,1910.5 L201.6,1910.5 L202.7,1910.5 L203.7,1910.5 L204.7,1910.5 L205.8,1910.5 L206.8,1910.5 L207.8,1910.5 L208.8,1910.5 L209.9,1910.5 L210.9,1910.5 L211.9,1910.5 L213,1910.5 L214,1910.5 L215,1910.5 L216,1910.5 L217.1,1910.5 L218.1,1910.5 L219.1,1910.5 L220.1,1910.5 L221.2,1910.5 L222.2,1910.5 L223.2,1910.5 L224.3,1910.5 L225.3,1910.5 L226.3,1910.5 L227.3,1910.5 L228.4,1910.5 L229.4,1910.5 L230.4,1910.5 L231.5,1910.5 L232.5,1910.5 L233.5,1910.5 L234.5,1910.5 L235.6,1910.5 L236.6,1910.5 L237.6,1910.5 L238.6,1910.5 L239.7,1910.5 L240.7,1910.5 L241.7,1910.5 L242.8,1910.5 L243.8,1910.5 L244.8,1910.5 L245.8,1910.5 L246.9,1910.5 L247.9,1910.5 L248.9,1910.5 L250,1910.5 L251,1910.5 L252,1910.5 L253,1910.5 L254.1,1910.5 L255.1,1910.5 L256.1,1910.5 L257.1,1910.5 L258.2,1910.5 L259.2,1910.5 L260.2,1910.5 L261.3,1910.5 L262.3,1910.5 L263.3,1910.5 L264.3,1910.5 L265.4,1910.5 L266.4,1910.5 L267.4,1910.5 L268.5,1910.5 L269.5,1910.5 L270.5,1910.5 L271.5,1910.5 L272.6,1910.5 L273.6,1910.5 L274.6,1910.5 L275.6,1910.5 L276.7,1910.5 L277.7,1910.5 L278.7,1910.5 L279.8,1910.5 L280.8,1910.5 L281.8,1910.5 L282.8,1910.5 L283.9,1910.5 L284.9,1910.5 L285.9,1910.5 L287,1910.5 L288,1910.5 L289,1910.5 L290,1910.5 L291.1,1910.5 L292.1,1910.5 L293.1,1910.5 L294.2,1910.5 L295.2,1910.5 L296.2,1910.5 L297.2,1910.4 L298.3,1910.4 L299.3,1910.4 L300.3,1910.4 L301.3,1910.4 L302.4,1910.4 L303.4,1910.4 L304.4,1910.4 L305.5,1910.4 L306.5,1910.4 L307.5,1910.4 L308.5,1910.4 L309.6,1910.4 L310.6,1910.4 L311.6,1910.4 L312.7,1910.4 L313.7,1910.4 L314.7,1910.4 L315.7,1910.4 L316.8,1910.4 L317.8,1910.4 L318.8,1910.4 L319.8,1910.4 L320.9,1910.4 L321.9,1910.4 L322.9,1910.4 L324,1910.4 L325,1910.4 L326,1910.4 L327,1910.4 L328.1,1910.4 L329.1,1910.3 L330.1,1910.3 L331.2,1910.3 L332.2,1910.3 L333.2,1910.3 L334.2,1910.3 L335.3,1910.3 L336.3,1910.3 L337.3,1910.3 L338.3,1910.3 L339.4,1910.3 L340.4,1910.3 L341.4,1910.3 L342.5,1910.3 L343.5,1910.3 L344.5,1910.3 L345.5,1910.3 L346.6,1910.3 L347.6,1910.2 L348.6,1910.2 L349.7,1910.2 L350.7,1910.2 L351.7,1910.2 L352.7,1910.2 L353.8,1910.2 L354.8,1910.2 L355.8,1910.2 L356.8,1910.2 L357.9,1910.2 L358.9,1910.2 L359.9,1910.2 L361,1910.1 L362,1910.1 L363,1910.1 L364,1910.1 L365.1,1910.1 L366.1,1910.1 L367.1,1910.1 L368.2,1910.1 L369.2,1910.1 L370.2,1910.1 L371.2,1910 L372.3,1910 L373.3,1910 L374.3,1910 L375.3,1910 L376.4,1910 L377.4,1910 L378.4,1909.9 L379.5,1909.9 L380.5,1909.9 L381.5,1909.9 L382.5,1909.9 L383.6,1909.9 L384.6,1909.9 L385.6,1909.8 L386.7,1909.8 L387.7,1909.8 L388.7,1909.8 L389.7,1909.8 L390.8,1909.7 L391.8,1909.7 L392.8,1909.7 L393.8,1909.7 L394.9,1909.7 L395.9,1909.6 L396.9,1909.6 L398,1909.6 L399,1909.6 L400,1909.5 L401,1909.5 L402.1,1909.5 L403.1,1909.4 L404.1,1909.4 L405.2,1909.4 L406.2,1909.4 L407.2,1909.3 L408.2,1909.3 L409.3,1909.3 L410.3,1909.2 L411.3,1909.2 L412.3,1909.1 L413.4,1909.1 L414.4,1909.1 L415.4,1909 L416.5,1909 L417.5,1908.9 L418.5,1908.9 L419.5,1908.8 L420.6,1908.8 L421.6,1908.7 L422.6,1908.7 L423.7,1908.6 L424.7,1908.6 L425.7,1908.5 L426.7,1908.5 L427.8,1908.4 L428.8,1908.3 L429.8,1908.3 L430.8,1908.2 L431.9,1908.1 L432.9,1908 L433.9,1908 L435,1907.9 L436,1907.8 L437,1907.7 L438,1907.6 L439.1,1907.5 L440.1,1907.4 L441.1,1907.3 L442.2,1907.2 L443.2,1907.1 L444.2,1907 L445.2,1906.8 L446.3,1906.7 L447.3,1906.6 L448.3,1906.5 L449.3,1906.3 L450.4,1906.2 L451.4,1906 L452.4,1905.9 L453.5,1905.7 L454.5,1905.5 L455.5,1905.3 L456.5,1905.1 L457.6,1904.9 L458.6,1904.7 L459.6,1904.5 L460.7,1904.3 L461.7,1904 L462.7,1903.8 L463.7,1903.5 L464.8,1903.3 L465.8,1903 L466.8,1902.7 L467.8,1902.4 L468.9,1902 L469.9,1901.7 L470.9,1901.3 L472,1901 L473,1900.6 L474,1900.1 L475,1899.7 L476.1,1899.3 L477.1,1898.8 L478.1,1898.3 L479.2,1897.7 L480.2,1897.2 L481.2,1896.6 L482.2,1896 L483.3,1895.3 L484.3,1894.6 L485.3,1893.9 L486.4,1893.1 L487.4,1892.3 L488.4,1891.5 L489.4,1890.6 L490.5,1889.7 L491.5,1888.7 L492.5,1887.6 L493.5,1886.5 L494.6,1885.3 L495.6,1884.1 L496.6,1882.8 L497.7,1881.4 L498.7,1879.9 L499.7,1878.4 L500.7,1876.7 L501.8,1875 L502.8,1873.1 L503.8,1871.2 L504.9,1869.1 L505.9,1866.9 L506.9,1864.6 L507.9,1862.1 L509,1859.5 L510,1856.8 L511,1853.8 L512,1850.7 L513.1,1847.4 L514.1,1844 L515.1,1840.3 L516.2,1836.3 L517.2,1832.2 L518.2,1827.8 L519.2,1823.2 L520.3,1818.3 L521.3,1813.1 L522.3,1807.6 L523.4,1801.8 L524.4,1795.7 L525.4,1789.3 L526.4,1782.5 L527.5,1775.4 L528.5,1767.9 L529.5,1760.1 L530.5,1751.9 L531.6,1743.3 L532.6,1734.4 L533.6,1725.1 L534.7,1715.4 L535.7,1705.5 L536.7,1695.2 L537.7,1684.6 L538.8,1673.7 L539.8,1662.6 L540.8,1651.4 L541.9,1640 L542.9,1628.5 L543.9,1617.1 L544.9,1605.7 L546,1594.4 L547,1583.4 L548,1572.7 L549,1562.5 L550.1,1552.7 L551.1,1543.5 L552.1,1535.1 L553.2,1527.4 L554.2,1520.7 L555.2,1514.9 L556.2,1510.1 L557.3,1506.4 L558.3,1503.9 L559.3,1502.5 L560.4,1502.3 L561.4,1503.1 L562.4,1504.9 L563.4,1507.6 L564.5,1511.2 L565.5,1515.6 L566.5,1520.9 L567.5,1526.9 L568.6,1533.6 L569.6,1541 L570.6,1549 L571.7,1557.5 L572.7,1566.4 L573.7,1575.7 L574.7,1585.3 L575.8,1595.2 L576.8,1605.2 L577.8,1615.4 L578.9,1625.6 L579.9,1635.9 L580.9,1646.1 L581.9,1656.2 L583,1666.2 L584,1676 L585,1685.7 L586,1695.1 L587.1,1704.3 L588.1,1713.3 L589.1,1722 L590.2,1730.4 L591.2,1738.5 L592.2,1746.4 L593.2,1753.9 L594.3,1761.2 L595.3,1768.2 L596.3,1774.8 L597.4,1781.2 L598.4,1787.4 L599.4,1793.2 L600.4,1798.8 L601.5,1804.1 L602.5,1809.2 L603.5,1814 L604.5,1818.6 L605.6,1823 L606.6,1827.2 L607.6,1831.1 L608.7,1834.9 L609.7,1838.5 L610.7,1841.9 L611.7,1845.1 L612.8,1848.1 L613.8,1851.1 L614.8,1853.8 L615.9,1856.4 L616.9,1858.9 L617.9,1861.3 L618.9,1863.5 L620,1865.7 L621,1867.7 L622,1869.6 L623,1871.5 L624.1,1873.2 L625.1,1874.8 L626.1,1876.4 L627.2,1877.9 L628.2,1879.3 L629.2,1880.6 L630.2,1881.9 L631.3,1883.1 L632.3,1884.3 L633.3,1885.4 L634.4,1886.4 L635.4,1887.4 L636.4,1888.4 L637.4,1889.3 L638.5,1890.2 L639.5,1891 L640.5,1891.8 L641.5,1892.5 L642.6,1893.2 L643.6,1893.9 L644.6,1894.6 L645.7,1895.2 L646.7,1895.8 L647.7,1896.3 L648.7,1896.9 L649.8,1897.4 L650.8,1897.9 L651.8,1898.3 L652.9,1898.8 L653.9,1899.2 L654.9,1899.6 L655.9,1900 L657,1900.4 L658,1900.8 L659,1901.1 L660,1901.4 L661.1,1901.8 L662.1,1902.1 L663.1,1902.4 L664.2,1902.6 L665.2,1902.9 L666.2,1903.2 L667.2,1903.4 L668.3,1903.6 L669.3,1903.9 L670.3,1904.1 L671.4,1904.3 L672.4,1904.5 L673.4,1904.7 L674.4,1904.9 L675.5,1905.1 L676.5,1905.2 L677.5,1905.4 L678.5,1905.6 L679.6,1905.7 L680.6,1905.9 L681.6,1906 L682.7,1906.2 L683.7,1906.3 L684.7,1906.4 L685.7,1906.5 L686.8,1906.7 L687.8,1906.8" fill="none" stroke="#ff00ff" stroke-width="3.4" stroke-linejoin="round" stroke-linecap="round" />
<path d="M174.9,1910.5 L176,1910.5 L177,1910.5 L178,1910.5 L179,1910.5 L180.1,1910.5 L181.1,1910.5 L182.1,1910.5 L183.1,1910.5 L184.2,1910.5 L185.2,1910.5 L186.2,1910.5 L187.3,1910.5 L188.3,1910.5 L189.3,1910.5 L190.3,1910.5 L191.4,1910.5 L192.4,1910.5 L193.4,1910.5 L194.5,1910.5 L195.5,1910.5 L196.5,1910.5 L197.5,1910.5 L198.6,1910.5 L199.6,1910.5 L200.6,1910.5 L201.6,1910.5 L202.7,1910.5 L203.7,1910.5 L204.7,1910.5 L205.8,1910.5 L206.8,1910.5 L207.8,1910.5 L208.8,1910.5 L209.9,1910.5 L210.9,1910.5 L211.9,1910.5 L213,1910.5 L214,1910.5 L215,1910.5 L216,1910.5 L217.1,1910.5 L218.1,1910.5 L219.1,1910.5 L220.1,1910.5 L221.2,1910.5 L222.2,1910.5 L223.2,1910.5 L224.3,1910.5 L225.3,1910.5 L226.3,1910.5 L227.3,1910.5 L228.4,1910.5 L229.4,1910.5 L230.4,1910.5 L231.5,1910.5 L232.5,1910.5 L233.5,1910.5 L234.5,1910.5 L235.6,1910.5 L236.6,1910.5 L237.6,1910.5 L238.6,1910.5 L239.7,1910.5 L240.7,1910.5 L241.7,1910.5 L242.8,1910.5 L243.8,1910.5 L244.8,1910.5 L245.8,1910.5 L246.9,1910.5 L247.9,1910.5 L248.9,1910.5 L250,1910.5 L251,1910.5 L252,1910.5 L253,1910.5 L254.1,1910.5 L255.1,1910.5 L256.1,1910.5 L257.1,1910.5 L258.2,1910.5 L259.2,1910.5 L260.2,1910.5 L261.3,1910.5 L262.3,1910.5 L263.3,1910.5 L264.3,1910.5 L265.4,1910.5 L266.4,1910.5 L267.4,1910.5 L268.5,1910.5 L269.5,1910.5 L270.5,1910.5 L271.5,1910.5 L272.6,1910.5 L273.6,1910.5 L274.6,1910.5 L275.6,1910.5 L276.7,1910.5 L277.7,1910.5 L278.7,1910.5 L279.8,1910.5 L280.8,1910.5 L281.8,1910.5 L282.8,1910.5 L283.9,1910.5 L284.9,1910.5 L285.9,1910.5 L287,1910.5 L288,1910.5 L289,1910.5 L290,1910.5 L291.1,1910.5 L292.1,1910.5 L293.1,1910.5 L294.2,1910.5 L295.2,1910.5 L296.2,1910.5 L297.2,1910.5 L298.3,1910.5 L299.3,1910.5 L300.3,1910.5 L301.3,1910.5 L302.4,1910.5 L303.4,1910.5 L304.4,1910.5 L305.5,1910.5 L306.5,1910.5 L307.5,1910.5 L308.5,1910.5 L309.6,1910.5 L310.6,1910.5 L311.6,1910.5 L312.7,1910.5 L313.7,1910.5 L314.7,1910.5 L315.7,1910.5 L316.8,1910.5 L317.8,1910.5 L318.8,1910.5 L319.8,1910.5 L320.9,1910.5 L321.9,1910.5 L322.9,1910.5 L324,1910.5 L325,1910.5 L326,1910.5 L327,1910.5 L328.1,1910.5 L329.1,1910.5 L330.1,1910.5 L331.2,1910.5 L332.2,1910.5 L333.2,1910.5 L334.2,1910.5 L335.3,1910.5 L336.3,1910.5 L337.3,1910.5 L338.3,1910.5 L339.4,1910.5 L340.4,1910.5 L341.4,1910.5 L342.5,1910.5 L343.5,1910.5 L344.5,1910.5 L345.5,1910.5 L346.6,1910.5 L347.6,1910.5 L348.6,1910.5 L349.7,1910.5 L350.7,1910.5 L351.7,1910.5 L352.7,1910.5 L353.8,1910.5 L354.8,1910.5 L355.8,1910.5 L356.8,1910.5 L357.9,1910.5 L358.9,1910.5 L359.9,1910.5 L361,1910.5 L362,1910.5 L363,1910.4 L364,1910.4 L365.1,1910.4 L366.1,1910.4 L367.1,1910.4 L368.2,1910.4 L369.2,1910.4 L370.2,1910.4 L371.2,1910.4 L372.3,1910.4 L373.3,1910.4 L374.3,1910.4 L375.3,1910.4 L376.4,1910.4 L377.4,1910.4 L378.4,1910.4 L379.5,1910.3 L380.5,1910.3 L381.5,1910.3 L382.5,1910.3 L383.6,1910.3 L384.6,1910.3 L385.6,1910.3 L386.7,1910.3 L387.7,1910.3 L388.7,1910.3 L389.7,1910.2 L390.8,1910.2 L391.8,1910.2 L392.8,1910.2 L393.8,1910.2 L394.9,1910.2 L395.9,1910.2 L396.9,1910.2 L398,1910.1 L399,1910.1 L400,1910.1 L401,1910.1 L402.1,1910.1 L403.1,1910.1 L404.1,1910 L405.2,1910 L406.2,1910 L407.2,1910 L408.2,1909.9 L409.3,1909.9 L410.3,1909.9 L411.3,1909.9 L412.3,1909.8 L413.4,1909.8 L414.4,1909.8 L415.4,1909.7 L416.5,1909.7 L417.5,1909.7 L418.5,1909.6 L419.5,1909.6 L420.6,1909.6 L421.6,1909.5 L422.6,1909.5 L423.7,1909.4 L424.7,1909.4 L425.7,1909.3 L426.7,1909.3 L427.8,1909.2 L428.8,1909.2 L429.8,1909.1 L430.8,1909.1 L431.9,1909 L432.9,1908.9 L433.9,1908.8 L435,1908.8 L436,1908.7 L437,1908.6 L438,1908.5 L439.1,1908.4 L440.1,1908.3 L441.1,1908.2 L442.2,1908.1 L443.2,1908 L444.2,1907.9 L445.2,1907.8 L446.3,1907.7 L447.3,1907.5 L448.3,1907.4 L449.3,1907.2 L450.4,1907.1 L451.4,1906.9 L452.4,1906.7 L453.5,1906.6 L454.5,1906.4 L455.5,1906.2 L456.5,1905.9 L457.6,1905.7 L458.6,1905.5 L459.6,1905.2 L460.7,1905 L461.7,1904.7 L462.7,1904.4 L463.7,1904.1 L464.8,1903.7 L465.8,1903.4 L466.8,1903 L467.8,1902.6 L468.9,1902.2 L469.9,1901.8 L470.9,1901.4 L472,1900.9 L473,1900.4 L474,1899.8 L475,1899.3 L476.1,1898.6 L477.1,1898 L478.1,1897.3 L479.2,1896.6 L480.2,1895.9 L481.2,1895.1 L482.2,1894.2 L483.3,1893.3 L484.3,1892.4 L485.3,1891.3 L486.4,1890.3 L487.4,1889.1 L488.4,1887.9 L489.4,1886.7 L490.5,1885.3 L491.5,1883.9 L492.5,1882.4 L493.5,1880.8 L494.6,1879.1 L495.6,1877.3 L496.6,1875.4 L497.7,1873.4 L498.7,1871.2 L499.7,1869 L500.7,1866.6 L501.8,1864 L502.8,1861.4 L503.8,1858.5 L504.9,1855.5 L505.9,1852.4 L506.9,1849 L507.9,1845.5 L509,1841.7 L510,1837.8 L511,1833.7 L512,1829.3 L513.1,1824.7 L514.1,1819.9 L515.1,1814.8 L516.2,1809.4 L517.2,1803.8 L518.2,1798 L519.2,1791.8 L520.3,1785.4 L521.3,1778.7 L522.3,1771.7 L523.4,1764.4 L524.4,1756.9 L525.4,1749 L526.4,1740.9 L527.5,1732.5 L528.5,1723.8 L529.5,1714.9 L530.5,1705.7 L531.6,1696.3 L532.6,1686.7 L533.6,1676.9 L534.7,1667 L535.7,1656.9 L536.7,1646.7 L537.7,1636.5 L538.8,1626.2 L539.8,1616 L540.8,1605.8 L541.9,1595.8 L542.9,1585.9 L543.9,1576.3 L544.9,1566.9 L546,1557.9 L547,1549.2 L548,1541 L549,1533.3 L550.1,1526.1 L551.1,1519.5 L552.1,1513.6 L553.2,1508.4 L554.2,1503.9 L555.2,1500.2 L556.2,1497.3 L557.3,1495.2 L558.3,1493.9 L559.3,1493.5 L560.4,1493.9 L561.4,1495 L562.4,1496.9 L563.4,1499.5 L564.5,1502.8 L565.5,1506.8 L566.5,1511.4 L567.5,1516.6 L568.6,1522.5 L569.6,1528.9 L570.6,1535.8 L571.7,1543.2 L572.7,1551 L573.7,1559.2 L574.7,1567.7 L575.8,1576.5 L576.8,1585.5 L577.8,1594.7 L578.9,1604.1 L579.9,1613.6 L580.9,1623.2 L581.9,1632.8 L583,1642.4 L584,1652 L585,1661.5 L586,1670.8 L587.1,1680.1 L588.1,1689.2 L589.1,1698.2 L590.2,1707 L591.2,1715.6 L592.2,1723.9 L593.2,1732 L594.3,1739.9 L595.3,1747.6 L596.3,1755 L597.4,1762.2 L598.4,1769.1 L599.4,1775.7 L600.4,1782.1 L601.5,1788.3 L602.5,1794.2 L603.5,1799.9 L604.5,1805.3 L605.6,1810.5 L606.6,1815.4 L607.6,1820.2 L608.7,1824.7 L609.7,1829 L610.7,1833.1 L611.7,1837.1 L612.8,1840.8 L613.8,1844.3 L614.8,1847.7 L615.9,1850.9 L616.9,1854 L617.9,1856.8 L618.9,1859.6 L620,1862.2 L621,1864.7 L622,1867 L623,1869.2 L624.1,1871.3 L625.1,1873.3 L626.1,1875.2 L627.2,1877 L628.2,1878.7 L629.2,1880.3 L630.2,1881.9 L631.3,1883.3 L632.3,1884.7 L633.3,1886 L634.4,1887.2 L635.4,1888.4 L636.4,1889.5 L637.4,1890.5 L638.5,1891.5 L639.5,1892.5 L640.5,1893.4 L641.5,1894.2 L642.6,1895 L643.6,1895.7 L644.6,1896.5 L645.7,1897.1 L646.7,1897.8 L647.7,1898.4 L648.7,1899 L649.8,1899.5 L650.8,1900.1 L651.8,1900.5 L652.9,1901 L653.9,1901.5 L654.9,1901.9 L655.9,1902.3 L657,1902.7 L658,1903 L659,1903.4 L660,1903.7 L661.1,1904 L662.1,1904.3 L663.1,1904.6 L664.2,1904.9 L665.2,1905.1 L666.2,1905.3 L667.2,1905.6 L668.3,1905.8 L669.3,1906 L670.3,1906.2 L671.4,1906.4 L672.4,1906.6 L673.4,1906.7 L674.4,1906.9 L675.5,1907.1 L676.5,1907.2 L677.5,1907.3 L678.5,1907.5 L679.6,1907.6 L680.6,1907.7 L681.6,1907.9 L682.7,1908 L683.7,1908.1 L684.7,1908.2 L685.7,1908.3 L686.8,1908.4 L687.8,1908.4" fill="none" stroke="#00007f" stroke-width="4.2" stroke-linejoin="round" stroke-linecap="round" />
<rect x="117.6" y="1449.7" width="571.2" height="463.5" fill="none" stroke="#000" stroke-width="5.2" />
<line x1="117.6" y1="1913.2" x2="688.8" y2="1913.2" stroke="#000" stroke-width="6" />
<line x1="109.5" y1="1910.6" x2="117.6" y2="1910.6" stroke="#000" stroke-width="4.3" />
<text x="101.4" y="1918.2" font-size="29.5" text-anchor="end" textLength="39.5" lengthAdjust="spacingAndGlyphs">0.0</text>
<line x1="113.2" y1="1868.8" x2="117.6" y2="1868.8" stroke="#000" stroke-width="4" />
<line x1="109.5" y1="1826.9" x2="117.6" y2="1826.9" stroke="#000" stroke-width="4.3" />
<text x="101.4" y="1834.5" font-size="29.5" text-anchor="end" textLength="39.5" lengthAdjust="spacingAndGlyphs">0.2</text>
<line x1="113.2" y1="1785.1" x2="117.6" y2="1785.1" stroke="#000" stroke-width="4" />
<line x1="109.5" y1="1743.3" x2="117.6" y2="1743.3" stroke="#000" stroke-width="4.3" />
<text x="101.4" y="1750.9" font-size="29.5" text-anchor="end" textLength="39.5" lengthAdjust="spacingAndGlyphs">0.4</text>
<line x1="113.2" y1="1701.4" x2="117.6" y2="1701.4" stroke="#000" stroke-width="4" />
<line x1="109.5" y1="1659.6" x2="117.6" y2="1659.6" stroke="#000" stroke-width="4.3" />
<text x="101.4" y="1667.2" font-size="29.5" text-anchor="end" textLength="39.5" lengthAdjust="spacingAndGlyphs">0.6</text>
<line x1="113.2" y1="1617.8" x2="117.6" y2="1617.8" stroke="#000" stroke-width="4" />
<line x1="109.5" y1="1576" x2="117.6" y2="1576" stroke="#000" stroke-width="4.3" />
<text x="101.4" y="1583.6" font-size="29.5" text-anchor="end" textLength="39.5" lengthAdjust="spacingAndGlyphs">0.8</text>
<line x1="113.2" y1="1534.1" x2="117.6" y2="1534.1" stroke="#000" stroke-width="4" />
<line x1="109.5" y1="1492.3" x2="117.6" y2="1492.3" stroke="#000" stroke-width="4.3" />
<text x="101.4" y="1499.9" font-size="29.5" text-anchor="end" textLength="39.5" lengthAdjust="spacingAndGlyphs">1.0</text>
<line x1="189.2" y1="1913.2" x2="189.2" y2="1922.6" stroke="#000" stroke-width="4.5" />
<text x="189.2" y="1952" font-size="30" text-anchor="middle" textLength="48" lengthAdjust="spacingAndGlyphs">500</text>
<line x1="260.6" y1="1913.2" x2="260.6" y2="1918" stroke="#000" stroke-width="4" />
<line x1="331.9" y1="1913.2" x2="331.9" y2="1922.6" stroke="#000" stroke-width="4.5" />
<text x="331.9" y="1952" font-size="30" text-anchor="middle" textLength="48" lengthAdjust="spacingAndGlyphs">600</text>
<line x1="403.3" y1="1913.2" x2="403.3" y2="1918" stroke="#000" stroke-width="4" />
<line x1="474.7" y1="1913.2" x2="474.7" y2="1922.6" stroke="#000" stroke-width="4.5" />
<text x="474.7" y="1952" font-size="30" text-anchor="middle" textLength="48" lengthAdjust="spacingAndGlyphs">700</text>
<line x1="546.1" y1="1913.2" x2="546.1" y2="1918" stroke="#000" stroke-width="4" />
<line x1="617.5" y1="1913.2" x2="617.5" y2="1922.6" stroke="#000" stroke-width="4.5" />
<text x="617.5" y="1952" font-size="30" text-anchor="middle" textLength="48" lengthAdjust="spacingAndGlyphs">800</text>
<text x="250.5" y="2007.6" font-size="38.5" textLength="306" lengthAdjust="spacingAndGlyphs">Wavelength (nm)</text>
<text x="0" y="0" transform="translate(32.6,1931.9) rotate(-90)" font-size="39.5" textLength="502.4" lengthAdjust="spacingAndGlyphs">Normalized PL Counts (a.u.)</text>
<line x1="123" y1="1463.2" x2="174.4" y2="1463.2" stroke="#ff0000" stroke-width="3.2" />
<line x1="123" y1="1493" x2="174.4" y2="1493" stroke="#ff00ff" stroke-width="3.2" />
<line x1="123" y1="1522.3" x2="174.4" y2="1522.3" stroke="#00007f" stroke-width="3.2" />
<text x="182.4" y="1471.7" font-size="22" textLength="196" lengthAdjust="spacingAndGlyphs">Triple cation:Day-1</text>
<text x="182.4" y="1501.4" font-size="22" textLength="197.2" lengthAdjust="spacingAndGlyphs">Triple cation:Day-2</text>
<text x="182.4" y="1531" font-size="22" textLength="197.2" lengthAdjust="spacingAndGlyphs">Triple cation:Day-3</text>
<path d="M303.4,1788.4 L303.6,1788.4 L303.9,1788.4 L304.1,1788.4 L304.4,1788.4 L304.6,1788.4 L304.9,1788.4 L305.1,1788.4 L305.4,1788.4 L305.6,1788.4 L305.9,1788.4 L306.1,1788.4 L306.3,1788.4 L306.6,1788.4 L306.8,1788.4 L307.1,1788.4 L307.3,1788.4 L307.6,1788.4 L307.8,1782.9 L308.1,1788.4 L308.3,1788.4 L308.6,1783.5 L308.8,1770.6 L309.1,1776.3 L309.3,1782.1 L309.6,1777.9 L309.8,1767.3 L310.1,1770.1 L310.3,1771.9 L310.6,1766.4 L310.8,1758.1 L311.1,1748.3 L311.3,1766.6 L311.6,1760.7 L311.8,1759.8 L312.1,1768 L312.3,1756.6 L312.6,1755.3 L312.8,1739.8 L313,1745.8 L313.3,1753.3 L313.5,1737.1 L313.8,1741.6 L314,1748.5 L314.3,1739.5 L314.5,1737.6 L314.8,1737.6 L315,1730.2 L315.3,1742.8 L315.5,1728.6 L315.8,1718.8 L316,1718.2 L316.3,1714.9 L316.5,1713.2 L316.8,1709.2 L317,1724 L317.3,1710.1 L317.5,1725.6 L317.8,1716.1 L318,1722.8 L318.3,1702.6 L318.5,1699.3 L318.8,1707.5 L319,1693.6 L319.3,1707.6 L319.5,1701 L319.7,1699.6 L320,1705.9 L320.2,1695 L320.5,1684.2 L320.7,1701.6 L321,1688.2 L321.2,1693.5 L321.5,1680.1 L321.7,1687 L322,1684.5 L322.2,1683.5 L322.5,1684.8 L322.7,1694 L323,1675.3 L323.2,1691.6 L323.5,1680.3 L323.7,1676.8 L324,1684.9 L324.2,1677.7 L324.5,1670.2 L324.7,1676.7 L325,1681.1 L325.2,1692.9 L325.5,1679.7 L325.7,1676.3 L326,1674.9 L326.2,1676.8 L326.4,1667.5 L326.7,1672.6 L326.9,1668.9 L327.2,1663.1 L327.4,1671.9 L327.7,1667.6 L327.9,1651.3 L328.2,1658.7 L328.4,1671.6 L328.7,1663.2 L328.9,1658.5 L329.2,1653.6 L329.4,1659.7 L329.7,1663.4 L329.9,1664 L330.2,1654.7 L330.4,1656.2 L330.7,1660.9 L330.9,1658.3 L331.2,1659.2 L331.4,1651.5 L331.7,1659.9 L331.9,1652 L332.2,1649.3 L332.4,1651.1 L332.7,1659 L332.9,1644.9 L333.1,1657.3 L333.4,1649.9 L333.6,1657 L333.9,1663 L334.1,1650.2 L334.4,1649.6 L334.6,1651.6 L334.9,1649.1 L335.1,1654.7 L335.4,1655.1 L335.6,1651.3 L335.9,1638 L336.1,1644.8 L336.4,1653 L336.6,1646.1 L336.9,1652.6 L337.1,1652.4 L337.4,1644 L337.6,1652.7 L337.9,1659.9 L338.1,1655.1 L338.4,1648.8 L338.6,1648.6 L338.9,1641.6 L339.1,1654 L339.4,1645 L339.6,1647 L339.8,1650.8 L340.1,1644.7 L340.3,1647.1 L340.6,1655.8 L340.8,1643.8 L341.1,1658.5 L341.3,1650.7 L341.6,1651.3 L341.8,1648.9 L342.1,1656.4 L342.3,1652.4 L342.6,1653.4 L342.8,1646.6 L343.1,1658.3 L343.3,1653.2 L343.6,1655.7 L343.8,1662.7 L344.1,1638.1 L344.3,1655.9 L344.6,1665.3 L344.8,1647.5 L345.1,1663.7 L345.3,1655.1 L345.6,1652.6 L345.8,1662.7 L346.1,1661.9 L346.3,1663.3 L346.5,1661.3 L346.8,1671.4 L347,1669.6 L347.3,1663.4 L347.5,1656.7 L347.8,1660 L348,1653.8 L348.3,1661.1 L348.5,1669.5 L348.8,1667.9 L349,1680.7 L349.3,1674.8 L349.5,1676.1 L349.8,1668.8 L350,1667.3 L350.3,1675.9 L350.5,1677 L350.8,1684 L351,1676 L351.3,1674.7 L351.5,1674.4 L351.8,1683.2 L352,1666.8 L352.3,1672.9 L352.5,1682.1 L352.8,1685.9 L353,1685.8 L353.2,1683.9 L353.5,1686.2 L353.7,1684.2 L354,1683.6 L354.2,1681.1 L354.5,1683.7 L354.7,1692.9 L355,1691 L355.2,1697.2 L355.5,1699.8 L355.7,1685.4 L356,1701.7 L356.2,1687.6 L356.5,1703.7 L356.7,1701.4 L357,1697.5 L357.2,1705.7 L357.5,1704.8 L357.7,1710.3 L358,1713.3 L358.2,1712.9 L358.5,1717.5 L358.7,1704.7 L359,1717.6 L359.2,1707.3 L359.5,1736.7 L359.7,1721.3 L359.9,1719.5 L360.2,1726.6 L360.4,1719.5 L360.7,1724.1 L360.9,1731.6 L361.2,1728.9 L361.4,1715.7 L361.7,1733.6 L361.9,1735.1 L362.2,1741.6 L362.4,1739.8 L362.7,1750.7 L362.9,1745.7 L363.2,1730.9 L363.4,1741.5 L363.7,1746.2 L363.9,1745.2 L364.2,1742.3 L364.4,1752.4 L364.7,1745.1 L364.9,1753.5 L365.2,1761.2 L365.4,1753.5 L365.7,1781.3 L365.9,1772.1 L366.2,1769 L366.4,1778.6 L366.6,1776 L366.9,1781.2 L367.1,1783.5 L367.4,1764.5 L367.6,1779.9 L367.9,1786.4 L368.1,1780.1 L368.4,1788.4 L368.6,1787.4 L368.9,1788.4 L369.1,1787.5 L369.4,1788.4 L369.6,1788.4 L369.9,1788.4 L370.1,1788.4 L370.4,1788.4 L370.6,1788.4 L370.9,1788.4 L371.1,1788.4 L371.4,1788.4 L371.6,1788.4 L371.9,1788.4 L372.1,1788.4 L372.4,1788.4 L372.6,1788.4" fill="none" stroke="#ff0000" stroke-width="1.2" stroke-linejoin="round" stroke-linecap="round" />
<path d="M305.1,1788.4 L305.3,1788.4 L305.6,1788.4 L305.8,1788.4 L306.1,1788.4 L306.3,1788.4 L306.6,1788.4 L306.8,1788.4 L307.1,1788.4 L307.3,1788.4 L307.6,1788.4 L307.8,1788.4 L308.1,1788.4 L308.3,1787.4 L308.6,1788.4 L308.8,1788.4 L309.1,1776.1 L309.3,1768.8 L309.6,1788.4 L309.8,1772.1 L310.1,1780.7 L310.3,1777.5 L310.5,1775.2 L310.8,1769.8 L311,1758 L311.3,1757.6 L311.5,1759.8 L311.8,1760.4 L312,1755.7 L312.3,1754.3 L312.5,1746.1 L312.8,1753.6 L313,1747.3 L313.3,1745.9 L313.5,1743.5 L313.8,1739.5 L314,1737.8 L314.3,1728.2 L314.5,1735.9 L314.8,1722.9 L315,1733.6 L315.3,1732.9 L315.5,1727.2 L315.8,1723.7 L316,1722.5 L316.3,1713.9 L316.5,1713.2 L316.8,1715.9 L317,1719.8 L317.2,1716.6 L317.5,1704.8 L317.7,1711.3 L318,1720.1 L318.2,1714.4 L318.5,1712.1 L318.7,1699 L319,1706.1 L319.2,1688.7 L319.5,1698.1 L319.7,1700.4 L320,1702.8 L320.2,1692 L320.5,1698.9 L320.7,1701.6 L321,1691 L321.2,1693.6 L321.5,1684.5 L321.7,1691.9 L322,1709.5 L322.2,1683.8 L322.5,1700.8 L322.7,1676.7 L323,1673.8 L323.2,1688 L323.5,1692 L323.7,1692.7 L323.9,1676.5 L324.2,1682.8 L324.4,1684.7 L324.7,1681.5 L324.9,1665 L325.2,1676 L325.4,1672.5 L325.7,1671.6 L325.9,1669.3 L326.2,1668.4 L326.4,1679.7 L326.7,1675.8 L326.9,1678.9 L327.2,1678 L327.4,1665 L327.7,1675.6 L327.9,1672.3 L328.2,1676 L328.4,1674.9 L328.7,1665.2 L328.9,1673.2 L329.2,1673.1 L329.4,1666.2 L329.7,1665.9 L329.9,1663.7 L330.2,1667.7 L330.4,1680.5 L330.6,1664.2 L330.9,1665 L331.1,1661.4 L331.4,1673.9 L331.6,1651.1 L331.9,1676.4 L332.1,1663.2 L332.4,1667.8 L332.6,1671.5 L332.9,1662.8 L333.1,1670.3 L333.4,1684.3 L333.6,1676.6 L333.9,1665.8 L334.1,1654 L334.4,1679.3 L334.6,1669.7 L334.9,1660.1 L335.1,1666.1 L335.4,1673.1 L335.6,1680.6 L335.9,1683.4 L336.1,1676.9 L336.4,1674.8 L336.6,1688 L336.9,1684.7 L337.1,1671.8 L337.3,1677.2 L337.6,1680.1 L337.8,1678.4 L338.1,1681.8 L338.3,1670.7 L338.6,1666.6 L338.8,1664.4 L339.1,1674.4 L339.3,1674.9 L339.6,1670.9 L339.8,1669.9 L340.1,1672.6 L340.3,1675.2 L340.6,1688.6 L340.8,1696 L341.1,1680.3 L341.3,1687.9 L341.6,1688.6 L341.8,1695.3 L342.1,1699.2 L342.3,1682.1 L342.6,1689.5 L342.8,1701 L343.1,1692.4 L343.3,1694.2 L343.6,1694 L343.8,1683.7 L344,1700.3 L344.3,1710 L344.5,1702.5 L344.8,1708.5 L345,1701.8 L345.3,1705.6 L345.5,1706.1 L345.8,1713.8 L346,1708.7 L346.3,1716.5 L346.5,1711.1 L346.8,1718.2 L347,1725.4 L347.3,1716.1 L347.5,1725.9 L347.8,1713.1 L348,1721.6 L348.3,1723.2 L348.5,1727.5 L348.8,1730.4 L349,1747.9 L349.3,1725.4 L349.5,1741.1 L349.8,1731.1 L350,1743.8 L350.3,1742.4 L350.5,1745 L350.7,1752.5 L351,1748.7 L351.2,1746.4 L351.5,1754.5 L351.7,1762.4 L352,1759.9 L352.2,1756.6 L352.5,1752.7 L352.7,1757.1 L353,1763.1 L353.2,1774 L353.5,1763.5 L353.7,1771.8 L354,1776 L354.2,1770.7 L354.5,1775.1 L354.7,1778.3 L355,1788.4 L355.2,1788.4 L355.5,1788.4 L355.7,1788.4 L356,1788.4 L356.2,1788.4 L356.5,1788.4 L356.7,1788.4 L357,1788.4 L357.2,1788.4 L357.4,1788.4 L357.7,1788.4 L357.9,1788.4 L358.2,1788.4 L358.4,1788.4 L358.7,1788.4" fill="none" stroke="#ff00ff" stroke-width="1.2" stroke-linejoin="round" stroke-linecap="round" />
<path d="M301.2,1788.4 L301.4,1788.4 L301.7,1788.4 L301.9,1788.4 L302.2,1788.4 L302.4,1788.4 L302.7,1788.4 L302.9,1788.4 L303.2,1788.4 L303.4,1788.4 L303.7,1788.4 L303.9,1788.4 L304.1,1788.4 L304.4,1788.4 L304.6,1788.4 L304.9,1788.4 L305.1,1784.1 L305.4,1784.3 L305.6,1780.8 L305.9,1788.4 L306.1,1767.1 L306.4,1774.1 L306.6,1775.1 L306.9,1757.4 L307.1,1768.1 L307.4,1774.6 L307.6,1765.7 L307.9,1775.2 L308.1,1751.9 L308.4,1758.9 L308.6,1758.7 L308.9,1745 L309.1,1760 L309.4,1744.1 L309.6,1758.3 L309.9,1747.4 L310.1,1748.7 L310.4,1729.8 L310.6,1725.9 L310.8,1737 L311.1,1727.7 L311.3,1732.1 L311.6,1725.5 L311.8,1731.9 L312.1,1736 L312.3,1734.7 L312.6,1719.1 L312.8,1705.6 L313.1,1716.2 L313.3,1719.5 L313.6,1702.4 L313.8,1711.2 L314.1,1710.4 L314.3,1707.7 L314.6,1708.5 L314.8,1708 L315.1,1713.5 L315.3,1699.7 L315.6,1701.9 L315.8,1692.3 L316.1,1700.7 L316.3,1708.9 L316.6,1696 L316.8,1683.3 L317.1,1695 L317.3,1696.8 L317.5,1697.4 L317.8,1695.2 L318,1689.1 L318.3,1693.4 L318.5,1675.3 L318.8,1685.3 L319,1681.6 L319.3,1672.1 L319.5,1670.5 L319.8,1680.2 L320,1675.7 L320.3,1672 L320.5,1676.8 L320.8,1685.8 L321,1669.5 L321.3,1667 L321.5,1669.1 L321.8,1676.6 L322,1671.1 L322.3,1672.7 L322.5,1670 L322.8,1659.1 L323,1656.8 L323.3,1661.5 L323.5,1661.5 L323.8,1660 L324,1663.6 L324.2,1663.3 L324.5,1666.4 L324.7,1661.9 L325,1646.7 L325.2,1654.9 L325.5,1662 L325.7,1662.2 L326,1664.2 L326.2,1655.9 L326.5,1655.4 L326.7,1666.5 L327,1653.9 L327.2,1660.2 L327.5,1647.3 L327.7,1654.9 L328,1644.8 L328.2,1658.2 L328.5,1656.9 L328.7,1652.9 L329,1648 L329.2,1650.9 L329.5,1662.1 L329.7,1653 L330,1653.9 L330.2,1656.7 L330.5,1658 L330.7,1642.9 L330.9,1656.3 L331.2,1659.2 L331.4,1649.9 L331.7,1653.1 L331.9,1654.5 L332.2,1649.2 L332.4,1651.2 L332.7,1652.2 L332.9,1648.6 L333.2,1653.1 L333.4,1659 L333.7,1657.7 L333.9,1658.9 L334.2,1654.6 L334.4,1663.1 L334.7,1668.2 L334.9,1656.5 L335.2,1665.9 L335.4,1670.2 L335.7,1656 L335.9,1663.3 L336.2,1656.2 L336.4,1663.2 L336.7,1667.5 L336.9,1668.9 L337.2,1664.9 L337.4,1664 L337.6,1668.1 L337.9,1665.4 L338.1,1674 L338.4,1665 L338.6,1677.1 L338.9,1667.8 L339.1,1663 L339.4,1661.3 L339.6,1658.3 L339.9,1679.8 L340.1,1666.1 L340.4,1664.2 L340.6,1666.6 L340.9,1679.6 L341.1,1672.1 L341.4,1664.1 L341.6,1686.3 L341.9,1674.9 L342.1,1672 L342.4,1684.5 L342.6,1677.6 L342.9,1689.2 L343.1,1688.8 L343.4,1690.1 L343.6,1684.9 L343.9,1688 L344.1,1682.7 L344.3,1696 L344.6,1692.2 L344.8,1686.7 L345.1,1690.7 L345.3,1704 L345.6,1692.9 L345.8,1701.6 L346.1,1697.6 L346.3,1699.7 L346.6,1695.4 L346.8,1704 L347.1,1718 L347.3,1716.5 L347.6,1705 L347.8,1712.9 L348.1,1705.8 L348.3,1712.9 L348.6,1721.1 L348.8,1711.4 L349.1,1725.1 L349.3,1734.7 L349.6,1710.6 L349.8,1737.6 L350.1,1723.4 L350.3,1723.4 L350.6,1730.4 L350.8,1743.9 L351,1728.9 L351.3,1746.4 L351.5,1747.8 L351.8,1743.7 L352,1738.5 L352.3,1743.7 L352.5,1742.6 L352.8,1752.7 L353,1753.2 L353.3,1761.5 L353.5,1758.6 L353.8,1755.1 L354,1763 L354.3,1760.5 L354.5,1769.4 L354.8,1771.9 L355,1770.3 L355.3,1774.2 L355.5,1771.7 L355.8,1776.8 L356,1769.4 L356.3,1784.3 L356.5,1786.9 L356.8,1788.4 L357,1788.4 L357.3,1788.4 L357.5,1788.4 L357.7,1788.4 L358,1788.4 L358.2,1788.4 L358.5,1788.4 L358.7,1788.4 L359,1788.4 L359.2,1788.4 L359.5,1788.4 L359.7,1788.4 L360,1788.4 L360.2,1788.4 L360.5,1788.4" fill="none" stroke="#00007f" stroke-width="1.2" stroke-linejoin="round" stroke-linecap="round" />
<rect x="203.6" y="1575.6" width="262" height="212.8" fill="none" stroke="#1a1a1a" stroke-width="2.2" />
<line x1="199.6" y1="1762.6" x2="203.6" y2="1762.6" stroke="#000" stroke-width="1.5" />
<text x="196.6" y="1767.8" font-size="14.6" text-anchor="end" textLength="29.4" lengthAdjust="spacingAndGlyphs">0.92</text>
<line x1="201.1" y1="1747.6" x2="203.6" y2="1747.6" stroke="#000" stroke-width="1.2" />
<line x1="199.6" y1="1732.6" x2="203.6" y2="1732.6" stroke="#000" stroke-width="1.5" />
<text x="196.6" y="1737.8" font-size="14.6" text-anchor="end" textLength="29.4" lengthAdjust="spacingAndGlyphs">0.94</text>
<line x1="201.1" y1="1717.6" x2="203.6" y2="1717.6" stroke="#000" stroke-width="1.2" />
<line x1="199.6" y1="1702.6" x2="203.6" y2="1702.6" stroke="#000" stroke-width="1.5" />
<text x="196.6" y="1707.8" font-size="14.6" text-anchor="end" textLength="29.4" lengthAdjust="spacingAndGlyphs">0.96</text>
<line x1="201.1" y1="1687.6" x2="203.6" y2="1687.6" stroke="#000" stroke-width="1.2" />
<line x1="199.6" y1="1672.6" x2="203.6" y2="1672.6" stroke="#000" stroke-width="1.5" />
<text x="196.6" y="1677.8" font-size="14.6" text-anchor="end" textLength="29.4" lengthAdjust="spacingAndGlyphs">0.98</text>
<line x1="201.1" y1="1657.6" x2="203.6" y2="1657.6" stroke="#000" stroke-width="1.2" />
<line x1="199.6" y1="1642.6" x2="203.6" y2="1642.6" stroke="#000" stroke-width="1.5" />
<text x="196.6" y="1647.8" font-size="14.6" text-anchor="end" textLength="29.4" lengthAdjust="spacingAndGlyphs">1.00</text>
<line x1="201.1" y1="1627.6" x2="203.6" y2="1627.6" stroke="#000" stroke-width="1.2" />
<line x1="199.6" y1="1612.6" x2="203.6" y2="1612.6" stroke="#000" stroke-width="1.5" />
<text x="196.6" y="1617.8" font-size="14.6" text-anchor="end" textLength="29.4" lengthAdjust="spacingAndGlyphs">1.02</text>
<line x1="201.1" y1="1597.6" x2="203.6" y2="1597.6" stroke="#000" stroke-width="1.2" />
<line x1="199.6" y1="1582.6" x2="203.6" y2="1582.6" stroke="#000" stroke-width="1.5" />
<text x="196.6" y="1587.8" font-size="14.6" text-anchor="end" textLength="29.4" lengthAdjust="spacingAndGlyphs">1.04</text>
<line x1="208.3" y1="1788.4" x2="208.3" y2="1790.9" stroke="#000" stroke-width="1.2" />
<line x1="226" y1="1788.4" x2="226" y2="1792.4" stroke="#000" stroke-width="1.5" />
<text x="226" y="1807.8" font-size="14.6" text-anchor="middle" textLength="24.5" lengthAdjust="spacingAndGlyphs">730</text>
<line x1="243.7" y1="1788.4" x2="243.7" y2="1790.9" stroke="#000" stroke-width="1.2" />
<line x1="261.4" y1="1788.4" x2="261.4" y2="1792.4" stroke="#000" stroke-width="1.5" />
<text x="261.4" y="1807.8" font-size="14.6" text-anchor="middle" textLength="24.5" lengthAdjust="spacingAndGlyphs">740</text>
<line x1="279.2" y1="1788.4" x2="279.2" y2="1790.9" stroke="#000" stroke-width="1.2" />
<line x1="296.9" y1="1788.4" x2="296.9" y2="1792.4" stroke="#000" stroke-width="1.5" />
<text x="296.9" y="1807.8" font-size="14.6" text-anchor="middle" textLength="24.5" lengthAdjust="spacingAndGlyphs">750</text>
<line x1="314.6" y1="1788.4" x2="314.6" y2="1790.9" stroke="#000" stroke-width="1.2" />
<line x1="332.4" y1="1788.4" x2="332.4" y2="1792.4" stroke="#000" stroke-width="1.5" />
<text x="332.4" y="1807.8" font-size="14.6" text-anchor="middle" textLength="24.5" lengthAdjust="spacingAndGlyphs">760</text>
<line x1="350.1" y1="1788.4" x2="350.1" y2="1790.9" stroke="#000" stroke-width="1.2" />
<line x1="367.8" y1="1788.4" x2="367.8" y2="1792.4" stroke="#000" stroke-width="1.5" />
<text x="367.8" y="1807.8" font-size="14.6" text-anchor="middle" textLength="24.5" lengthAdjust="spacingAndGlyphs">770</text>
<line x1="385.5" y1="1788.4" x2="385.5" y2="1790.9" stroke="#000" stroke-width="1.2" />
<line x1="403.2" y1="1788.4" x2="403.2" y2="1792.4" stroke="#000" stroke-width="1.5" />
<text x="403.2" y="1807.8" font-size="14.6" text-anchor="middle" textLength="24.5" lengthAdjust="spacingAndGlyphs">780</text>
<line x1="421" y1="1788.4" x2="421" y2="1790.9" stroke="#000" stroke-width="1.2" />
<line x1="438.7" y1="1788.4" x2="438.7" y2="1792.4" stroke="#000" stroke-width="1.5" />
<text x="438.7" y="1807.8" font-size="14.6" text-anchor="middle" textLength="24.5" lengthAdjust="spacingAndGlyphs">790</text>
<line x1="456.4" y1="1788.4" x2="456.4" y2="1790.9" stroke="#000" stroke-width="1.2" />
<text x="264.5" y="1828.2" font-size="17.5" textLength="140" lengthAdjust="spacingAndGlyphs">Wavelength (nm)</text>
<text x="0" y="0" transform="translate(159.4,1797.7) rotate(-90)" font-size="17.3" textLength="231" lengthAdjust="spacingAndGlyphs">Normalized PL Counts (a.u.)</text>
<line x1="205.6" y1="1588.7" x2="236.9" y2="1588.7" stroke="#ff0000" stroke-width="1.4" />
<line x1="205.6" y1="1606" x2="236.9" y2="1606" stroke="#ff00ff" stroke-width="1.4" />
<line x1="205.6" y1="1623" x2="236.9" y2="1623" stroke="#00007f" stroke-width="1.4" />
<text x="241.9" y="1593.6" font-size="13.6" textLength="123.3" lengthAdjust="spacingAndGlyphs">Triple cation: Day-1</text>
<text x="241.9" y="1611" font-size="13.6" textLength="123.3" lengthAdjust="spacingAndGlyphs">Triple cation: Day-2</text>
<text x="241.9" y="1628" font-size="13.6" textLength="123.3" lengthAdjust="spacingAndGlyphs">Triple cation: Day-3</text>
<path d="M363,1692.3 L345.1,1726.6 L341.1,1724.5 L340.3,1741 L353.5,1731 L349.5,1728.9 L367.4,1694.7Z" fill="#0070c0"/>
<rect x="515.5" y="1472" width="85.3" height="62.3" fill="none" stroke="#3404c0" stroke-width="2" stroke-dasharray="5.2 1.7"/>
<line x1="512.6" y1="1477.9" x2="427" y2="1556" stroke="#3404c0" stroke-width="1.3" />
<path d="M419.2,1563 L424.2,1551.4 L431.2,1559.1Z" fill="#3404c0"/>
<line x1="535.8" y1="1540.7" x2="478.5" y2="1779" stroke="#3404c0" stroke-width="1.1" stroke-dasharray="2.2 1.6"/>
<path d="M476.2,1789.2 L473.9,1777.3 L483.6,1779.7Z" fill="#3404c0"/>
<text x="821.9" y="1406.7" font-size="45.5">e</text>
<path d="M959.1,1914.3 L960.1,1914.3 L961.1,1914.3 L962.2,1914.3 L963.2,1914.3 L964.2,1914.3 L965.2,1914.3 L966.3,1914.3 L967.3,1914.3 L968.3,1914.3 L969.4,1914.3 L970.4,1914.3 L971.4,1914.3 L972.4,1914.3 L973.5,1914.3 L974.5,1914.3 L975.5,1914.3 L976.5,1914.3 L977.6,1914.3 L978.6,1914.3 L979.6,1914.3 L980.6,1914.3 L981.7,1914.3 L982.7,1914.3 L983.7,1914.3 L984.8,1914.3 L985.8,1914.3 L986.8,1914.3 L987.8,1914.3 L988.9,1914.3 L989.9,1914.3 L990.9,1914.3 L991.9,1914.3 L993,1914.3 L994,1914.3 L995,1914.3 L996,1914.3 L997.1,1914.3 L998.1,1914.3 L999.1,1914.3 L1000.2,1914.3 L1001.2,1914.3 L1002.2,1914.3 L1003.2,1914.3 L1004.3,1914.3 L1005.3,1914.3 L1006.3,1914.3 L1007.3,1914.3 L1008.4,1914.3 L1009.4,1914.3 L1010.4,1914.3 L1011.4,1914.3 L1012.5,1914.3 L1013.5,1914.3 L1014.5,1914.3 L1015.6,1914.3 L1016.6,1914.3 L1017.6,1914.3 L1018.6,1914.3 L1019.7,1914.3 L1020.7,1914.3 L1021.7,1914.3 L1022.7,1914.3 L1023.8,1914.3 L1024.8,1914.3 L1025.8,1914.3 L1026.8,1914.3 L1027.9,1914.3 L1028.9,1914.3 L1029.9,1914.3 L1031,1914.3 L1032,1914.3 L1033,1914.3 L1034,1914.3 L1035.1,1914.3 L1036.1,1914.3 L1037.1,1914.3 L1038.1,1914.3 L1039.2,1914.3 L1040.2,1914.3 L1041.2,1914.3 L1042.2,1914.3 L1043.3,1914.3 L1044.3,1914.3 L1045.3,1914.3 L1046.4,1914.3 L1047.4,1914.3 L1048.4,1914.3 L1049.4,1914.3 L1050.5,1914.3 L1051.5,1914.3 L1052.5,1914.3 L1053.5,1914.3 L1054.6,1914.3 L1055.6,1914.3 L1056.6,1914.3 L1057.6,1914.3 L1058.7,1914.3 L1059.7,1914.3 L1060.7,1914.3 L1061.8,1914.3 L1062.8,1914.3 L1063.8,1914.3 L1064.8,1914.3 L1065.9,1914.3 L1066.9,1914.3 L1067.9,1914.3 L1068.9,1914.3 L1070,1914.3 L1071,1914.3 L1072,1914.3 L1073,1914.3 L1074.1,1914.3 L1075.1,1914.3 L1076.1,1914.3 L1077.2,1914.3 L1078.2,1914.3 L1079.2,1914.3 L1080.2,1914.3 L1081.3,1914.3 L1082.3,1914.3 L1083.3,1914.3 L1084.3,1914.3 L1085.4,1914.3 L1086.4,1914.3 L1087.4,1914.3 L1088.4,1914.3 L1089.5,1914.3 L1090.5,1914.3 L1091.5,1914.3 L1092.6,1914.3 L1093.6,1914.3 L1094.6,1914.3 L1095.6,1914.3 L1096.7,1914.3 L1097.7,1914.3 L1098.7,1914.3 L1099.7,1914.3 L1100.8,1914.3 L1101.8,1914.3 L1102.8,1914.3 L1103.8,1914.3 L1104.9,1914.3 L1105.9,1914.3 L1106.9,1914.3 L1108,1914.3 L1109,1914.3 L1110,1914.3 L1111,1914.3 L1112.1,1914.3 L1113.1,1914.3 L1114.1,1914.3 L1115.1,1914.3 L1116.2,1914.3 L1117.2,1914.3 L1118.2,1914.3 L1119.2,1914.3 L1120.3,1914.3 L1121.3,1914.3 L1122.3,1914.3 L1123.4,1914.3 L1124.4,1914.3 L1125.4,1914.3 L1126.4,1914.3 L1127.5,1914.3 L1128.5,1914.3 L1129.5,1914.3 L1130.5,1914.3 L1131.6,1914.3 L1132.6,1914.3 L1133.6,1914.3 L1134.6,1914.3 L1135.7,1914.3 L1136.7,1914.3 L1137.7,1914.3 L1138.8,1914.3 L1139.8,1914.3 L1140.8,1914.3 L1141.8,1914.3 L1142.9,1914.3 L1143.9,1914.3 L1144.9,1914.3 L1145.9,1914.3 L1147,1914.3 L1148,1914.3 L1149,1914.3 L1150,1914.3 L1151.1,1914.3 L1152.1,1914.3 L1153.1,1914.3 L1154.2,1914.3 L1155.2,1914.3 L1156.2,1914.3 L1157.2,1914.3 L1158.3,1914.3 L1159.3,1914.3 L1160.3,1914.3 L1161.3,1914.3 L1162.4,1914.3 L1163.4,1914.3 L1164.4,1914.3 L1165.4,1914.3 L1166.5,1914.3 L1167.5,1914.3 L1168.5,1914.3 L1169.6,1914.3 L1170.6,1914.3 L1171.6,1914.2 L1172.6,1914.2 L1173.7,1914.2 L1174.7,1914.2 L1175.7,1914.2 L1176.7,1914.2 L1177.8,1914.2 L1178.8,1914.2 L1179.8,1914.2 L1180.8,1914.2 L1181.9,1914.2 L1182.9,1914.2 L1183.9,1914.2 L1185,1914.2 L1186,1914.1 L1187,1914.1 L1188,1914.1 L1189.1,1914.1 L1190.1,1914.1 L1191.1,1914.1 L1192.1,1914.1 L1193.2,1914.1 L1194.2,1914 L1195.2,1914 L1196.2,1914 L1197.3,1914 L1198.3,1914 L1199.3,1914 L1200.4,1914 L1201.4,1913.9 L1202.4,1913.9 L1203.4,1913.9 L1204.5,1913.9 L1205.5,1913.9 L1206.5,1913.8 L1207.5,1913.8 L1208.6,1913.8 L1209.6,1913.8 L1210.6,1913.7 L1211.6,1913.7 L1212.7,1913.7 L1213.7,1913.6 L1214.7,1913.6 L1215.8,1913.6 L1216.8,1913.5 L1217.8,1913.5 L1218.8,1913.4 L1219.9,1913.4 L1220.9,1913.4 L1221.9,1913.3 L1222.9,1913.3 L1224,1913.2 L1225,1913.2 L1226,1913.1 L1227,1913 L1228.1,1913 L1229.1,1912.9 L1230.1,1912.8 L1231.2,1912.8 L1232.2,1912.7 L1233.2,1912.6 L1234.2,1912.5 L1235.3,1912.4 L1236.3,1912.3 L1237.3,1912.2 L1238.3,1912.1 L1239.4,1912 L1240.4,1911.9 L1241.4,1911.8 L1242.4,1911.6 L1243.5,1911.5 L1244.5,1911.3 L1245.5,1911.2 L1246.6,1911 L1247.6,1910.8 L1248.6,1910.6 L1249.6,1910.4 L1250.7,1910.2 L1251.7,1910 L1252.7,1909.8 L1253.7,1909.5 L1254.8,1909.3 L1255.8,1909 L1256.8,1908.7 L1257.8,1908.4 L1258.9,1908.1 L1259.9,1907.7 L1260.9,1907.4 L1262,1907 L1263,1906.6 L1264,1906.2 L1265,1905.7 L1266.1,1905.2 L1267.1,1904.7 L1268.1,1904.1 L1269.1,1903.6 L1270.2,1902.9 L1271.2,1902.3 L1272.2,1901.6 L1273.3,1900.9 L1274.3,1900.1 L1275.3,1899.3 L1276.3,1898.4 L1277.4,1897.4 L1278.4,1896.5 L1279.4,1895.4 L1280.4,1894.3 L1281.5,1893.1 L1282.5,1891.9 L1283.5,1890.5 L1284.5,1889.1 L1285.6,1887.6 L1286.6,1886 L1287.6,1884.4 L1288.7,1882.6 L1289.7,1880.7 L1290.7,1878.7 L1291.7,1876.5 L1292.8,1874.3 L1293.8,1871.9 L1294.8,1869.4 L1295.8,1866.7 L1296.9,1863.9 L1297.9,1860.9 L1298.9,1857.7 L1299.9,1854.4 L1301,1850.8 L1302,1847.1 L1303,1843.2 L1304.1,1839.1 L1305.1,1834.7 L1306.1,1830.1 L1307.1,1825.3 L1308.2,1820.2 L1309.2,1814.9 L1310.2,1809.3 L1311.2,1803.5 L1312.3,1797.3 L1313.3,1791 L1314.3,1784.3 L1315.3,1777.3 L1316.4,1770.1 L1317.4,1762.6 L1318.4,1754.8 L1319.5,1746.7 L1320.5,1738.4 L1321.5,1729.8 L1322.5,1720.9 L1323.6,1711.8 L1324.6,1702.5 L1325.6,1692.9 L1326.6,1683.2 L1327.7,1673.3 L1328.7,1663.3 L1329.7,1653.1 L1330.7,1642.9 L1331.8,1632.6 L1332.8,1622.4 L1333.8,1612.1 L1334.9,1602 L1335.9,1592 L1336.9,1582.1 L1337.9,1572.5 L1339,1563.1 L1340,1554.1 L1341,1545.4 L1342,1537.2 L1343.1,1529.4 L1344.1,1522.1 L1345.1,1515.5 L1346.1,1509.4 L1347.2,1504 L1348.2,1499.3 L1349.2,1495.3 L1350.3,1492.1 L1351.3,1489.6 L1352.3,1488 L1353.3,1487.1 L1354.4,1487.1 L1355.4,1487.8 L1356.4,1489.3 L1357.4,1491.6 L1358.5,1494.6 L1359.5,1498.3 L1360.5,1502.7 L1361.5,1507.8 L1362.6,1513.5 L1363.6,1519.8 L1364.6,1526.7 L1365.7,1534 L1366.7,1541.9 L1367.7,1550.2 L1368.7,1558.8 L1369.8,1567.8 L1370.8,1577.1 L1371.8,1586.6 L1372.8,1596.2 L1373.9,1606.1 L1374.9,1616 L1375.9,1626 L1376.9,1636 L1378,1646 L1379,1655.9 L1380,1665.8 L1381.1,1675.5 L1382.1,1685.2 L1383.1,1694.6 L1384.1,1703.9 L1385.2,1712.9 L1386.2,1721.8 L1387.2,1730.4 L1388.2,1738.8 L1389.3,1746.9 L1390.3,1754.8 L1391.3,1762.4 L1392.3,1769.7 L1393.4,1776.8 L1394.4,1783.6 L1395.4,1790.1 L1396.5,1796.4 L1397.5,1802.4 L1398.5,1808.1 L1399.5,1813.6 L1400.6,1818.9 L1401.6,1823.9 L1402.6,1828.6 L1403.6,1833.2 L1404.7,1837.5 L1405.7,1841.6 L1406.7,1845.5 L1407.7,1849.2 L1408.8,1852.8 L1409.8,1856.1 L1410.8,1859.3 L1411.9,1862.3 L1412.9,1865.1 L1413.9,1867.8 L1414.9,1870.4 L1416,1872.8 L1417,1875.1 L1418,1877.2 L1419,1879.3 L1420.1,1881.2 L1421.1,1883 L1422.1,1884.7 L1423.1,1886.3 L1424.2,1887.9 L1425.2,1889.3 L1426.2,1890.7 L1427.3,1892 L1428.3,1893.2 L1429.3,1894.3 L1430.3,1895.4 L1431.4,1896.4 L1432.4,1897.4 L1433.4,1898.3 L1434.4,1899.2 L1435.5,1900 L1436.5,1900.8 L1437.5,1901.5 L1438.5,1902.2 L1439.6,1902.8 L1440.6,1903.4 L1441.6,1904 L1442.7,1904.5 L1443.7,1905 L1444.7,1905.5 L1445.7,1906 L1446.8,1906.4 L1447.8,1906.8 L1448.8,1907.2 L1449.8,1907.6 L1450.9,1907.9 L1451.9,1908.2 L1452.9,1908.6 L1453.9,1908.8 L1455,1909.1 L1456,1909.4 L1457,1909.6 L1458.1,1909.9 L1459.1,1910.1 L1460.1,1910.3 L1461.1,1910.5 L1462.2,1910.7 L1463.2,1910.9 L1464.2,1911 L1465.2,1911.2 L1466.3,1911.3 L1467.3,1911.5 L1468.3,1911.6 L1469.3,1911.8 L1470.4,1911.9 L1471.4,1912" fill="none" stroke="#000000" stroke-width="4.2" stroke-linejoin="round" stroke-linecap="round" />
<path d="M959.1,1914.3 L960.1,1914.3 L961.1,1914.3 L962.2,1914.3 L963.2,1914.3 L964.2,1914.3 L965.2,1914.3 L966.3,1914.3 L967.3,1914.3 L968.3,1914.3 L969.4,1914.3 L970.4,1914.3 L971.4,1914.3 L972.4,1914.3 L973.5,1914.3 L974.5,1914.3 L975.5,1914.3 L976.5,1914.3 L977.6,1914.3 L978.6,1914.3 L979.6,1914.3 L980.6,1914.3 L981.7,1914.3 L982.7,1914.3 L983.7,1914.3 L984.8,1914.3 L985.8,1914.3 L986.8,1914.3 L987.8,1914.3 L988.9,1914.3 L989.9,1914.3 L990.9,1914.3 L991.9,1914.3 L993,1914.3 L994,1914.3 L995,1914.3 L996,1914.3 L997.1,1914.3 L998.1,1914.3 L999.1,1914.3 L1000.2,1914.3 L1001.2,1914.3 L1002.2,1914.3 L1003.2,1914.3 L1004.3,1914.3 L1005.3,1914.3 L1006.3,1914.3 L1007.3,1914.3 L1008.4,1914.3 L1009.4,1914.3 L1010.4,1914.3 L1011.4,1914.3 L1012.5,1914.3 L1013.5,1914.3 L1014.5,1914.3 L1015.6,1914.3 L1016.6,1914.3 L1017.6,1914.3 L1018.6,1914.3 L1019.7,1914.3 L1020.7,1914.3 L1021.7,1914.3 L1022.7,1914.3 L1023.8,1914.3 L1024.8,1914.3 L1025.8,1914.3 L1026.8,1914.3 L1027.9,1914.3 L1028.9,1914.3 L1029.9,1914.3 L1031,1914.3 L1032,1914.3 L1033,1914.3 L1034,1914.3 L1035.1,1914.3 L1036.1,1914.3 L1037.1,1914.3 L1038.1,1914.3 L1039.2,1914.3 L1040.2,1914.3 L1041.2,1914.3 L1042.2,1914.3 L1043.3,1914.3 L1044.3,1914.3 L1045.3,1914.3 L1046.4,1914.3 L1047.4,1914.3 L1048.4,1914.3 L1049.4,1914.3 L1050.5,1914.3 L1051.5,1914.3 L1052.5,1914.3 L1053.5,1914.3 L1054.6,1914.3 L1055.6,1914.3 L1056.6,1914.3 L1057.6,1914.3 L1058.7,1914.3 L1059.7,1914.3 L1060.7,1914.3 L1061.8,1914.3 L1062.8,1914.3 L1063.8,1914.3 L1064.8,1914.3 L1065.9,1914.3 L1066.9,1914.3 L1067.9,1914.3 L1068.9,1914.3 L1070,1914.3 L1071,1914.3 L1072,1914.3 L1073,1914.3 L1074.1,1914.3 L1075.1,1914.3 L1076.1,1914.3 L1077.2,1914.3 L1078.2,1914.3 L1079.2,1914.3 L1080.2,1914.3 L1081.3,1914.3 L1082.3,1914.3 L1083.3,1914.3 L1084.3,1914.3 L1085.4,1914.3 L1086.4,1914.3 L1087.4,1914.3 L1088.4,1914.3 L1089.5,1914.3 L1090.5,1914.3 L1091.5,1914.3 L1092.6,1914.3 L1093.6,1914.3 L1094.6,1914.3 L1095.6,1914.3 L1096.7,1914.3 L1097.7,1914.3 L1098.7,1914.3 L1099.7,1914.3 L1100.8,1914.3 L1101.8,1914.3 L1102.8,1914.3 L1103.8,1914.3 L1104.9,1914.3 L1105.9,1914.3 L1106.9,1914.3 L1108,1914.3 L1109,1914.3 L1110,1914.3 L1111,1914.3 L1112.1,1914.3 L1113.1,1914.3 L1114.1,1914.3 L1115.1,1914.3 L1116.2,1914.3 L1117.2,1914.3 L1118.2,1914.3 L1119.2,1914.3 L1120.3,1914.3 L1121.3,1914.3 L1122.3,1914.3 L1123.4,1914.3 L1124.4,1914.3 L1125.4,1914.3 L1126.4,1914.3 L1127.5,1914.3 L1128.5,1914.3 L1129.5,1914.3 L1130.5,1914.3 L1131.6,1914.3 L1132.6,1914.3 L1133.6,1914.3 L1134.6,1914.3 L1135.7,1914.3 L1136.7,1914.3 L1137.7,1914.3 L1138.8,1914.3 L1139.8,1914.3 L1140.8,1914.3 L1141.8,1914.3 L1142.9,1914.3 L1143.9,1914.3 L1144.9,1914.3 L1145.9,1914.3 L1147,1914.3 L1148,1914.3 L1149,1914.3 L1150,1914.3 L1151.1,1914.3 L1152.1,1914.3 L1153.1,1914.3 L1154.2,1914.3 L1155.2,1914.3 L1156.2,1914.3 L1157.2,1914.3 L1158.3,1914.3 L1159.3,1914.3 L1160.3,1914.3 L1161.3,1914.3 L1162.4,1914.3 L1163.4,1914.3 L1164.4,1914.3 L1165.4,1914.3 L1166.5,1914.3 L1167.5,1914.3 L1168.5,1914.3 L1169.6,1914.3 L1170.6,1914.3 L1171.6,1914.3 L1172.6,1914.3 L1173.7,1914.3 L1174.7,1914.3 L1175.7,1914.3 L1176.7,1914.3 L1177.8,1914.3 L1178.8,1914.3 L1179.8,1914.3 L1180.8,1914.3 L1181.9,1914.3 L1182.9,1914.3 L1183.9,1914.3 L1185,1914.3 L1186,1914.3 L1187,1914.3 L1188,1914.3 L1189.1,1914.2 L1190.1,1914.2 L1191.1,1914.2 L1192.1,1914.2 L1193.2,1914.2 L1194.2,1914.2 L1195.2,1914.2 L1196.2,1914.2 L1197.3,1914.2 L1198.3,1914.2 L1199.3,1914.2 L1200.4,1914.1 L1201.4,1914.1 L1202.4,1914.1 L1203.4,1914.1 L1204.5,1914.1 L1205.5,1914.1 L1206.5,1914.1 L1207.5,1914 L1208.6,1914 L1209.6,1914 L1210.6,1914 L1211.6,1914 L1212.7,1913.9 L1213.7,1913.9 L1214.7,1913.9 L1215.8,1913.8 L1216.8,1913.8 L1217.8,1913.8 L1218.8,1913.8 L1219.9,1913.7 L1220.9,1913.7 L1221.9,1913.6 L1222.9,1913.6 L1224,1913.6 L1225,1913.5 L1226,1913.5 L1227,1913.4 L1228.1,1913.4 L1229.1,1913.3 L1230.1,1913.2 L1231.2,1913.2 L1232.2,1913.1 L1233.2,1913 L1234.2,1912.9 L1235.3,1912.9 L1236.3,1912.8 L1237.3,1912.7 L1238.3,1912.6 L1239.4,1912.5 L1240.4,1912.3 L1241.4,1912.2 L1242.4,1912.1 L1243.5,1911.9 L1244.5,1911.8 L1245.5,1911.6 L1246.6,1911.5 L1247.6,1911.3 L1248.6,1911.1 L1249.6,1910.9 L1250.7,1910.7 L1251.7,1910.5 L1252.7,1910.2 L1253.7,1910 L1254.8,1909.7 L1255.8,1909.4 L1256.8,1909.1 L1257.8,1908.8 L1258.9,1908.4 L1259.9,1908 L1260.9,1907.6 L1262,1907.2 L1263,1906.7 L1264,1906.3 L1265,1905.7 L1266.1,1905.2 L1267.1,1904.6 L1268.1,1904 L1269.1,1903.3 L1270.2,1902.6 L1271.2,1901.8 L1272.2,1901 L1273.3,1900.2 L1274.3,1899.2 L1275.3,1898.3 L1276.3,1897.2 L1277.4,1896.1 L1278.4,1894.9 L1279.4,1893.7 L1280.4,1892.3 L1281.5,1890.9 L1282.5,1889.4 L1283.5,1887.8 L1284.5,1886.1 L1285.6,1884.2 L1286.6,1882.3 L1287.6,1880.3 L1288.7,1878.1 L1289.7,1875.8 L1290.7,1873.3 L1291.7,1870.7 L1292.8,1867.9 L1293.8,1865 L1294.8,1861.9 L1295.8,1858.7 L1296.9,1855.2 L1297.9,1851.6 L1298.9,1847.7 L1299.9,1843.7 L1301,1839.4 L1302,1834.9 L1303,1830.2 L1304.1,1825.2 L1305.1,1820 L1306.1,1814.5 L1307.1,1808.8 L1308.2,1802.8 L1309.2,1796.5 L1310.2,1790 L1311.2,1783.2 L1312.3,1776.2 L1313.3,1768.8 L1314.3,1761.2 L1315.3,1753.4 L1316.4,1745.2 L1317.4,1736.9 L1318.4,1728.3 L1319.5,1719.4 L1320.5,1710.4 L1321.5,1701.1 L1322.5,1691.7 L1323.6,1682.1 L1324.6,1672.3 L1325.6,1662.5 L1326.6,1652.6 L1327.7,1642.6 L1328.7,1632.6 L1329.7,1622.6 L1330.7,1612.7 L1331.8,1602.9 L1332.8,1593.2 L1333.8,1583.7 L1334.9,1574.4 L1335.9,1565.3 L1336.9,1556.6 L1337.9,1548.2 L1339,1540.3 L1340,1532.7 L1341,1525.7 L1342,1519.2 L1343.1,1513.2 L1344.1,1507.8 L1345.1,1503.1 L1346.1,1499 L1347.2,1495.6 L1348.2,1492.9 L1349.2,1490.9 L1350.3,1489.7 L1351.3,1489.2 L1352.3,1489.4 L1353.3,1490.4 L1354.4,1492.1 L1355.4,1494.4 L1356.4,1497.5 L1357.4,1501.3 L1358.5,1505.7 L1359.5,1510.7 L1360.5,1516.3 L1361.5,1522.5 L1362.6,1529.2 L1363.6,1536.4 L1364.6,1544.1 L1365.7,1552.1 L1366.7,1560.5 L1367.7,1569.3 L1368.7,1578.3 L1369.8,1587.6 L1370.8,1597 L1371.8,1606.7 L1372.8,1616.4 L1373.9,1626.2 L1374.9,1636.1 L1375.9,1645.9 L1376.9,1655.7 L1378,1665.5 L1379,1675.2 L1380,1684.7 L1381.1,1694.2 L1382.1,1703.4 L1383.1,1712.5 L1384.1,1721.4 L1385.2,1730.1 L1386.2,1738.5 L1387.2,1746.7 L1388.2,1754.7 L1389.3,1762.4 L1390.3,1769.9 L1391.3,1777.1 L1392.3,1784 L1393.4,1790.7 L1394.4,1797.1 L1395.4,1803.2 L1396.5,1809.1 L1397.5,1814.7 L1398.5,1820.1 L1399.5,1825.3 L1400.6,1830.2 L1401.6,1834.8 L1402.6,1839.3 L1403.6,1843.5 L1404.7,1847.5 L1405.7,1851.3 L1406.7,1854.9 L1407.7,1858.4 L1408.8,1861.6 L1409.8,1864.7 L1410.8,1867.6 L1411.9,1870.3 L1412.9,1872.9 L1413.9,1875.3 L1414.9,1877.7 L1416,1879.8 L1417,1881.9 L1418,1883.8 L1419,1885.6 L1420.1,1887.4 L1421.1,1889 L1422.1,1890.5 L1423.1,1891.9 L1424.2,1893.3 L1425.2,1894.5 L1426.2,1895.7 L1427.3,1896.8 L1428.3,1897.9 L1429.3,1898.9 L1430.3,1899.8 L1431.4,1900.7 L1432.4,1901.5 L1433.4,1902.3 L1434.4,1903 L1435.5,1903.7 L1436.5,1904.3 L1437.5,1904.9 L1438.5,1905.5 L1439.6,1906 L1440.6,1906.5 L1441.6,1907 L1442.7,1907.4 L1443.7,1907.8 L1444.7,1908.2 L1445.7,1908.6 L1446.8,1908.9 L1447.8,1909.2 L1448.8,1909.5 L1449.8,1909.8 L1450.9,1910.1 L1451.9,1910.3 L1452.9,1910.5 L1453.9,1910.8 L1455,1911 L1456,1911.2 L1457,1911.3 L1458.1,1911.5 L1459.1,1911.7 L1460.1,1911.8 L1461.1,1912 L1462.2,1912.1 L1463.2,1912.2 L1464.2,1912.4 L1465.2,1912.5 L1466.3,1912.6 L1467.3,1912.7 L1468.3,1912.8 L1469.3,1912.9 L1470.4,1912.9 L1471.4,1913" fill="none" stroke="#0000ff" stroke-width="3.2" stroke-linejoin="round" stroke-linecap="round" />
<path d="M959.1,1914.3 L960.1,1914.3 L961.1,1914.3 L962.2,1914.3 L963.2,1914.3 L964.2,1914.3 L965.2,1914.3 L966.3,1914.3 L967.3,1914.3 L968.3,1914.3 L969.4,1914.3 L970.4,1914.3 L971.4,1914.3 L972.4,1914.3 L973.5,1914.3 L974.5,1914.3 L975.5,1914.3 L976.5,1914.3 L977.6,1914.3 L978.6,1914.3 L979.6,1914.3 L980.6,1914.3 L981.7,1914.3 L982.7,1914.3 L983.7,1914.3 L984.8,1914.3 L985.8,1914.3 L986.8,1914.3 L987.8,1914.3 L988.9,1914.3 L989.9,1914.3 L990.9,1914.3 L991.9,1914.3 L993,1914.3 L994,1914.3 L995,1914.3 L996,1914.3 L997.1,1914.3 L998.1,1914.3 L999.1,1914.3 L1000.2,1914.3 L1001.2,1914.3 L1002.2,1914.3 L1003.2,1914.3 L1004.3,1914.3 L1005.3,1914.3 L1006.3,1914.3 L1007.3,1914.3 L1008.4,1914.3 L1009.4,1914.3 L1010.4,1914.3 L1011.4,1914.3 L1012.5,1914.3 L1013.5,1914.3 L1014.5,1914.3 L1015.6,1914.3 L1016.6,1914.3 L1017.6,1914.3 L1018.6,1914.3 L1019.7,1914.3 L1020.7,1914.3 L1021.7,1914.3 L1022.7,1914.3 L1023.8,1914.3 L1024.8,1914.3 L1025.8,1914.3 L1026.8,1914.3 L1027.9,1914.3 L1028.9,1914.3 L1029.9,1914.3 L1031,1914.3 L1032,1914.3 L1033,1914.3 L1034,1914.3 L1035.1,1914.3 L1036.1,1914.3 L1037.1,1914.3 L1038.1,1914.3 L1039.2,1914.3 L1040.2,1914.3 L1041.2,1914.3 L1042.2,1914.3 L1043.3,1914.3 L1044.3,1914.3 L1045.3,1914.3 L1046.4,1914.3 L1047.4,1914.3 L1048.4,1914.3 L1049.4,1914.3 L1050.5,1914.3 L1051.5,1914.3 L1052.5,1914.3 L1053.5,1914.3 L1054.6,1914.3 L1055.6,1914.3 L1056.6,1914.3 L1057.6,1914.3 L1058.7,1914.3 L1059.7,1914.3 L1060.7,1914.3 L1061.8,1914.3 L1062.8,1914.3 L1063.8,1914.3 L1064.8,1914.3 L1065.9,1914.3 L1066.9,1914.3 L1067.9,1914.3 L1068.9,1914.3 L1070,1914.3 L1071,1914.3 L1072,1914.3 L1073,1914.3 L1074.1,1914.3 L1075.1,1914.3 L1076.1,1914.3 L1077.2,1914.3 L1078.2,1914.3 L1079.2,1914.3 L1080.2,1914.3 L1081.3,1914.3 L1082.3,1914.3 L1083.3,1914.3 L1084.3,1914.3 L1085.4,1914.3 L1086.4,1914.3 L1087.4,1914.3 L1088.4,1914.3 L1089.5,1914.3 L1090.5,1914.3 L1091.5,1914.3 L1092.6,1914.3 L1093.6,1914.3 L1094.6,1914.3 L1095.6,1914.3 L1096.7,1914.3 L1097.7,1914.3 L1098.7,1914.3 L1099.7,1914.3 L1100.8,1914.3 L1101.8,1914.3 L1102.8,1914.3 L1103.8,1914.3 L1104.9,1914.3 L1105.9,1914.3 L1106.9,1914.3 L1108,1914.3 L1109,1914.3 L1110,1914.3 L1111,1914.3 L1112.1,1914.3 L1113.1,1914.3 L1114.1,1914.3 L1115.1,1914.3 L1116.2,1914.3 L1117.2,1914.3 L1118.2,1914.3 L1119.2,1914.3 L1120.3,1914.3 L1121.3,1914.3 L1122.3,1914.3 L1123.4,1914.3 L1124.4,1914.3 L1125.4,1914.3 L1126.4,1914.3 L1127.5,1914.3 L1128.5,1914.3 L1129.5,1914.3 L1130.5,1914.3 L1131.6,1914.3 L1132.6,1914.3 L1133.6,1914.3 L1134.6,1914.3 L1135.7,1914.3 L1136.7,1914.3 L1137.7,1914.3 L1138.8,1914.3 L1139.8,1914.3 L1140.8,1914.3 L1141.8,1914.3 L1142.9,1914.3 L1143.9,1914.3 L1144.9,1914.3 L1145.9,1914.3 L1147,1914.3 L1148,1914.3 L1149,1914.3 L1150,1914.3 L1151.1,1914.3 L1152.1,1914.3 L1153.1,1914.3 L1154.2,1914.3 L1155.2,1914.3 L1156.2,1914.3 L1157.2,1914.3 L1158.3,1914.3 L1159.3,1914.3 L1160.3,1914.3 L1161.3,1914.3 L1162.4,1914.3 L1163.4,1914.3 L1164.4,1914.2 L1165.4,1914.2 L1166.5,1914.2 L1167.5,1914.2 L1168.5,1914.2 L1169.6,1914.2 L1170.6,1914.2 L1171.6,1914.2 L1172.6,1914.2 L1173.7,1914.2 L1174.7,1914.2 L1175.7,1914.2 L1176.7,1914.2 L1177.8,1914.1 L1178.8,1914.1 L1179.8,1914.1 L1180.8,1914.1 L1181.9,1914.1 L1182.9,1914.1 L1183.9,1914.1 L1185,1914.1 L1186,1914 L1187,1914 L1188,1914 L1189.1,1914 L1190.1,1914 L1191.1,1914 L1192.1,1913.9 L1193.2,1913.9 L1194.2,1913.9 L1195.2,1913.9 L1196.2,1913.8 L1197.3,1913.8 L1198.3,1913.8 L1199.3,1913.8 L1200.4,1913.7 L1201.4,1913.7 L1202.4,1913.7 L1203.4,1913.6 L1204.5,1913.6 L1205.5,1913.6 L1206.5,1913.5 L1207.5,1913.5 L1208.6,1913.4 L1209.6,1913.4 L1210.6,1913.3 L1211.6,1913.3 L1212.7,1913.2 L1213.7,1913.2 L1214.7,1913.1 L1215.8,1913 L1216.8,1913 L1217.8,1912.9 L1218.8,1912.8 L1219.9,1912.7 L1220.9,1912.7 L1221.9,1912.6 L1222.9,1912.5 L1224,1912.4 L1225,1912.3 L1226,1912.2 L1227,1912 L1228.1,1911.9 L1229.1,1911.8 L1230.1,1911.7 L1231.2,1911.5 L1232.2,1911.4 L1233.2,1911.2 L1234.2,1911 L1235.3,1910.8 L1236.3,1910.7 L1237.3,1910.5 L1238.3,1910.2 L1239.4,1910 L1240.4,1909.8 L1241.4,1909.5 L1242.4,1909.3 L1243.5,1909 L1244.5,1908.7 L1245.5,1908.4 L1246.6,1908 L1247.6,1907.7 L1248.6,1907.3 L1249.6,1906.9 L1250.7,1906.5 L1251.7,1906.1 L1252.7,1905.6 L1253.7,1905.1 L1254.8,1904.6 L1255.8,1904 L1256.8,1903.5 L1257.8,1902.8 L1258.9,1902.2 L1259.9,1901.5 L1260.9,1900.8 L1262,1900 L1263,1899.2 L1264,1898.3 L1265,1897.4 L1266.1,1896.4 L1267.1,1895.4 L1268.1,1894.3 L1269.1,1893.2 L1270.2,1892 L1271.2,1890.7 L1272.2,1889.3 L1273.3,1887.9 L1274.3,1886.4 L1275.3,1884.8 L1276.3,1883.1 L1277.4,1881.3 L1278.4,1879.5 L1279.4,1877.5 L1280.4,1875.4 L1281.5,1873.2 L1282.5,1870.9 L1283.5,1868.4 L1284.5,1865.8 L1285.6,1863.1 L1286.6,1860.3 L1287.6,1857.3 L1288.7,1854.1 L1289.7,1850.8 L1290.7,1847.3 L1291.7,1843.7 L1292.8,1839.9 L1293.8,1835.9 L1294.8,1831.7 L1295.8,1827.3 L1296.9,1822.7 L1297.9,1817.9 L1298.9,1812.9 L1299.9,1807.7 L1301,1802.3 L1302,1796.6 L1303,1790.8 L1304.1,1784.7 L1305.1,1778.4 L1306.1,1771.9 L1307.1,1765.1 L1308.2,1758.2 L1309.2,1751 L1310.2,1743.6 L1311.2,1736 L1312.3,1728.2 L1313.3,1720.2 L1314.3,1712 L1315.3,1703.6 L1316.4,1695.1 L1317.4,1686.5 L1318.4,1677.7 L1319.5,1668.8 L1320.5,1659.8 L1321.5,1650.8 L1322.5,1641.7 L1323.6,1632.6 L1324.6,1623.5 L1325.6,1614.5 L1326.6,1605.5 L1327.7,1596.6 L1328.7,1587.9 L1329.7,1579.3 L1330.7,1570.9 L1331.8,1562.7 L1332.8,1554.8 L1333.8,1547.1 L1334.9,1539.9 L1335.9,1532.9 L1336.9,1526.4 L1337.9,1520.3 L1339,1514.6 L1340,1509.4 L1341,1504.7 L1342,1500.6 L1343.1,1497 L1344.1,1494 L1345.1,1491.6 L1346.1,1489.7 L1347.2,1488.5 L1348.2,1487.9 L1349.2,1487.9 L1350.3,1488.5 L1351.3,1489.6 L1352.3,1491.3 L1353.3,1493.6 L1354.4,1496.3 L1355.4,1499.6 L1356.4,1503.4 L1357.4,1507.7 L1358.5,1512.4 L1359.5,1517.6 L1360.5,1523.2 L1361.5,1529.3 L1362.6,1535.7 L1363.6,1542.4 L1364.6,1549.4 L1365.7,1556.8 L1366.7,1564.4 L1367.7,1572.2 L1368.7,1580.2 L1369.8,1588.4 L1370.8,1596.8 L1371.8,1605.2 L1372.8,1613.8 L1373.9,1622.4 L1374.9,1631 L1375.9,1639.7 L1376.9,1648.3 L1378,1657 L1379,1665.5 L1380,1674 L1381.1,1682.4 L1382.1,1690.7 L1383.1,1698.9 L1384.1,1706.9 L1385.2,1714.8 L1386.2,1722.5 L1387.2,1730.1 L1388.2,1737.5 L1389.3,1744.7 L1390.3,1751.7 L1391.3,1758.5 L1392.3,1765.2 L1393.4,1771.6 L1394.4,1777.8 L1395.4,1783.9 L1396.5,1789.7 L1397.5,1795.3 L1398.5,1800.7 L1399.5,1805.9 L1400.6,1811 L1401.6,1815.8 L1402.6,1820.5 L1403.6,1824.9 L1404.7,1829.2 L1405.7,1833.3 L1406.7,1837.2 L1407.7,1841 L1408.8,1844.6 L1409.8,1848 L1410.8,1851.3 L1411.9,1854.4 L1412.9,1857.4 L1413.9,1860.3 L1414.9,1863 L1416,1865.6 L1417,1868 L1418,1870.4 L1419,1872.6 L1420.1,1874.8 L1421.1,1876.8 L1422.1,1878.7 L1423.1,1880.5 L1424.2,1882.3 L1425.2,1883.9 L1426.2,1885.5 L1427.3,1887 L1428.3,1888.4 L1429.3,1889.7 L1430.3,1891 L1431.4,1892.2 L1432.4,1893.3 L1433.4,1894.4 L1434.4,1895.4 L1435.5,1896.4 L1436.5,1897.3 L1437.5,1898.2 L1438.5,1899.1 L1439.6,1899.8 L1440.6,1900.6 L1441.6,1901.3 L1442.7,1902 L1443.7,1902.6 L1444.7,1903.2 L1445.7,1903.8 L1446.8,1904.3 L1447.8,1904.8 L1448.8,1905.3 L1449.8,1905.8 L1450.9,1906.2 L1451.9,1906.6 L1452.9,1907 L1453.9,1907.4 L1455,1907.7 L1456,1908.1 L1457,1908.4 L1458.1,1908.7 L1459.1,1909 L1460.1,1909.2 L1461.1,1909.5 L1462.2,1909.7 L1463.2,1909.9 L1464.2,1910.2 L1465.2,1910.4 L1466.3,1910.6 L1467.3,1910.8 L1468.3,1910.9 L1469.3,1911.1 L1470.4,1911.3 L1471.4,1911.4" fill="none" stroke="#007f00" stroke-width="3.8" stroke-linejoin="round" stroke-linecap="round" />
<rect x="889.4" y="1446" width="583" height="471.2" fill="none" stroke="#000" stroke-width="5.2" />
<line x1="889.4" y1="1917.2" x2="1472.4" y2="1917.2" stroke="#000" stroke-width="6" />
<line x1="881.4" y1="1914.4" x2="889.4" y2="1914.4" stroke="#000" stroke-width="4.3" />
<text x="873.7" y="1922.7" font-size="29.5" text-anchor="end" textLength="39.6" lengthAdjust="spacingAndGlyphs">0.0</text>
<line x1="885.2" y1="1871.7" x2="889.4" y2="1871.7" stroke="#000" stroke-width="4" />
<line x1="881.4" y1="1829" x2="889.4" y2="1829" stroke="#000" stroke-width="4.3" />
<text x="873.7" y="1837.3" font-size="29.5" text-anchor="end" textLength="39.6" lengthAdjust="spacingAndGlyphs">0.2</text>
<line x1="885.2" y1="1786.3" x2="889.4" y2="1786.3" stroke="#000" stroke-width="4" />
<line x1="881.4" y1="1743.6" x2="889.4" y2="1743.6" stroke="#000" stroke-width="4.3" />
<text x="873.7" y="1751.9" font-size="29.5" text-anchor="end" textLength="39.6" lengthAdjust="spacingAndGlyphs">0.4</text>
<line x1="885.2" y1="1701" x2="889.4" y2="1701" stroke="#000" stroke-width="4" />
<line x1="881.4" y1="1658.3" x2="889.4" y2="1658.3" stroke="#000" stroke-width="4.3" />
<text x="873.7" y="1666.6" font-size="29.5" text-anchor="end" textLength="39.6" lengthAdjust="spacingAndGlyphs">0.6</text>
<line x1="885.2" y1="1615.6" x2="889.4" y2="1615.6" stroke="#000" stroke-width="4" />
<line x1="881.4" y1="1572.9" x2="889.4" y2="1572.9" stroke="#000" stroke-width="4.3" />
<text x="873.7" y="1581.2" font-size="29.5" text-anchor="end" textLength="39.6" lengthAdjust="spacingAndGlyphs">0.8</text>
<line x1="885.2" y1="1530.2" x2="889.4" y2="1530.2" stroke="#000" stroke-width="4" />
<line x1="881.4" y1="1487.5" x2="889.4" y2="1487.5" stroke="#000" stroke-width="4.3" />
<text x="873.7" y="1495.8" font-size="29.5" text-anchor="end" textLength="39.6" lengthAdjust="spacingAndGlyphs">1.0</text>
<line x1="962" y1="1917.2" x2="962" y2="1927.2" stroke="#000" stroke-width="4.5" />
<text x="963" y="1955.5" font-size="30" text-anchor="middle" textLength="48" lengthAdjust="spacingAndGlyphs">500</text>
<line x1="1034.9" y1="1917.2" x2="1034.9" y2="1921.6" stroke="#000" stroke-width="4" />
<line x1="1107.8" y1="1917.2" x2="1107.8" y2="1927.2" stroke="#000" stroke-width="4.5" />
<text x="1108.8" y="1955.5" font-size="30" text-anchor="middle" textLength="48" lengthAdjust="spacingAndGlyphs">600</text>
<line x1="1180.6" y1="1917.2" x2="1180.6" y2="1921.6" stroke="#000" stroke-width="4" />
<line x1="1253.5" y1="1917.2" x2="1253.5" y2="1927.2" stroke="#000" stroke-width="4.5" />
<text x="1254.5" y="1955.5" font-size="30" text-anchor="middle" textLength="48" lengthAdjust="spacingAndGlyphs">700</text>
<line x1="1326.4" y1="1917.2" x2="1326.4" y2="1921.6" stroke="#000" stroke-width="4" />
<line x1="1399.2" y1="1917.2" x2="1399.2" y2="1927.2" stroke="#000" stroke-width="4.5" />
<text x="1400.2" y="1955.5" font-size="30" text-anchor="middle" textLength="48" lengthAdjust="spacingAndGlyphs">800</text>
<text x="1026" y="2012.3" font-size="38.5" textLength="309.5" lengthAdjust="spacingAndGlyphs">Wavelength (nm)</text>
<text x="0" y="0" transform="translate(804.5,1936.5) rotate(-90)" font-size="40.5" textLength="509" lengthAdjust="spacingAndGlyphs">Normalized PL Counts (a.u.)</text>
<line x1="895.7" y1="1459" x2="949.1" y2="1459" stroke="#000000" stroke-width="3.2" />
<line x1="895.7" y1="1495.2" x2="949.1" y2="1495.2" stroke="#0000ff" stroke-width="3.2" />
<line x1="895.7" y1="1531.9" x2="949.1" y2="1531.9" stroke="#007f00" stroke-width="3.2" />
<text x="955.9" y="1467.4" font-size="22.2" textLength="143" lengthAdjust="spacingAndGlyphs">MAPbI<tspan font-size="15" dy="6.5">3</tspan><tspan dy="-6.5">:Day-1</tspan></text>
<text x="955.9" y="1503.6" font-size="22.2" textLength="143" lengthAdjust="spacingAndGlyphs">MAPbI<tspan font-size="15" dy="6.5">3</tspan><tspan dy="-6.5">:Day-2</tspan></text>
<text x="955.9" y="1540.3" font-size="22.2" textLength="143" lengthAdjust="spacingAndGlyphs">MAPbI<tspan font-size="15" dy="6.5">3</tspan><tspan dy="-6.5">:Day-3</tspan></text>
<path d="M1073.6,1796 L1073.9,1796 L1074.3,1796 L1074.6,1796 L1074.9,1796 L1075.2,1796 L1075.6,1796 L1075.9,1796 L1076.2,1796 L1076.6,1796 L1076.9,1796 L1077.2,1796 L1077.6,1794.4 L1077.9,1792.2 L1078.2,1796 L1078.6,1796 L1078.9,1782.6 L1079.2,1775 L1079.5,1781.5 L1079.9,1782.6 L1080.2,1769.6 L1080.5,1775.1 L1080.9,1766.5 L1081.2,1759.1 L1081.5,1761.9 L1081.9,1762.6 L1082.2,1756.3 L1082.5,1761.8 L1082.9,1756.7 L1083.2,1756.6 L1083.5,1752.1 L1083.8,1751.4 L1084.2,1747.4 L1084.5,1746.3 L1084.8,1741.4 L1085.2,1739.3 L1085.5,1735.9 L1085.8,1727.3 L1086.2,1742.3 L1086.5,1723.8 L1086.8,1730.7 L1087.2,1734.5 L1087.5,1726.4 L1087.8,1723 L1088.1,1715.5 L1088.5,1725.9 L1088.8,1716.7 L1089.1,1715.5 L1089.5,1724.2 L1089.8,1719.7 L1090.1,1707.6 L1090.5,1705.5 L1090.8,1701.6 L1091.1,1703.2 L1091.5,1702.5 L1091.8,1702.6 L1092.1,1694.8 L1092.4,1705.3 L1092.8,1699.8 L1093.1,1695.4 L1093.4,1705.4 L1093.8,1687.4 L1094.1,1698.3 L1094.4,1692.9 L1094.8,1678.9 L1095.1,1695 L1095.4,1692.1 L1095.8,1678.9 L1096.1,1693.2 L1096.4,1688.4 L1096.7,1681.9 L1097.1,1681.3 L1097.4,1679.6 L1097.7,1680 L1098.1,1673.5 L1098.4,1674.6 L1098.7,1676.2 L1099.1,1682.9 L1099.4,1682.3 L1099.7,1688.6 L1100.1,1672.9 L1100.4,1686.8 L1100.7,1670.6 L1101,1664.5 L1101.4,1680.8 L1101.7,1678.1 L1102,1676.5 L1102.4,1668.5 L1102.7,1677.9 L1103,1673.3 L1103.4,1675.3 L1103.7,1673.5 L1104,1664.3 L1104.3,1677.1 L1104.7,1671 L1105,1669.7 L1105.3,1666.2 L1105.7,1678.4 L1106,1664.6 L1106.3,1668.5 L1106.7,1666 L1107,1670.7 L1107.3,1680.7 L1107.7,1675.1 L1108,1666.8 L1108.3,1671.5 L1108.6,1672.2 L1109,1661.9 L1109.3,1659.8 L1109.6,1673.1 L1110,1662.1 L1110.3,1685.2 L1110.6,1686 L1111,1669.5 L1111.3,1676.6 L1111.6,1672.3 L1112,1673.2 L1112.3,1677.3 L1112.6,1673.5 L1112.9,1677.2 L1113.3,1687.7 L1113.6,1678.3 L1113.9,1679.3 L1114.3,1670.6 L1114.6,1688.6 L1114.9,1682.8 L1115.3,1686.3 L1115.6,1685.5 L1115.9,1676.1 L1116.3,1684.6 L1116.6,1690.5 L1116.9,1688 L1117.2,1685.6 L1117.6,1696.9 L1117.9,1693.9 L1118.2,1684.7 L1118.6,1689.9 L1118.9,1696.4 L1119.2,1700.2 L1119.6,1699.7 L1119.9,1709.2 L1120.2,1696.2 L1120.6,1701.1 L1120.9,1703.8 L1121.2,1713.6 L1121.5,1711.8 L1121.9,1706.3 L1122.2,1709.4 L1122.5,1715.4 L1122.9,1711.3 L1123.2,1710.5 L1123.5,1721.7 L1123.9,1722.6 L1124.2,1726.4 L1124.5,1729.9 L1124.9,1720.5 L1125.2,1724.1 L1125.5,1727.1 L1125.8,1737.8 L1126.2,1739.1 L1126.5,1735.6 L1126.8,1739.7 L1127.2,1738.7 L1127.5,1745.6 L1127.8,1740 L1128.2,1735.6 L1128.5,1739.3 L1128.8,1741.3 L1129.2,1752.5 L1129.5,1750 L1129.8,1759.9 L1130.1,1754.9 L1130.5,1764.9 L1130.8,1768 L1131.1,1771.5 L1131.5,1766.3 L1131.8,1771.3 L1132.1,1774.5 L1132.5,1784.9 L1132.8,1780.1 L1133.1,1792.1 L1133.5,1778 L1133.8,1790.1 L1134.1,1791.1 L1134.4,1795.7 L1134.8,1796 L1135.1,1796 L1135.4,1796 L1135.8,1796 L1136.1,1796 L1136.4,1796 L1136.8,1796 L1137.1,1796 L1137.4,1796 L1137.8,1796 L1138.1,1796 L1138.4,1796 L1138.7,1796" fill="none" stroke="#000000" stroke-width="1.2" stroke-linejoin="round" stroke-linecap="round" />
<path d="M1063.4,1796 L1063.7,1796 L1064.1,1796 L1064.4,1796 L1064.7,1796 L1065,1796 L1065.4,1796 L1065.7,1796 L1066,1796 L1066.4,1796 L1066.7,1796 L1067,1796 L1067.4,1795.6 L1067.7,1796 L1068,1788.1 L1068.4,1788.5 L1068.7,1786.8 L1069,1773.2 L1069.3,1778.8 L1069.7,1779.6 L1070,1782.2 L1070.3,1767.8 L1070.7,1766.6 L1071,1775.1 L1071.3,1767.5 L1071.7,1763 L1072,1770.7 L1072.3,1761 L1072.7,1749.6 L1073,1763.6 L1073.3,1749.9 L1073.6,1740.1 L1074,1751.4 L1074.3,1748.4 L1074.6,1742.6 L1075,1738.8 L1075.3,1737.4 L1075.6,1745.7 L1076,1739.6 L1076.3,1732.9 L1076.6,1733.2 L1077,1723.4 L1077.3,1729.4 L1077.6,1727.8 L1077.9,1714 L1078.3,1722.7 L1078.6,1725.8 L1078.9,1718.8 L1079.3,1718.3 L1079.6,1711.5 L1079.9,1711.3 L1080.3,1714 L1080.6,1712.7 L1080.9,1711.9 L1081.3,1700.3 L1081.6,1695.2 L1081.9,1705 L1082.2,1700.2 L1082.6,1700 L1082.9,1703.3 L1083.2,1702.1 L1083.6,1700.6 L1083.9,1707.1 L1084.2,1699.6 L1084.6,1691.9 L1084.9,1688.3 L1085.2,1693.2 L1085.6,1693.1 L1085.9,1686.6 L1086.2,1677.9 L1086.5,1693 L1086.9,1691.3 L1087.2,1688.5 L1087.5,1682.3 L1087.9,1689.1 L1088.2,1681.1 L1088.5,1686.8 L1088.9,1679.1 L1089.2,1683.1 L1089.5,1683 L1089.9,1675.7 L1090.2,1685.9 L1090.5,1683 L1090.8,1674.4 L1091.2,1673.7 L1091.5,1676.2 L1091.8,1688.7 L1092.2,1672.5 L1092.5,1674.2 L1092.8,1677.5 L1093.2,1685.9 L1093.5,1670.6 L1093.8,1665.4 L1094.2,1671.9 L1094.5,1667.2 L1094.8,1677.8 L1095.1,1673.1 L1095.5,1677.5 L1095.8,1680 L1096.1,1675.8 L1096.5,1678.9 L1096.8,1678 L1097.1,1678.2 L1097.5,1676.4 L1097.8,1675.8 L1098.1,1673.7 L1098.5,1681.4 L1098.8,1673.2 L1099.1,1685 L1099.4,1675.1 L1099.8,1675.3 L1100.1,1688.7 L1100.4,1678.4 L1100.8,1671.1 L1101.1,1675 L1101.4,1680.6 L1101.8,1681.4 L1102.1,1677.4 L1102.4,1678.7 L1102.8,1675.8 L1103.1,1680.1 L1103.4,1676.7 L1103.7,1680.1 L1104.1,1687.2 L1104.4,1689.3 L1104.7,1687.5 L1105.1,1683.3 L1105.4,1691.1 L1105.7,1682.5 L1106.1,1696.6 L1106.4,1690.6 L1106.7,1695.3 L1107.1,1689.6 L1107.4,1691.6 L1107.7,1694.3 L1108,1701.3 L1108.4,1700.6 L1108.7,1700.6 L1109,1692.9 L1109.4,1703 L1109.7,1698.1 L1110,1697.2 L1110.4,1708.1 L1110.7,1707.8 L1111,1718.3 L1111.4,1710.1 L1111.7,1705.5 L1112,1716 L1112.3,1710.6 L1112.7,1709.8 L1113,1713.8 L1113.3,1719.8 L1113.7,1717.9 L1114,1724.5 L1114.3,1724.9 L1114.7,1711.5 L1115,1729 L1115.3,1731.8 L1115.7,1729.2 L1116,1730.4 L1116.3,1729.8 L1116.6,1740 L1117,1743.6 L1117.3,1745.3 L1117.6,1738 L1118,1738.4 L1118.3,1750.5 L1118.6,1751.3 L1119,1750.9 L1119.3,1758.2 L1119.6,1758 L1120,1752.6 L1120.3,1766.6 L1120.6,1760.4 L1120.9,1758.4 L1121.3,1773.1 L1121.6,1763.8 L1121.9,1772.2 L1122.3,1777.7 L1122.6,1772.7 L1122.9,1779.6 L1123.3,1784 L1123.6,1788.5 L1123.9,1792.6 L1124.3,1793.8 L1124.6,1794.9 L1124.9,1792.3 L1125.2,1796 L1125.6,1796 L1125.9,1796 L1126.2,1796 L1126.6,1796 L1126.9,1796 L1127.2,1796 L1127.6,1796 L1127.9,1796 L1128.2,1796 L1128.6,1796 L1128.9,1796" fill="none" stroke="#0000ff" stroke-width="1.2" stroke-linejoin="round" stroke-linecap="round" />
<path d="M1051.6,1796 L1051.9,1796 L1052.3,1796 L1052.6,1796 L1052.9,1796 L1053.3,1796 L1053.6,1796 L1053.9,1796 L1054.3,1796 L1054.6,1796 L1054.9,1791.2 L1055.3,1796 L1055.6,1796 L1055.9,1796 L1056.2,1794.1 L1056.6,1796 L1056.9,1783.4 L1057.2,1794.9 L1057.6,1796 L1057.9,1788.6 L1058.2,1792 L1058.6,1774.2 L1058.9,1776.1 L1059.2,1781.2 L1059.6,1781.8 L1059.9,1772.4 L1060.2,1780.7 L1060.5,1768 L1060.9,1773 L1061.2,1762.4 L1061.5,1755.6 L1061.9,1762.2 L1062.2,1758.3 L1062.5,1754.9 L1062.9,1747.8 L1063.2,1746.7 L1063.5,1747.1 L1063.9,1746 L1064.2,1756.8 L1064.5,1761.7 L1064.8,1753.1 L1065.2,1716.6 L1065.5,1739.7 L1065.8,1744.4 L1066.2,1733 L1066.5,1734.9 L1066.8,1729.1 L1067.2,1727 L1067.5,1737.9 L1067.8,1735.3 L1068.2,1719 L1068.5,1733.8 L1068.8,1722.8 L1069.1,1727.7 L1069.5,1718.4 L1069.8,1714.1 L1070.1,1723.6 L1070.5,1708.4 L1070.8,1721.6 L1071.1,1720.9 L1071.5,1715.3 L1071.8,1711.3 L1072.1,1717 L1072.5,1732.6 L1072.8,1714.6 L1073.1,1705.1 L1073.4,1702.1 L1073.8,1704.3 L1074.1,1682.9 L1074.4,1698.1 L1074.8,1708.2 L1075.1,1700.7 L1075.4,1696.6 L1075.8,1693.3 L1076.1,1691.7 L1076.4,1692.4 L1076.8,1699.9 L1077.1,1683.1 L1077.4,1684.6 L1077.7,1692.7 L1078.1,1695.5 L1078.4,1685.2 L1078.7,1690.2 L1079.1,1697.9 L1079.4,1681.9 L1079.7,1689.3 L1080.1,1670.7 L1080.4,1713.3 L1080.7,1676.9 L1081.1,1690.3 L1081.4,1692.7 L1081.7,1681 L1082,1661.9 L1082.4,1692.8 L1082.7,1675.2 L1083,1673.8 L1083.4,1677.7 L1083.7,1686.4 L1084,1682.9 L1084.4,1663.7 L1084.7,1681.6 L1085,1677.9 L1085.4,1675.3 L1085.7,1672.3 L1086,1666.3 L1086.3,1665.7 L1086.7,1680.7 L1087,1687.5 L1087.3,1674.2 L1087.7,1689.1 L1088,1686.3 L1088.3,1681.4 L1088.7,1686.9 L1089,1682.6 L1089.3,1673.1 L1089.7,1673 L1090,1673.9 L1090.3,1683 L1090.6,1667.7 L1091,1671 L1091.3,1694.3 L1091.6,1680.2 L1092,1670.5 L1092.3,1681 L1092.6,1670.5 L1093,1678.7 L1093.3,1659.7 L1093.6,1680.8 L1094,1686.3 L1094.3,1679.5 L1094.6,1685.6 L1094.9,1683.3 L1095.3,1686 L1095.6,1689.8 L1095.9,1673.9 L1096.3,1682.5 L1096.6,1681.3 L1096.9,1696.6 L1097.3,1673.6 L1097.6,1699.7 L1097.9,1687 L1098.3,1685.4 L1098.6,1699.6 L1098.9,1674.6 L1099.2,1692.8 L1099.6,1692.9 L1099.9,1687.8 L1100.2,1683.7 L1100.6,1686.5 L1100.9,1697.8 L1101.2,1691.1 L1101.6,1693.8 L1101.9,1686.7 L1102.2,1685.7 L1102.6,1695.6 L1102.9,1694.3 L1103.2,1690.3 L1103.5,1698.7 L1103.9,1698 L1104.2,1691.1 L1104.5,1700.6 L1104.9,1700.5 L1105.2,1708.7 L1105.5,1708.2 L1105.9,1705.9 L1106.2,1700.1 L1106.5,1719.1 L1106.9,1712.3 L1107.2,1707.9 L1107.5,1706.4 L1107.8,1712.3 L1108.2,1719.5 L1108.5,1710.8 L1108.8,1716.1 L1109.2,1715.3 L1109.5,1725.8 L1109.8,1720 L1110.2,1725 L1110.5,1727.8 L1110.8,1735.4 L1111.2,1737.1 L1111.5,1742.1 L1111.8,1720.9 L1112.1,1737.2 L1112.5,1718.9 L1112.8,1750.3 L1113.1,1739.2 L1113.5,1729 L1113.8,1750.6 L1114.1,1752 L1114.5,1741.6 L1114.8,1742.1 L1115.1,1747.4 L1115.5,1755.9 L1115.8,1752.6 L1116.1,1737.5 L1116.4,1746.4 L1116.8,1756.6 L1117.1,1765.8 L1117.4,1764.1 L1117.8,1750.7 L1118.1,1756.7 L1118.4,1779.6 L1118.8,1775.6 L1119.1,1767 L1119.4,1759.4 L1119.8,1787.4 L1120.1,1777.1 L1120.4,1769.6 L1120.7,1773.4 L1121.1,1795.5 L1121.4,1791.9 L1121.7,1785.3 L1122.1,1795.5 L1122.4,1788.7 L1122.7,1796 L1123.1,1788.7 L1123.4,1796 L1123.7,1796 L1124.1,1794.7 L1124.4,1796 L1124.7,1796 L1125,1796 L1125.4,1796 L1125.7,1796 L1126,1796 L1126.4,1796 L1126.7,1796 L1127,1796 L1127.4,1796" fill="none" stroke="#007f00" stroke-width="1.2" stroke-linejoin="round" stroke-linecap="round" />
<rect x="989.2" y="1584.8" width="261.8" height="211.2" fill="none" stroke="#1a1a1a" stroke-width="2.2" />
<line x1="985.2" y1="1782" x2="989.2" y2="1782" stroke="#000" stroke-width="1.5" />
<text x="983.2" y="1786.8" font-size="13.6" text-anchor="end" textLength="28" lengthAdjust="spacingAndGlyphs">0.94</text>
<line x1="986.7" y1="1762.7" x2="989.2" y2="1762.7" stroke="#000" stroke-width="1.2" />
<line x1="985.2" y1="1743.4" x2="989.2" y2="1743.4" stroke="#000" stroke-width="1.5" />
<text x="983.2" y="1748.2" font-size="13.6" text-anchor="end" textLength="28" lengthAdjust="spacingAndGlyphs">0.96</text>
<line x1="986.7" y1="1724.1" x2="989.2" y2="1724.1" stroke="#000" stroke-width="1.2" />
<line x1="985.2" y1="1704.8" x2="989.2" y2="1704.8" stroke="#000" stroke-width="1.5" />
<text x="983.2" y="1709.6" font-size="13.6" text-anchor="end" textLength="28" lengthAdjust="spacingAndGlyphs">0.98</text>
<line x1="986.7" y1="1685.5" x2="989.2" y2="1685.5" stroke="#000" stroke-width="1.2" />
<line x1="985.2" y1="1666.2" x2="989.2" y2="1666.2" stroke="#000" stroke-width="1.5" />
<text x="983.2" y="1671" font-size="13.6" text-anchor="end" textLength="28" lengthAdjust="spacingAndGlyphs">1.00</text>
<line x1="986.7" y1="1646.9" x2="989.2" y2="1646.9" stroke="#000" stroke-width="1.2" />
<line x1="985.2" y1="1627.6" x2="989.2" y2="1627.6" stroke="#000" stroke-width="1.5" />
<text x="983.2" y="1632.4" font-size="13.6" text-anchor="end" textLength="28" lengthAdjust="spacingAndGlyphs">1.02</text>
<line x1="986.7" y1="1608.3" x2="989.2" y2="1608.3" stroke="#000" stroke-width="1.2" />
<line x1="985.2" y1="1589" x2="989.2" y2="1589" stroke="#000" stroke-width="1.5" />
<text x="983.2" y="1593.8" font-size="13.6" text-anchor="end" textLength="28" lengthAdjust="spacingAndGlyphs">1.04</text>
<line x1="991.4" y1="1796" x2="991.4" y2="1798.5" stroke="#000" stroke-width="1.2" />
<line x1="1015" y1="1796" x2="1015" y2="1800" stroke="#000" stroke-width="1.5" />
<text x="1015" y="1815.4" font-size="14" text-anchor="middle" textLength="24.5" lengthAdjust="spacingAndGlyphs">750</text>
<line x1="1038.6" y1="1796" x2="1038.6" y2="1798.5" stroke="#000" stroke-width="1.2" />
<line x1="1062.2" y1="1796" x2="1062.2" y2="1800" stroke="#000" stroke-width="1.5" />
<text x="1062.2" y="1815.4" font-size="14" text-anchor="middle" textLength="24.5" lengthAdjust="spacingAndGlyphs">760</text>
<line x1="1085.9" y1="1796" x2="1085.9" y2="1798.5" stroke="#000" stroke-width="1.2" />
<line x1="1109.5" y1="1796" x2="1109.5" y2="1800" stroke="#000" stroke-width="1.5" />
<text x="1109.5" y="1815.4" font-size="14" text-anchor="middle" textLength="24.5" lengthAdjust="spacingAndGlyphs">770</text>
<line x1="1133.1" y1="1796" x2="1133.1" y2="1798.5" stroke="#000" stroke-width="1.2" />
<line x1="1156.8" y1="1796" x2="1156.8" y2="1800" stroke="#000" stroke-width="1.5" />
<text x="1156.8" y="1815.4" font-size="14" text-anchor="middle" textLength="24.5" lengthAdjust="spacingAndGlyphs">780</text>
<line x1="1180.4" y1="1796" x2="1180.4" y2="1798.5" stroke="#000" stroke-width="1.2" />
<line x1="1204" y1="1796" x2="1204" y2="1800" stroke="#000" stroke-width="1.5" />
<text x="1204" y="1815.4" font-size="14" text-anchor="middle" textLength="24.5" lengthAdjust="spacingAndGlyphs">790</text>
<line x1="1227.6" y1="1796" x2="1227.6" y2="1798.5" stroke="#000" stroke-width="1.2" />
<text x="1050.8" y="1840.5" font-size="17.5" textLength="138.6" lengthAdjust="spacingAndGlyphs">Wavelength (nm)</text>
<text x="0" y="0" transform="translate(942.5,1804.9) rotate(-90)" font-size="16.5" textLength="229.2" lengthAdjust="spacingAndGlyphs">Normalized PL Counts (a.u.)</text>
<line x1="992" y1="1593.3" x2="1021.9" y2="1593.3" stroke="#000000" stroke-width="1.4" />
<line x1="992" y1="1613" x2="1021.9" y2="1613" stroke="#0000ff" stroke-width="1.4" />
<line x1="992" y1="1633" x2="1021.9" y2="1633" stroke="#007f00" stroke-width="1.4" />
<text x="1026" y="1598" font-size="13.3" textLength="87.5" lengthAdjust="spacingAndGlyphs">MAPbI<tspan font-size="9" dy="3.5">3</tspan><tspan dy="-3.5">:Day-1</tspan></text>
<text x="1026" y="1617.8" font-size="13.3" textLength="87.5" lengthAdjust="spacingAndGlyphs">MAPbI<tspan font-size="9" dy="3.5">3</tspan><tspan dy="-3.5">:Day-2</tspan></text>
<text x="1026" y="1637.8" font-size="13.3" textLength="87.5" lengthAdjust="spacingAndGlyphs">MAPbI<tspan font-size="9" dy="3.5">3</tspan><tspan dy="-3.5">:Day-3</tspan></text>
<path d="M1132.8,1715.8 L1114.9,1749.1 L1110.9,1747 L1110,1763.5 L1123.3,1753.6 L1119.3,1751.5 L1137.2,1718.2Z" fill="#0070c0"/>
<rect x="1301.7" y="1464.7" width="98.3" height="108.3" fill="none" stroke="#3404c0" stroke-width="2" stroke-dasharray="5.2 1.7"/>
<line x1="1295" y1="1472.6" x2="1206" y2="1564" stroke="#3404c0" stroke-width="1.3" />
<path d="M1198.5,1571.5 L1202.8,1559.6 L1210.3,1566.9Z" fill="#3404c0"/>
<line x1="1322.7" y1="1576.6" x2="1270" y2="1763" stroke="#3404c0" stroke-width="1.1" stroke-dasharray="2.2 1.6"/>
<path d="M1267.5,1773.5 L1265.7,1761.6 L1275.3,1764.3Z" fill="#3404c0"/>
</svg>
</body></html>
